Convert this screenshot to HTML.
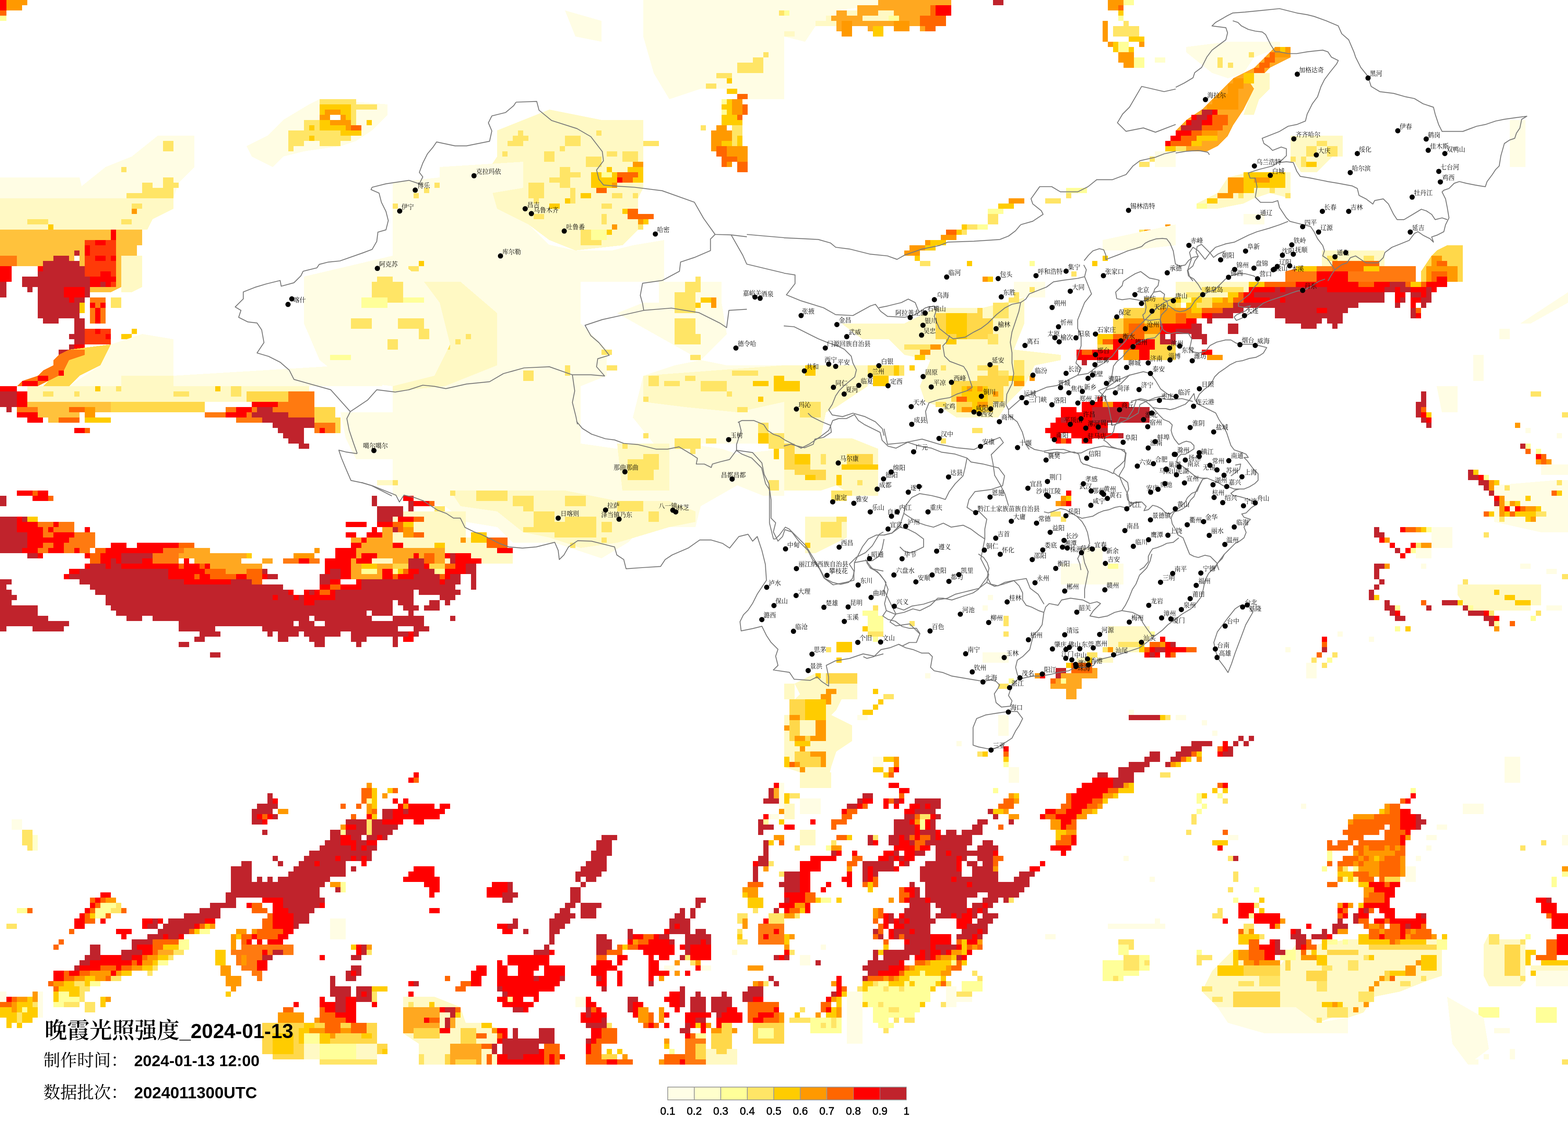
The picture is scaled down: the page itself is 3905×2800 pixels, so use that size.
<!DOCTYPE html>
<html><head><meta charset="utf-8"><title>晚霞光照强度_2024-01-13</title>
<style>
html,body{margin:0;padding:0;background:#fff;}
body{width:3905px;height:2800px;overflow:hidden;position:relative;}
svg{position:absolute;left:0;top:0;}
.c1{fill:#fffee6}
.c2{fill:#ffffcc}
.c3{fill:#ffff99}
.c4{fill:#ffe566}
.c5{fill:#ffcc00}
.c6{fill:#ff9900}
.c7{fill:#ff6600}
.c8{fill:#ff0000}
.c9{fill:#c0232c}
.cw{fill:#ffffff}
.ca{fill:#fffde4}
.cb{fill:#fff9c4}
.cc{fill:#ffd84a}
.cd{fill:#ffa820}
.ce{fill:#ff7a10}
.cf{fill:#ff3a08}
.cg{fill:#ffc23c}
.bd{fill:none;stroke:#7a7a7a;stroke-width:2.2;stroke-linejoin:round}
.ct text{font-family:"Liberation Serif","Noto Serif CJK SC",serif;font-size:15.5px;fill:#000}
.ttl{position:absolute;left:0;top:0;font-family:"Liberation Sans",sans-serif;color:#000;white-space:nowrap}
.cjk{font-family:"Noto Serif CJK SC","Liberation Serif",serif}
.lg text{font-family:"Liberation Sans","DejaVu Sans",sans-serif;font-size:27px;fill:#000;stroke:#000;stroke-width:0.6px}
</style></head><body>
<svg width="3905" height="2800" viewBox="0 0 3905 2800" xmlns="http://www.w3.org/2000/svg" shape-rendering="crispEdges">
<g id="heat">
<path class="c6" d="M16 0L68 0L68 13L16 13Z"/>
<path class="c6" d="M16 13L55 13L55 26L16 26Z"/>
<path class="c8" d="M0 0L16 0L16 39L0 39Z"/>
<path class="c7" d="M0 26L16 26L16 39L0 39Z"/>
<path class="c3" d="M0 39L16 39L16 52L0 52Z"/>
<path class="c4" d="M0 52L0 52L0 65L0 65Z"/>
<path class="ca" d="M614 364L666 338L705 299L770 260L796 247L965 260L965 286L926 325L887 351L848 364L757 377L705 390L679 416L627 390Z"/>
<path class="c4" d="M718 325L757 325L757 299L796 299L796 247L887 247L887 260L939 260L939 273L887 273L887 325L900 325L900 338L874 338L874 351L848 351L848 364L796 364L796 351L757 351L757 364L731 364L731 377L718 377Z"/>
<path class="c5" d="M796 260L874 260L874 325L796 325Z"/>
<path class="c5" d="M848 325L900 325L900 338L848 338Z"/>
<path class="c6" d="M809 273L848 273L848 286L861 286L861 299L874 299L874 312L822 312L822 299L796 299L796 286L809 286Z"/>
<path class="cw" d="M822 286L848 286L848 299L822 299Z"/>
<path class="c6" d="M861 312L874 312L874 325L861 325Z"/>
<path class="c7" d="M874 312L900 312L900 325L874 325Z"/>
<path class="c5" d="M770 312L783 312L783 325L770 325Z"/>
<path class="c5" d="M770 338L783 338L783 351L770 351Z"/>
<path class="c5" d="M913 299L926 299L926 312L913 312Z"/>
<path class="ca" d="M198 468L263 416L328 390L393 338L432 338L484 338L484 416L445 455L432 494L211 494Z"/>
<path class="ca" d="M0 442L198 442L211 494L0 494Z"/>
<path class="c4" d="M367 494L380 494L380 468L406 468L406 442L432 442L432 455L445 455L445 468L432 468L432 494Z"/>
<path class="c4" d="M406 351L432 351L432 377L406 377Z"/>
<path class="c4" d="M302 416L315 416L315 429L302 429Z"/>
<path class="c4" d="M354 455L380 455L380 494L354 494Z"/>
<path class="c4" d="M315 481L354 481L354 494L315 494Z"/>
<path class="cb" d="M0 494L432 494L432 520L380 546L367 572L0 572Z"/>
<path class="c4" d="M328 507L354 507L354 520L328 520Z"/>
<path class="c6" d="M328 520L341 520L341 533L328 533Z"/>
<path class="c4" d="M68 546L120 546L120 559L68 559Z"/>
<path class="c5" d="M120 559L133 559L133 572L120 572Z"/>
<path class="c4" d="M302 546L328 546L328 559L302 559Z"/>
<path class="cg" d="M0 572L354 572L354 611L341 611L341 637L302 637L302 715L276 728L224 728L224 689L211 689L211 663L198 663L198 624L185 624L185 650L172 650L172 637L133 637L133 650L107 650L107 676L94 676L94 689L55 689L55 663L42 663L42 650L0 650Z"/>
<path class="cb" d="M302 637L354 637L354 715L328 728L302 728L302 715Z"/>
<path class="cw" d="M55 663L94 663L94 689L55 689Z"/>
<path class="cw" d="M0 728L55 728L55 806L0 806Z"/>
<path class="cf" d="M211 598L289 598L289 715L211 715Z"/>
<path class="c8" d="M276 572L289 572L289 598L276 598Z"/>
<path class="c8" d="M237 598L263 598L263 611L237 611Z"/>
<path class="c8" d="M211 611L224 611L224 637L211 637Z"/>
<path class="c8" d="M276 637L289 637L289 650L276 650Z"/>
<path class="c8" d="M237 637L263 637L263 650L237 650Z"/>
<path class="c8" d="M250 676L276 676L276 689L250 689Z"/>
<path class="c8" d="M224 689L289 689L289 702L224 702Z"/>
<path class="c8" d="M224 702L250 702L250 715L224 715Z"/>
<path class="c8" d="M263 702L276 702L276 715L263 715Z"/>
<path class="ce" d="M0 637L42 637L42 663L0 663Z"/>
<path class="c8" d="M0 663L29 663L29 702L0 702Z"/>
<path class="c9" d="M185 624L198 624L198 637L185 637Z"/>
<path class="c9" d="M133 637L172 637L172 650L133 650Z"/>
<path class="c9" d="M107 650L198 650L198 663L107 663Z"/>
<path class="c9" d="M107 663L211 663L211 676L107 676Z"/>
<path class="c9" d="M94 676L211 676L211 689L94 689Z"/>
<path class="c9" d="M55 689L224 689L224 715L55 715Z"/>
<path class="c9" d="M68 715L81 715L81 728L68 728Z"/>
<path class="c9" d="M94 715L159 715L159 741L94 741Z"/>
<path class="c9" d="M211 715L224 715L224 741L211 741Z"/>
<path class="c9" d="M94 741L211 741L211 754L94 754Z"/>
<path class="c9" d="M94 754L198 754L198 793L94 793Z"/>
<path class="c9" d="M107 793L146 793L146 806L107 806Z"/>
<path class="c9" d="M185 793L211 793L211 832L185 832Z"/>
<path class="c9" d="M172 832L211 832L211 845L172 845Z"/>
<path class="c9" d="M185 845L211 845L211 858L185 858Z"/>
<path class="c9" d="M172 858L185 858L185 871L172 871Z"/>
<path class="c9" d="M146 871L172 871L172 884L146 884Z"/>
<path class="c9" d="M0 702L16 702L16 741L0 741Z"/>
<path class="c9" d="M250 702L263 702L263 715L250 715Z"/>
<path class="c8" d="M159 715L211 715L211 741L159 741Z"/>
<path class="c8" d="M172 741L185 741L185 754L172 754Z"/>
<path class="c8" d="M185 858L211 858L211 871L185 871Z"/>
<path class="c8" d="M94 663L107 663L107 676L94 676Z"/>
<path class="ce" d="M224 741L263 741L263 806L224 806Z"/>
<path class="c8" d="M224 754L237 754L237 767L224 767Z"/>
<path class="c8" d="M237 767L250 767L250 806L237 806Z"/>
<path class="c8" d="M250 754L263 754L263 767L250 767Z"/>
<path class="c5" d="M198 754L211 754L211 780L198 780Z"/>
<path class="c4" d="M276 741L302 741L302 767L276 767Z"/>
<path class="cf" d="M211 819L276 819L276 858L211 858Z"/>
<path class="c8" d="M237 819L250 819L250 832L237 832Z"/>
<path class="c8" d="M263 832L276 832L276 845L263 845Z"/>
<path class="c5" d="M302 832L328 832L328 845L302 845Z"/>
<path class="c5" d="M328 819L341 819L341 832L328 832Z"/>
<path class="cc" d="M172 871L276 858L276 884L250 910L198 936L172 962L107 962L146 923L146 884L172 884Z"/>
<path class="ce" d="M172 871L211 871L211 884L172 897L159 923L146 923L146 936L120 949L94 962L42 962L55 949L94 936L107 923L133 910L133 897L146 884Z"/>
<path class="c8" d="M146 923L159 923L159 936L146 936Z"/>
<path class="c8" d="M94 936L120 936L120 949L94 949Z"/>
<path class="c8" d="M55 949L94 949L94 962L55 962Z"/>
<path class="ca" d="M276 858L354 832L432 845L432 962L172 962L250 910Z"/>
<path class="ca" d="M432 936L861 910L952 949L952 962L432 962Z"/>
<path class="cb" d="M302 936L432 936L432 962L302 962Z"/>
<path class="c9" d="M0 975L42 975L42 1014L0 1014Z"/>
<path class="c9" d="M16 1014L29 1014L29 1027L16 1027Z"/>
<path class="c8" d="M0 962L42 962L42 975L0 975Z"/>
<path class="c8" d="M42 975L68 975L68 1014L42 1014Z"/>
<path class="ce" d="M42 1014L94 1014L94 1027L42 1027Z"/>
<path class="c8" d="M42 1027L120 1027L120 1040L42 1040Z"/>
<path class="c8" d="M68 1040L107 1040L107 1053L68 1053Z"/>
<path class="cg" d="M68 1001L276 1001L510 1001L510 1027L198 1027L198 1053L120 1053L120 1040L94 1040L94 1014L68 1014Z"/>
<path class="cb" d="M68 962L770 962L770 1001L68 1001Z"/>
<path class="c4" d="M107 975L133 975L133 988L107 988Z"/>
<path class="c4" d="M185 975L198 975L198 988L185 988Z"/>
<path class="c5" d="M237 962L250 962L250 975L237 975Z"/>
<path class="c4" d="M289 962L302 962L302 975L289 975Z"/>
<path class="c4" d="M432 975L471 975L471 988L432 988Z"/>
<path class="c5" d="M536 962L549 962L549 975L536 975Z"/>
<path class="c4" d="M575 962L601 962L601 988L575 988Z"/>
<path class="cc" d="M614 975L640 975L640 1001L614 1001Z"/>
<path class="c7" d="M146 1040L198 1040L198 1053L146 1053Z"/>
<path class="c5" d="M211 1040L276 1040L276 1053L211 1053Z"/>
<path class="c7" d="M172 1014L211 1014L211 1027L172 1027Z"/>
<path class="c6" d="M211 1014L237 1014L237 1040L211 1040Z"/>
<path class="c8" d="M185 1066L211 1066L211 1079L185 1079Z"/>
<path class="c7" d="M211 1066L224 1066L224 1079L211 1079Z"/>
<path class="cc" d="M276 1001L510 1001L510 1027L276 1027Z"/>
<path class="ce" d="M510 1027L562 1027L562 1014L627 1014L627 1001L718 1001L718 975L783 975L783 1014L835 1014L835 1079L783 1079L783 1053L588 1053L588 1040L510 1040Z"/>
<path class="cc" d="M718 975L640 975L640 1001L718 1001Z"/>
<path class="cc" d="M783 1014L835 1014L835 1040L848 1040L848 1079L835 1079L835 1053L783 1053Z"/>
<path class="c8" d="M562 1027L614 1027L614 1040L562 1040Z"/>
<path class="c8" d="M588 1014L627 1014L627 1027L588 1027Z"/>
<path class="c8" d="M627 1001L692 1001L692 1014L627 1014Z"/>
<path class="c8" d="M640 1027L666 1027L666 1040L640 1040Z"/>
<path class="c8" d="M796 1066L809 1066L809 1079L796 1079Z"/>
<path class="c9" d="M640 1014L679 1014L679 1027L718 1027L718 1040L783 1040L783 1066L757 1066L757 1105L770 1105L770 1118L744 1118L744 1105L718 1105L718 1092L705 1092L705 1079L692 1079L692 1066L679 1066L679 1053L653 1053L653 1040L627 1040L627 1027L640 1027Z"/>
<path class="c8" d="M42 1222L81 1222L81 1235L42 1235Z"/>
<path class="c7" d="M81 1222L94 1222L94 1235L81 1235Z"/>
<path class="c8" d="M94 1222L120 1222L120 1248L94 1248Z"/>
<path class="c8" d="M81 1235L94 1235L94 1248L81 1248Z"/>
<path class="c7" d="M120 1235L133 1235L133 1248L120 1248Z"/>
<path class="c9" d="M0 1209L0 1209L0 1287L0 1287Z"/>
<path class="c9" d="M0 1235L16 1235L16 1261L0 1261Z"/>
<path class="c9" d="M0 1287L68 1287L68 1378L0 1378Z"/>
<path class="ce" d="M29 1287L94 1287L94 1300L185 1300L185 1326L237 1326L237 1365L224 1365L224 1378L68 1378L68 1287Z"/>
<path class="c5" d="M68 1287L94 1287L94 1300L68 1300Z"/>
<path class="c8" d="M42 1287L55 1287L55 1300L42 1300Z"/>
<path class="c8" d="M42 1300L94 1300L94 1313L42 1313Z"/>
<path class="c8" d="M42 1313L107 1313L107 1326L42 1326Z"/>
<path class="c8" d="M68 1326L107 1326L107 1365L68 1365Z"/>
<path class="c8" d="M133 1300L146 1300L146 1313L133 1313Z"/>
<path class="c8" d="M120 1313L133 1313L133 1326L120 1326Z"/>
<path class="c8" d="M133 1326L185 1326L185 1339L133 1339Z"/>
<path class="c8" d="M107 1339L172 1339L172 1352L107 1352Z"/>
<path class="c8" d="M133 1352L159 1352L159 1378L133 1378Z"/>
<path class="c8" d="M55 1365L94 1365L94 1378L55 1378Z"/>
<path class="c8" d="M120 1365L146 1365L146 1378L120 1378Z"/>
<path class="c8" d="M185 1365L198 1365L198 1378L185 1378Z"/>
<path class="c8" d="M211 1313L224 1313L224 1326L211 1326Z"/>
<path class="c9" d="M68 1378L94 1378L94 1391L68 1391Z"/>
<path class="c8" d="M94 1378L107 1378L107 1391L94 1391Z"/>
<path class="c8" d="M276 1352L315 1352L315 1365L276 1365Z"/>
<path class="c8" d="M341 1352L445 1352L445 1365L341 1365Z"/>
<path class="c7" d="M445 1352L484 1352L484 1365L445 1365Z"/>
<path class="c7" d="M237 1365L263 1365L263 1378L237 1378Z"/>
<path class="c8" d="M263 1365L406 1365L406 1378L263 1378Z"/>
<path class="ce" d="M406 1365L458 1365L458 1378L406 1378Z"/>
<path class="cd" d="M458 1365L523 1365L523 1378L458 1378Z"/>
<path class="c8" d="M211 1378L224 1378L224 1391L211 1391Z"/>
<path class="c7" d="M224 1378L250 1378L250 1391L224 1391Z"/>
<path class="c8" d="M250 1378L302 1378L302 1391L250 1391Z"/>
<path class="c9" d="M302 1378L380 1378L380 1391L302 1391Z"/>
<path class="ce" d="M380 1378L445 1378L445 1391L380 1391Z"/>
<path class="cd" d="M445 1378L614 1378L614 1391L445 1391Z"/>
<path class="c5" d="M614 1378L627 1378L627 1391L614 1391Z"/>
<path class="c7" d="M224 1391L250 1391L250 1404L224 1404Z"/>
<path class="c8" d="M250 1391L276 1391L276 1404L250 1404Z"/>
<path class="c9" d="M276 1391L289 1391L289 1404L276 1404Z"/>
<path class="c8" d="M289 1391L302 1391L302 1404L289 1404Z"/>
<path class="c9" d="M302 1391L354 1391L354 1404L302 1404Z"/>
<path class="c8" d="M354 1391L380 1391L380 1404L354 1404Z"/>
<path class="ce" d="M380 1391L445 1391L445 1404L380 1404Z"/>
<path class="c8" d="M458 1391L471 1391L471 1404L458 1404Z"/>
<path class="cd" d="M484 1391L601 1391L601 1404L484 1404Z"/>
<path class="cd" d="M653 1391L679 1391L679 1404L653 1404Z"/>
<path class="ce" d="M705 1391L796 1391L796 1404L705 1404Z"/>
<path class="c8" d="M744 1391L770 1391L770 1404L744 1404Z"/>
<path class="c6" d="M731 1378L783 1378L783 1391L731 1391Z"/>
<path class="c6" d="M783 1365L796 1365L796 1378L783 1378Z"/>
<path class="c8" d="M211 1404L224 1404L224 1417L211 1417Z"/>
<path class="c9" d="M224 1404L263 1404L263 1417L224 1417Z"/>
<path class="c8" d="M263 1404L276 1404L276 1417L263 1417Z"/>
<path class="c9" d="M276 1404L302 1404L302 1417L276 1417Z"/>
<path class="c8" d="M302 1404L445 1404L445 1417L302 1417Z"/>
<path class="c7" d="M445 1404L458 1404L458 1417L445 1417Z"/>
<path class="c8" d="M458 1404L497 1404L497 1417L458 1417Z"/>
<path class="c7" d="M497 1404L510 1404L510 1417L497 1417Z"/>
<path class="c8" d="M510 1404L523 1404L523 1417L510 1417Z"/>
<path class="cd" d="M523 1404L653 1404L653 1417L523 1417Z"/>
<path class="c8" d="M172 1417L198 1417L198 1430L172 1430Z"/>
<path class="c9" d="M198 1417L419 1417L419 1430L198 1430Z"/>
<path class="c8" d="M419 1417L510 1417L510 1430L419 1430Z"/>
<path class="c7" d="M510 1417L562 1417L562 1430L510 1430Z"/>
<path class="cd" d="M562 1417L614 1417L614 1430L562 1430Z"/>
<path class="c7" d="M614 1417L653 1417L653 1430L614 1430Z"/>
<path class="c9" d="M653 1417L666 1417L666 1430L653 1430Z"/>
<path class="c8" d="M159 1430L172 1430L172 1443L159 1443Z"/>
<path class="c9" d="M172 1430L419 1430L419 1443L172 1443Z"/>
<path class="c8" d="M419 1430L484 1430L484 1443L419 1443Z"/>
<path class="c7" d="M484 1430L497 1430L497 1443L484 1443Z"/>
<path class="c8" d="M497 1430L523 1430L523 1443L497 1443Z"/>
<path class="c7" d="M523 1430L588 1430L588 1443L523 1443Z"/>
<path class="c8" d="M588 1430L614 1430L614 1443L588 1443Z"/>
<path class="c7" d="M614 1430L653 1430L653 1443L614 1443Z"/>
<path class="c8" d="M653 1430L666 1430L666 1443L653 1443Z"/>
<path class="c9" d="M666 1430L692 1430L692 1443L666 1443Z"/>
<path class="c9" d="M198 1443L458 1443L458 1456L198 1456Z"/>
<path class="c8" d="M458 1443L575 1443L575 1456L458 1456Z"/>
<path class="c9" d="M575 1443L627 1443L627 1456L575 1456Z"/>
<path class="c7" d="M627 1443L653 1443L653 1456L627 1456Z"/>
<path class="c9" d="M224 1456L705 1456L705 1469L224 1469Z"/>
<path class="c9" d="M237 1469L718 1469L718 1482L237 1482Z"/>
<path class="c8" d="M718 1469L731 1469L731 1482L718 1482Z"/>
<path class="c8" d="M757 1469L770 1469L770 1482L757 1482Z"/>
<path class="c9" d="M770 1469L783 1469L783 1482L770 1482Z"/>
<path class="c8" d="M783 1469L796 1469L796 1482L783 1482Z"/>
<path class="c7" d="M796 1469L822 1469L822 1482L796 1482Z"/>
<path class="c8" d="M822 1469L835 1469L835 1482L822 1482Z"/>
<path class="c9" d="M835 1469L978 1469L978 1482L835 1482Z"/>
<path class="c9" d="M263 1482L679 1482L679 1495L263 1495Z"/>
<path class="c8" d="M679 1482L692 1482L692 1495L679 1495Z"/>
<path class="c9" d="M692 1482L731 1482L731 1495L692 1495Z"/>
<path class="c8" d="M731 1482L744 1482L744 1495L731 1495Z"/>
<path class="c9" d="M744 1482L757 1482L757 1495L744 1495Z"/>
<path class="c8" d="M757 1482L835 1482L835 1495L757 1495Z"/>
<path class="c9" d="M835 1482L978 1482L978 1495L835 1495Z"/>
<path class="c9" d="M263 1495L757 1495L757 1508L263 1508Z"/>
<path class="c8" d="M757 1495L783 1495L783 1508L757 1508Z"/>
<path class="c9" d="M783 1495L978 1495L978 1508L783 1508Z"/>
<path class="c9" d="M276 1508L978 1508L978 1521L276 1521Z"/>
<path class="c9" d="M289 1521L913 1521L913 1534L289 1534Z"/>
<path class="c9" d="M926 1521L978 1521L978 1534L926 1534Z"/>
<path class="c9" d="M315 1534L354 1534L354 1547L315 1547Z"/>
<path class="c9" d="M380 1534L770 1534L770 1547L380 1547Z"/>
<path class="c9" d="M783 1534L926 1534L926 1547L783 1547Z"/>
<path class="c9" d="M445 1547L731 1547L731 1560L445 1560Z"/>
<path class="c9" d="M744 1547L783 1547L783 1560L744 1560Z"/>
<path class="c9" d="M809 1547L978 1547L978 1560L809 1560Z"/>
<path class="c9" d="M445 1560L536 1560L536 1573L445 1573Z"/>
<path class="c9" d="M653 1560L978 1560L978 1573L653 1573Z"/>
<path class="c9" d="M497 1573L549 1573L549 1586L497 1586Z"/>
<path class="c9" d="M666 1573L679 1573L679 1586L666 1586Z"/>
<path class="c9" d="M692 1573L744 1573L744 1586L692 1586Z"/>
<path class="c9" d="M757 1573L848 1573L848 1586L757 1586Z"/>
<path class="c9" d="M874 1573L978 1573L978 1586L874 1586Z"/>
<path class="c9" d="M484 1586L510 1586L510 1599L484 1599Z"/>
<path class="c9" d="M692 1586L718 1586L718 1599L692 1599Z"/>
<path class="c9" d="M770 1586L809 1586L809 1599L770 1599Z"/>
<path class="c9" d="M874 1586L913 1586L913 1599L874 1599Z"/>
<path class="c9" d="M445 1599L471 1599L471 1612L445 1612Z"/>
<path class="c9" d="M783 1599L809 1599L809 1612L783 1612Z"/>
<path class="c9" d="M887 1599L900 1599L900 1612L887 1612Z"/>
<path class="c9" d="M523 1625L549 1625L549 1638L523 1638Z"/>
<path class="c9" d="M926 1235L939 1235L939 1261L926 1261Z"/>
<path class="c9" d="M939 1261L978 1261L978 1300L939 1300Z"/>
<path class="c8" d="M861 1300L913 1300L913 1313L861 1313Z"/>
<path class="c8" d="M939 1300L978 1300L978 1313L939 1313Z"/>
<path class="c8" d="M926 1313L939 1313L939 1326L926 1326Z"/>
<path class="c8" d="M861 1326L887 1326L887 1339L861 1339Z"/>
<path class="c8" d="M913 1326L952 1326L952 1339L913 1339Z"/>
<path class="cd" d="M952 1313L978 1313L978 1339L952 1339Z"/>
<path class="cd" d="M874 1339L978 1339L978 1443L861 1443L861 1417L874 1417Z"/>
<path class="c8" d="M835 1365L874 1365L874 1352L900 1352L900 1339L913 1339L913 1352L900 1352L900 1365L887 1365L887 1391L874 1391L874 1443L848 1443L848 1456L822 1456L822 1469L796 1469L796 1430L809 1430L809 1391L835 1391Z"/>
<path class="c9" d="M822 1417L848 1417L848 1443L822 1443Z"/>
<path class="c9" d="M796 1430L822 1430L822 1456L796 1456Z"/>
<path class="c8" d="M887 1391L926 1391L926 1404L887 1404Z"/>
<path class="c8" d="M900 1378L939 1378L939 1391L900 1391Z"/>
<path class="c8" d="M952 1417L978 1417L978 1443L952 1443Z"/>
<path class="c8" d="M887 1443L900 1443L900 1456L887 1456Z"/>
<path class="c9" d="M900 1443L978 1443L978 1469L900 1469Z"/>
<path class="c8" d="M848 1456L900 1456L900 1469L848 1469Z"/>
<path class="c7" d="M822 1456L848 1456L848 1469L822 1469Z"/>
<path class="c3" d="M900 1417L939 1417L939 1430L900 1430Z"/>
<path class="c5" d="M900 1404L939 1404L939 1417L900 1417Z"/>
<path class="cb" d="M926 1391L978 1391L978 1404L926 1404Z"/>
<path class="c9" d="M0 1443L29 1443L29 1456L0 1456Z"/>
<path class="c9" d="M0 1456L16 1456L16 1469L0 1469Z"/>
<path class="c9" d="M0 1469L29 1469L29 1482L0 1482Z"/>
<path class="c9" d="M0 1482L42 1482L42 1495L0 1495Z"/>
<path class="c9" d="M0 1495L29 1495L29 1508L0 1508Z"/>
<path class="c9" d="M0 1508L94 1508L94 1534L0 1534Z"/>
<path class="c9" d="M0 1534L120 1534L120 1547L0 1547Z"/>
<path class="c9" d="M0 1547L172 1547L172 1560L0 1560Z"/>
<path class="c9" d="M0 1560L16 1560L16 1573L0 1573Z"/>
<path class="c9" d="M81 1560L159 1560L159 1573L81 1573Z"/>
<path class="ca" d="M848 1027L978 1027L978 1144L887 1144L861 1092Z"/>
<path class="cb" d="M939 1196L978 1196L978 1209L939 1209Z"/>
<path class="c4" d="M55 2067L81 2067L81 2106L55 2106Z"/>
<path class="c4" d="M68 2106L81 2106L81 2119L68 2119Z"/>
<path class="c2" d="M81 2080L94 2080L94 2119L81 2119Z"/>
<path class="c1" d="M29 2041L55 2041L55 2067L29 2067Z"/>
<path class="c4" d="M16 2301L42 2301L42 2314L16 2314Z"/>
<path class="c3" d="M42 2262L68 2262L68 2275L42 2275Z"/>
<path class="c7" d="M68 2262L81 2262L81 2275L68 2275Z"/>
<path class="c8" d="M250 2223L276 2223L276 2236L250 2236Z"/>
<path class="c7" d="M224 2236L237 2236L237 2249L224 2249Z"/>
<path class="c8" d="M237 2236L250 2236L250 2249L237 2249Z"/>
<path class="c7" d="M250 2236L263 2236L263 2249L250 2249Z"/>
<path class="c6" d="M263 2236L289 2236L289 2249L263 2249Z"/>
<path class="c8" d="M224 2249L237 2249L237 2262L224 2262Z"/>
<path class="c7" d="M237 2249L250 2249L250 2262L237 2262Z"/>
<path class="c3" d="M250 2249L289 2249L289 2262L250 2262Z"/>
<path class="c4" d="M289 2249L302 2249L302 2262L289 2262Z"/>
<path class="c8" d="M211 2262L224 2262L224 2275L211 2275Z"/>
<path class="c7" d="M224 2262L237 2262L237 2275L224 2275Z"/>
<path class="c3" d="M237 2262L276 2262L276 2275L237 2275Z"/>
<path class="c4" d="M276 2262L302 2262L302 2275L276 2275Z"/>
<path class="c7" d="M302 2262L315 2262L315 2275L302 2275Z"/>
<path class="c8" d="M198 2275L211 2275L211 2288L198 2288Z"/>
<path class="c7" d="M211 2275L224 2275L224 2301L211 2301Z"/>
<path class="c5" d="M224 2275L237 2275L237 2288L224 2288Z"/>
<path class="c3" d="M237 2275L263 2275L263 2288L237 2288Z"/>
<path class="c7" d="M263 2275L276 2275L276 2288L263 2288Z"/>
<path class="c8" d="M185 2288L211 2288L211 2314L185 2314Z"/>
<path class="c7" d="M224 2288L237 2288L237 2301L224 2301Z"/>
<path class="c8" d="M250 2288L263 2288L263 2301L250 2301Z"/>
<path class="c7" d="M172 2314L185 2314L185 2327L172 2327Z"/>
<path class="c8" d="M289 2314L328 2314L328 2327L289 2327Z"/>
<path class="c8" d="M302 2327L315 2327L315 2340L302 2340Z"/>
<path class="c8" d="M354 2288L380 2288L380 2301L354 2301Z"/>
<path class="c9" d="M380 2288L393 2288L393 2301L380 2301Z"/>
<path class="c8" d="M393 2288L406 2288L406 2301L393 2301Z"/>
<path class="c8" d="M354 2301L367 2301L367 2314L354 2314Z"/>
<path class="c9" d="M367 2301L393 2301L393 2314L367 2314Z"/>
<path class="c7" d="M146 2340L159 2340L159 2353L146 2353Z"/>
<path class="c7" d="M133 2353L146 2353L146 2366L133 2366Z"/>
<path class="c9" d="M224 2353L250 2353L250 2366L224 2366Z"/>
<path class="c9" d="M315 2366L328 2366L328 2340L367 2340L367 2327L393 2327L393 2314L406 2314L406 2301L419 2301L419 2288L458 2288L458 2275L497 2275L497 2262L523 2262L523 2249L562 2249L562 2223L575 2223L575 2158L601 2158L601 2145L627 2145L627 2197L640 2197L640 2184L653 2184L653 2197L666 2197L666 2184L679 2184L679 2197L692 2197L692 2184L718 2184L718 2171L731 2171L731 2158L744 2158L744 2145L757 2145L757 2132L770 2132L770 2119L796 2119L796 2106L809 2106L809 2093L822 2093L822 2067L848 2067L848 2054L861 2054L861 2041L952 2041L952 2015L978 2015L978 2080L965 2080L965 2093L939 2093L939 2119L926 2119L926 2145L861 2145L861 2184L822 2184L822 2197L809 2197L809 2210L796 2210L796 2236L809 2236L809 2262L783 2262L783 2275L770 2275L770 2301L744 2301L744 2314L731 2314L731 2275L705 2275L705 2236L588 2236L588 2262L549 2262L549 2288L536 2288L536 2301L484 2301L484 2314L471 2314L471 2327L458 2327L458 2340L406 2340L406 2353L380 2353L380 2366Z"/>
<path class="c8" d="M614 2249L627 2249L627 2262L614 2262Z"/>
<path class="c7" d="M627 2249L653 2249L653 2262L627 2262Z"/>
<path class="c7" d="M627 2262L666 2262L666 2275L627 2275Z"/>
<path class="c8" d="M653 2236L705 2236L705 2262L718 2262L718 2301L731 2301L731 2327L718 2327L718 2340L705 2340L705 2353L666 2353L666 2340L692 2340L692 2314L679 2314L679 2249L653 2249Z"/>
<path class="c7" d="M666 2275L679 2275L679 2314L705 2314L705 2327L692 2327L692 2340L640 2340L640 2314L653 2314L653 2288L666 2288Z"/>
<path class="c6" d="M588 2314L614 2314L614 2327L588 2327Z"/>
<path class="c6" d="M575 2327L588 2327L588 2366L575 2366Z"/>
<path class="c5" d="M588 2327L601 2327L601 2340L588 2340Z"/>
<path class="c7" d="M601 2327L627 2327L627 2366L601 2366Z"/>
<path class="c8" d="M614 2340L627 2340L627 2353L614 2353Z"/>
<path class="c8" d="M627 2327L640 2327L640 2340L627 2340Z"/>
<path class="c6" d="M627 2314L640 2314L640 2327L627 2327Z"/>
<path class="c8" d="M640 2340L653 2340L653 2366L640 2366Z"/>
<path class="c7" d="M653 2353L666 2353L666 2366L653 2366Z"/>
<path class="c9" d="M679 2353L705 2353L705 2366L679 2366Z"/>
<path class="c8" d="M510 2288L536 2288L536 2301L510 2301Z"/>
<path class="c8" d="M484 2301L497 2301L497 2314L484 2314Z"/>
<path class="c7" d="M497 2301L510 2301L510 2314L497 2314Z"/>
<path class="c5" d="M510 2301L523 2301L523 2314L510 2314Z"/>
<path class="c6" d="M523 2301L536 2301L536 2314L523 2314Z"/>
<path class="c7" d="M471 2314L484 2314L484 2327L471 2327Z"/>
<path class="c5" d="M484 2314L497 2314L497 2327L484 2327Z"/>
<path class="c3" d="M497 2314L523 2314L523 2327L497 2327Z"/>
<path class="c8" d="M406 2327L419 2327L419 2340L406 2340Z"/>
<path class="c8" d="M445 2327L458 2327L458 2340L445 2340Z"/>
<path class="c7" d="M380 2340L445 2340L445 2366L380 2366Z"/>
<path class="c5" d="M406 2353L445 2353L445 2366L406 2366Z"/>
<path class="c3" d="M445 2340L471 2340L471 2366L445 2366Z"/>
<path class="c8" d="M341 2353L380 2353L380 2366L341 2366Z"/>
<path class="c8" d="M861 2054L887 2054L887 2067L861 2067Z"/>
<path class="c8" d="M848 2080L874 2080L874 2106L848 2106Z"/>
<path class="c8" d="M874 2093L887 2093L887 2119L874 2119Z"/>
<path class="c8" d="M900 2106L913 2106L913 2119L900 2119Z"/>
<path class="c8" d="M913 2093L939 2093L939 2106L913 2106Z"/>
<path class="c8" d="M939 2080L952 2080L952 2093L939 2093Z"/>
<path class="c8" d="M952 2041L978 2041L978 2054L952 2054Z"/>
<path class="c8" d="M835 2132L848 2132L848 2145L835 2145Z"/>
<path class="c8" d="M874 2132L887 2132L887 2145L874 2145Z"/>
<path class="c8" d="M900 2132L913 2132L913 2158L900 2158Z"/>
<path class="c8" d="M783 2145L796 2145L796 2158L783 2158Z"/>
<path class="c8" d="M796 2249L809 2249L809 2262L796 2262Z"/>
<path class="cw" d="M900 2080L913 2080L913 2093L900 2093Z"/>
<path class="c9" d="M666 1976L679 1976L679 2002L666 2002Z"/>
<path class="c8" d="M679 1989L692 1989L692 2002L679 2002Z"/>
<path class="c9" d="M640 2002L692 2002L692 2015L640 2015Z"/>
<path class="c9" d="M627 2015L679 2015L679 2028L627 2028Z"/>
<path class="c9" d="M627 2028L640 2028L640 2054L627 2054Z"/>
<path class="c9" d="M640 2041L653 2041L653 2054L640 2054Z"/>
<path class="c8" d="M640 2028L653 2028L653 2041L640 2041Z"/>
<path class="c7" d="M653 2028L666 2028L666 2041L653 2041Z"/>
<path class="c8" d="M666 2028L679 2028L679 2041L666 2041Z"/>
<path class="c9" d="M679 2028L692 2028L692 2041L679 2041Z"/>
<path class="c8" d="M653 2041L666 2041L666 2054L653 2054Z"/>
<path class="c6" d="M692 2015L718 2015L718 2028L692 2028Z"/>
<path class="c9" d="M653 2067L666 2067L666 2080L653 2080Z"/>
<path class="c9" d="M679 2132L692 2132L692 2145L679 2145Z"/>
<path class="c9" d="M692 2145L705 2145L705 2158L692 2158Z"/>
<path class="c9" d="M874 2158L887 2158L887 2171L874 2171Z"/>
<path class="c9" d="M835 2210L848 2210L848 2223L835 2223Z"/>
<path class="c6" d="M822 2197L848 2197L848 2210L822 2210Z"/>
<path class="c3" d="M848 2197L861 2197L861 2223L848 2223Z"/>
<path class="c7" d="M900 1963L926 1963L926 2002L900 2002Z"/>
<path class="c6" d="M913 1950L926 1950L926 1963L913 1963Z"/>
<path class="c5" d="M926 1963L939 1963L939 2028L926 2028Z"/>
<path class="c3" d="M913 1989L926 1989L926 2002L913 2002Z"/>
<path class="c6" d="M913 2002L926 2002L926 2028L913 2028Z"/>
<path class="c7" d="M926 2015L939 2015L939 2028L926 2028Z"/>
<path class="c8" d="M913 2028L926 2028L926 2041L913 2041Z"/>
<path class="c5" d="M926 2028L939 2028L939 2041L926 2041Z"/>
<path class="c4" d="M913 2041L926 2041L926 2080L913 2080Z"/>
<path class="c7" d="M848 2002L861 2002L861 2015L848 2015Z"/>
<path class="c7" d="M887 2002L900 2002L900 2015L887 2015Z"/>
<path class="c7" d="M874 2028L887 2028L887 2041L874 2041Z"/>
<path class="c6" d="M848 2054L861 2054L861 2067L848 2067Z"/>
<path class="c3" d="M848 2067L861 2067L861 2080L848 2080Z"/>
<path class="c6" d="M952 1976L965 1976L965 1989L952 1989Z"/>
<path class="c5" d="M965 1963L978 1963L978 1976L965 1976Z"/>
<path class="ca" d="M822 2288L861 2288L861 2340L822 2340Z"/>
<path class="c4" d="M874 2353L887 2353L887 2366L874 2366Z"/>
<path class="c8" d="M887 2353L913 2353L913 2366L887 2366Z"/>
<path class="c6" d="M913 2353L926 2353L926 2366L913 2366Z"/>
<path class="c8" d="M718 2275L731 2275L731 2301L718 2301Z"/>
<path class="c8" d="M133 2418L159 2418L159 2444L133 2444Z"/>
<path class="c7" d="M159 2418L172 2418L172 2431L159 2431Z"/>
<path class="c8" d="M172 2418L198 2418L198 2431L172 2431Z"/>
<path class="c7" d="M198 2418L224 2418L224 2431L198 2431Z"/>
<path class="c6" d="M224 2418L276 2418L276 2431L224 2431Z"/>
<path class="c8" d="M276 2418L289 2418L289 2431L276 2431Z"/>
<path class="c6" d="M289 2418L302 2418L302 2431L289 2431Z"/>
<path class="c5" d="M302 2418L328 2418L328 2431L302 2431Z"/>
<path class="c7" d="M159 2431L185 2431L185 2444L159 2444Z"/>
<path class="c6" d="M185 2431L211 2431L211 2444L185 2444Z"/>
<path class="c5" d="M211 2431L237 2431L237 2444L211 2444Z"/>
<path class="c6" d="M237 2431L263 2431L263 2444L237 2444Z"/>
<path class="c7" d="M263 2431L276 2431L276 2444L263 2444Z"/>
<path class="c4" d="M276 2431L302 2431L302 2444L276 2444Z"/>
<path class="c7" d="M120 2444L133 2444L133 2457L120 2457Z"/>
<path class="c6" d="M133 2444L159 2444L159 2457L133 2457Z"/>
<path class="c5" d="M159 2444L185 2444L185 2457L159 2457Z"/>
<path class="c4" d="M185 2444L211 2444L211 2457L185 2457Z"/>
<path class="c5" d="M211 2444L224 2444L224 2457L211 2457Z"/>
<path class="c3" d="M224 2444L250 2444L250 2457L224 2457Z"/>
<path class="c7" d="M133 2457L146 2457L146 2470L133 2470Z"/>
<path class="c5" d="M146 2457L198 2457L198 2470L146 2470Z"/>
<path class="c4" d="M198 2457L224 2457L224 2470L198 2470Z"/>
<path class="c5" d="M133 2470L146 2470L146 2496L133 2496Z"/>
<path class="c3" d="M146 2470L172 2470L172 2483L146 2483Z"/>
<path class="c5" d="M172 2470L198 2470L198 2483L172 2483Z"/>
<path class="c4" d="M198 2470L211 2470L211 2483L198 2483Z"/>
<path class="c3" d="M146 2483L198 2483L198 2496L146 2496Z"/>
<path class="c4" d="M198 2483L211 2483L211 2496L198 2496Z"/>
<path class="c5" d="M250 2483L263 2483L263 2496L250 2496Z"/>
<path class="c6" d="M263 2483L276 2483L276 2496L263 2496Z"/>
<path class="c3" d="M133 2496L159 2496L159 2509L133 2509Z"/>
<path class="c4" d="M159 2496L198 2496L198 2509L159 2509Z"/>
<path class="c4" d="M211 2496L237 2496L237 2522L211 2522Z"/>
<path class="c5" d="M250 2496L263 2496L263 2509L250 2509Z"/>
<path class="c9" d="M224 2366L250 2366L250 2379L224 2379Z"/>
<path class="c9" d="M302 2366L354 2366L354 2379L302 2379Z"/>
<path class="c8" d="M354 2366L380 2366L380 2379L354 2379Z"/>
<path class="c7" d="M380 2366L393 2366L393 2379L380 2379Z"/>
<path class="cd" d="M393 2366L432 2366L432 2379L393 2379Z"/>
<path class="c4" d="M432 2366L458 2366L458 2379L432 2379Z"/>
<path class="c9" d="M211 2379L250 2379L250 2392L211 2392Z"/>
<path class="c8" d="M250 2379L302 2379L302 2392L250 2392Z"/>
<path class="c9" d="M302 2379L328 2379L328 2392L302 2392Z"/>
<path class="c8" d="M328 2379L354 2379L354 2392L328 2392Z"/>
<path class="c7" d="M354 2379L367 2379L367 2392L354 2392Z"/>
<path class="c6" d="M367 2379L393 2379L393 2392L367 2392Z"/>
<path class="c5" d="M393 2379L419 2379L419 2392L393 2392Z"/>
<path class="c4" d="M419 2379L432 2379L432 2392L419 2392Z"/>
<path class="c9" d="M198 2392L224 2392L224 2405L198 2405Z"/>
<path class="c8" d="M224 2392L328 2392L328 2405L224 2405Z"/>
<path class="c7" d="M328 2392L341 2392L341 2405L328 2405Z"/>
<path class="c8" d="M341 2392L354 2392L354 2405L341 2405Z"/>
<path class="c6" d="M354 2392L380 2392L380 2405L354 2405Z"/>
<path class="c5" d="M380 2392L393 2392L393 2405L380 2405Z"/>
<path class="c3" d="M393 2392L419 2392L419 2405L393 2405Z"/>
<path class="c9" d="M185 2405L198 2405L198 2418L185 2418Z"/>
<path class="c8" d="M198 2405L250 2405L250 2418L198 2418Z"/>
<path class="c7" d="M250 2405L289 2405L289 2418L250 2418Z"/>
<path class="c8" d="M289 2405L302 2405L302 2418L289 2418Z"/>
<path class="c7" d="M302 2405L328 2405L328 2418L302 2418Z"/>
<path class="c6" d="M328 2405L354 2405L354 2418L328 2418Z"/>
<path class="c5" d="M354 2405L380 2405L380 2418L354 2418Z"/>
<path class="c4" d="M380 2405L393 2405L393 2418L380 2418Z"/>
<path class="c4" d="M367 2418L380 2418L380 2431L367 2431Z"/>
<path class="c8" d="M16 2483L29 2483L29 2496L16 2496Z"/>
<path class="c7" d="M29 2483L42 2483L42 2496L29 2496Z"/>
<path class="c6" d="M42 2483L68 2483L68 2496L42 2496Z"/>
<path class="c5" d="M68 2483L81 2483L81 2496L68 2496Z"/>
<path class="c6" d="M81 2470L94 2470L94 2496L81 2496Z"/>
<path class="c7" d="M0 2496L29 2496L29 2509L0 2509Z"/>
<path class="c6" d="M29 2496L42 2496L42 2509L29 2509Z"/>
<path class="c5" d="M42 2496L81 2496L81 2509L42 2509Z"/>
<path class="c4" d="M81 2496L94 2496L94 2509L81 2509Z"/>
<path class="c5" d="M0 2509L29 2509L29 2522L0 2522Z"/>
<path class="c6" d="M29 2509L42 2509L42 2522L29 2522Z"/>
<path class="c5" d="M42 2509L55 2509L55 2522L42 2522Z"/>
<path class="c3" d="M55 2509L68 2509L68 2522L55 2522Z"/>
<path class="c5" d="M68 2509L94 2509L94 2522L68 2522Z"/>
<path class="c5" d="M0 2522L42 2522L42 2535L0 2535Z"/>
<path class="c4" d="M42 2522L55 2522L55 2535L42 2535Z"/>
<path class="c5" d="M55 2522L94 2522L94 2535L55 2535Z"/>
<path class="c5" d="M16 2535L42 2535L42 2548L16 2548Z"/>
<path class="c4" d="M42 2535L55 2535L55 2548L42 2548Z"/>
<path class="c5" d="M55 2535L81 2535L81 2548L55 2548Z"/>
<path class="c5" d="M16 2548L29 2548L29 2561L16 2561Z"/>
<path class="c5" d="M42 2548L55 2548L55 2561L42 2561Z"/>
<path class="ca" d="M0 2470L16 2470L16 2496L0 2496Z"/>
<path class="ca" d="M94 2470L107 2470L107 2535L94 2535Z"/>
<path class="ce" d="M575 2366L601 2366L601 2353L731 2353L731 2379L679 2379L679 2392L666 2392L666 2418L653 2418L653 2444L640 2444L640 2431L627 2431L627 2418L601 2418L601 2405L588 2405L588 2379L575 2379Z"/>
<path class="c8" d="M614 2366L627 2366L627 2366L614 2366Z"/>
<path class="c8" d="M640 2366L653 2366L653 2366L640 2366Z"/>
<path class="c9" d="M679 2366L705 2366L705 2379L679 2379Z"/>
<path class="c8" d="M666 2366L679 2366L679 2366L666 2366Z"/>
<path class="c8" d="M653 2366L666 2366L666 2379L653 2379Z"/>
<path class="c9" d="M653 2379L679 2379L679 2392L653 2392Z"/>
<path class="c8" d="M640 2392L666 2392L666 2418L640 2418Z"/>
<path class="c6" d="M601 2379L614 2379L614 2405L601 2405Z"/>
<path class="c5" d="M536 2366L562 2366L562 2405L536 2405Z"/>
<path class="c6" d="M549 2405L575 2405L575 2431L549 2431Z"/>
<path class="c6" d="M562 2431L601 2431L601 2457L562 2457Z"/>
<path class="c6" d="M575 2457L588 2457L588 2470L575 2470Z"/>
<path class="c5" d="M562 2470L575 2470L575 2483L562 2483Z"/>
<path class="c5" d="M874 2353L887 2353L887 2366L874 2366Z"/>
<path class="c8" d="M887 2353L900 2353L900 2379L887 2379Z"/>
<path class="c9" d="M900 2353L913 2353L913 2379L900 2379Z"/>
<path class="c6" d="M913 2353L926 2353L926 2366L913 2366Z"/>
<path class="c4" d="M913 2366L926 2366L926 2379L913 2379Z"/>
<path class="c9" d="M874 2379L900 2379L900 2392L874 2392Z"/>
<path class="c8" d="M796 2379L809 2379L809 2392L796 2392Z"/>
<path class="c9" d="M874 2405L900 2405L900 2418L874 2418Z"/>
<path class="c9" d="M861 2418L900 2418L900 2431L861 2431Z"/>
<path class="c8" d="M874 2418L887 2418L887 2431L874 2431Z"/>
<path class="c9" d="M861 2431L887 2431L887 2444L861 2444Z"/>
<path class="c9" d="M822 2431L835 2431L835 2457L822 2457Z"/>
<path class="c9" d="M822 2457L874 2457L874 2483L822 2483Z"/>
<path class="c9" d="M835 2483L861 2483L861 2522L835 2522Z"/>
<path class="c8" d="M796 2483L809 2483L809 2509L796 2509Z"/>
<path class="c8" d="M809 2496L835 2496L835 2522L809 2522Z"/>
<path class="c8" d="M861 2483L887 2483L887 2548L861 2548Z"/>
<path class="c9" d="M887 2457L926 2457L926 2496L887 2496Z"/>
<path class="c8" d="M900 2470L913 2470L913 2483L900 2483Z"/>
<path class="c5" d="M926 2457L965 2457L965 2470L926 2470Z"/>
<path class="c4" d="M926 2470L939 2470L939 2496L926 2496Z"/>
<path class="c8" d="M926 2496L939 2496L939 2509L926 2509Z"/>
<path class="c8" d="M731 2496L744 2496L744 2509L731 2509Z"/>
<path class="c8" d="M835 2522L861 2522L861 2535L835 2535Z"/>
<path class="c7" d="M705 2509L731 2509L731 2522L705 2522Z"/>
<path class="c6" d="M692 2522L757 2522L757 2548L692 2548Z"/>
<path class="c7" d="M796 2509L809 2509L809 2522L796 2522Z"/>
<path class="c7" d="M796 2522L835 2522L835 2548L796 2548Z"/>
<path class="c6" d="M783 2535L796 2535L796 2548L783 2548Z"/>
<path class="c7" d="M835 2535L861 2535L861 2548L835 2548Z"/>
<path class="cc" d="M653 2548L939 2548L939 2600L965 2600L965 2626L939 2626L939 2652L796 2652L796 2639L679 2639L679 2626L653 2626Z"/>
<path class="c5" d="M757 2548L783 2548L783 2561L757 2561Z"/>
<path class="c6" d="M770 2561L809 2561L809 2574L770 2574Z"/>
<path class="c7" d="M809 2548L848 2548L848 2574L809 2574Z"/>
<path class="c7" d="M874 2548L913 2548L913 2574L874 2574Z"/>
<path class="c6" d="M848 2561L874 2561L874 2574L848 2574Z"/>
<path class="c6" d="M809 2574L835 2574L835 2587L809 2587Z"/>
<path class="c5" d="M679 2574L731 2574L731 2626L679 2626Z"/>
<path class="c5" d="M744 2561L770 2561L770 2600L744 2600Z"/>
<path class="c5" d="M796 2574L822 2574L822 2600L796 2600Z"/>
<path class="c5" d="M900 2574L926 2574L926 2587L900 2587Z"/>
<path class="c3" d="M757 2574L796 2574L796 2600L757 2600Z"/>
<path class="c3" d="M796 2600L887 2600L887 2639L796 2639Z"/>
<path class="cb" d="M757 2600L796 2600L796 2639L757 2639Z"/>
<path class="cb" d="M887 2600L939 2600L939 2639L887 2639Z"/>
<path class="c4" d="M796 2639L939 2639L939 2652L796 2652Z"/>
<path class="c5" d="M952 2613L965 2613L965 2626L952 2626Z"/>
<path class="ca" d="M1602 0L1953 0L1953 247L1862 247L1823 221L1745 221L1667 247L1628 182L1602 91Z"/>
<path class="ca" d="M1407 26L1498 52L1498 104L1433 91Z"/>
<path class="c4" d="M1836 156L1901 156L1901 182L1836 182Z"/>
<path class="c4" d="M1875 143L1901 143L1901 156L1875 156Z"/>
<path class="c4" d="M1901 130L1914 130L1914 143L1901 143Z"/>
<path class="c4" d="M1784 182L1823 182L1823 195L1784 195Z"/>
<path class="c4" d="M1758 208L1784 208L1784 221L1758 221Z"/>
<path class="c5" d="M1810 195L1823 195L1823 208L1810 208Z"/>
<path class="c4" d="M1940 26L1953 26L1953 39L1940 39Z"/>
<path class="cb" d="M1238 325L1368 273L1498 299L1602 299L1602 390L1602 468L1589 494L1589 572L1550 611L1433 624L1368 598L1316 559L1277 546L1238 520L1212 429L1238 390Z"/>
<path class="ca" d="M978 455L1212 429L1238 520L1316 559L1368 611L1407 624L1524 624L1576 611L1654 598L1654 702L978 702Z"/>
<path class="c4" d="M1316 455L1355 455L1355 494L1316 494Z"/>
<path class="c4" d="M1329 494L1342 494L1342 507L1329 507Z"/>
<path class="c4" d="M1368 442L1420 442L1420 455L1368 455Z"/>
<path class="c4" d="M1394 416L1420 416L1420 468L1394 468Z"/>
<path class="c4" d="M1420 429L1446 429L1446 442L1420 442Z"/>
<path class="c4" d="M1407 338L1446 338L1446 364L1407 364Z"/>
<path class="c4" d="M1264 351L1303 351L1303 364L1264 364Z"/>
<path class="c4" d="M1277 338L1316 338L1316 351L1277 351Z"/>
<path class="c4" d="M1290 325L1303 325L1303 338L1290 338Z"/>
<path class="c4" d="M1251 377L1264 377L1264 390L1251 390Z"/>
<path class="c4" d="M1355 377L1381 377L1381 403L1355 403Z"/>
<path class="c4" d="M1394 364L1407 364L1407 377L1394 377Z"/>
<path class="c4" d="M1459 390L1498 390L1498 416L1459 416Z"/>
<path class="c4" d="M1511 377L1537 377L1537 390L1511 390Z"/>
<path class="c4" d="M1550 377L1589 377L1589 403L1550 403Z"/>
<path class="c4" d="M1602 351L1641 351L1641 364L1602 364Z"/>
<path class="c4" d="M1485 325L1498 325L1498 338L1485 338Z"/>
<path class="c5" d="M1446 481L1472 481L1472 494L1446 494Z"/>
<path class="c5" d="M1407 494L1420 494L1420 507L1407 507Z"/>
<path class="c4" d="M1420 468L1433 468L1433 507L1420 507Z"/>
<path class="c4" d="M1498 507L1524 507L1524 520L1498 520Z"/>
<path class="c4" d="M1498 533L1511 533L1511 559L1498 559Z"/>
<path class="c4" d="M1446 572L1498 572L1498 611L1446 611Z"/>
<path class="c3" d="M1472 572L1511 572L1511 598L1472 598Z"/>
<path class="c5" d="M1511 572L1524 572L1524 585L1511 585Z"/>
<path class="c4" d="M1524 481L1550 481L1550 494L1524 494Z"/>
<path class="c4" d="M1576 481L1589 481L1589 494L1576 494Z"/>
<path class="c5" d="M1368 507L1394 507L1394 520L1368 520Z"/>
<path class="c4" d="M1329 533L1355 533L1355 546L1329 546Z"/>
<path class="c4" d="M1082 455L1095 455L1095 468L1082 468Z"/>
<path class="c4" d="M1056 468L1069 468L1069 481L1056 481Z"/>
<path class="c4" d="M1030 481L1043 481L1043 494L1030 494Z"/>
<path class="c4" d="M1017 663L1043 663L1043 676L1017 676Z"/>
<path class="c5" d="M1043 650L1056 650L1056 663L1043 663Z"/>
<path class="c4" d="M991 676L1004 676L1004 689L991 689Z"/>
<path class="c4" d="M1017 689L1030 689L1030 702L1017 702Z"/>
<path class="c4" d="M1732 689L1745 689L1745 702L1732 702Z"/>
<path class="c4" d="M978 507L991 507L991 520L978 520Z"/>
<path class="ca" d="M1316 598L1433 624L1407 663L1329 676Z"/>
<path class="c5" d="M1472 429L1537 429L1537 468L1472 468Z"/>
<path class="c6" d="M1576 403L1602 403L1602 429L1576 429Z"/>
<path class="c5" d="M1563 416L1602 416L1602 455L1563 455Z"/>
<path class="c7" d="M1537 429L1576 429L1576 455L1537 455Z"/>
<path class="c7" d="M1576 429L1589 429L1589 442L1576 442Z"/>
<path class="c8" d="M1537 442L1550 442L1550 455L1537 455Z"/>
<path class="c7" d="M1485 468L1511 468L1511 481L1485 481Z"/>
<path class="c6" d="M1524 455L1537 455L1537 468L1524 468Z"/>
<path class="c5" d="M1511 416L1524 416L1524 429L1511 429Z"/>
<path class="c3" d="M1498 429L1524 429L1524 442L1498 442Z"/>
<path class="c5" d="M1550 520L1563 520L1563 533L1550 533Z"/>
<path class="c7" d="M1563 520L1589 520L1589 546L1563 546Z"/>
<path class="c7" d="M1589 533L1628 533L1628 546L1589 546Z"/>
<path class="c6" d="M1589 546L1602 546L1602 559L1589 559Z"/>
<path class="c5" d="M1602 546L1615 546L1615 559L1602 559Z"/>
<path class="c4" d="M1589 559L1602 559L1602 572L1589 572Z"/>
<path class="c6" d="M1524 559L1537 559L1537 572L1524 572Z"/>
<path class="c5" d="M1810 221L1836 221L1836 234L1810 234Z"/>
<path class="c7" d="M1836 234L1862 234L1862 247L1836 247Z"/>
<path class="c5" d="M1797 247L1849 247L1849 312L1797 312Z"/>
<path class="c6" d="M1823 247L1849 247L1849 286L1823 286Z"/>
<path class="c7" d="M1849 260L1862 260L1862 286L1849 286Z"/>
<path class="c7" d="M1836 286L1849 286L1849 299L1836 299Z"/>
<path class="c3" d="M1797 247L1810 247L1810 260L1797 260Z"/>
<path class="c3" d="M1797 273L1810 273L1810 286L1797 286Z"/>
<path class="c4" d="M1823 312L1849 312L1849 364L1823 364Z"/>
<path class="c6" d="M1771 325L1823 325L1823 377L1771 377Z"/>
<path class="c5" d="M1797 351L1823 351L1823 364L1797 364Z"/>
<path class="c5" d="M1836 338L1849 338L1849 364L1836 364Z"/>
<path class="c6" d="M1784 312L1810 312L1810 325L1784 325Z"/>
<path class="c7" d="M1784 364L1810 364L1810 390L1784 390Z"/>
<path class="c6" d="M1810 364L1862 364L1862 390L1810 390Z"/>
<path class="c7" d="M1797 390L1836 390L1836 403L1797 403Z"/>
<path class="c6" d="M1836 390L1862 390L1862 403L1836 403Z"/>
<path class="c7" d="M1797 403L1810 403L1810 416L1797 416Z"/>
<path class="c6" d="M1810 403L1823 403L1823 416L1810 416Z"/>
<path class="c7" d="M1836 403L1862 403L1862 429L1836 429Z"/>
<path class="c4" d="M1745 312L1758 312L1758 325L1745 325Z"/>
<path class="ca" d="M978 702L1446 702L1446 806L1511 871L1511 936L1446 962L1446 1105L1537 1118L1628 1118L1667 1105L1706 1105L1797 1118L1836 1131L1953 1118L1953 1235L1901 1235L1836 1209L1745 1261L1732 1313L1602 1313L1563 1352L1498 1391L1381 1352L1277 1352L1238 1313L1160 1300L1108 1261L978 1235Z"/>
<path class="ca" d="M1537 780L1602 754L1797 754L1810 832L1745 897L1680 910L1602 936L1576 1040L1628 1105L1953 1105L1953 910L1810 910L1745 897Z"/>
<path class="ca" d="M1641 702L1797 702L1797 767L1641 767Z"/>
<path class="cb" d="M978 702L1147 702L1238 780L1238 910L1108 962L978 975Z"/>
<path class="cb" d="M1602 936L1953 910L1953 1001L1836 1027L1706 1014L1602 1001Z"/>
<path class="cb" d="M1537 1105L1667 1105L1667 1222L1550 1222Z"/>
<path class="cb" d="M1121 1222L1407 1222L1537 1248L1667 1248L1732 1274L1732 1300L1667 1313L1537 1352L1446 1365L1368 1339L1303 1326L1238 1274L1147 1261Z"/>
<path class="c4" d="M1017 780L1069 780L1069 819L1017 819Z"/>
<path class="c4" d="M978 715L1004 715L1004 741L978 741Z"/>
<path class="c4" d="M991 819L1004 819L1004 832L991 832Z"/>
<path class="c4" d="M1160 832L1173 832L1173 845L1160 845Z"/>
<path class="c4" d="M1134 845L1147 845L1147 858L1134 858Z"/>
<path class="c4" d="M1108 858L1121 858L1121 871L1108 871Z"/>
<path class="c4" d="M978 780L991 780L991 793L978 793Z"/>
<path class="c4" d="M1303 923L1329 923L1329 949L1303 949Z"/>
<path class="c4" d="M1407 910L1420 910L1420 936L1407 936Z"/>
<path class="c4" d="M1511 910L1537 910L1537 923L1511 923Z"/>
<path class="c4" d="M1498 871L1524 871L1524 884L1498 884Z"/>
<path class="c4" d="M1680 793L1732 793L1732 858L1680 858Z"/>
<path class="c4" d="M1706 832L1745 832L1745 858L1706 858Z"/>
<path class="c4" d="M1680 728L1732 728L1732 780L1680 780Z"/>
<path class="c4" d="M1706 702L1745 702L1745 728L1706 728Z"/>
<path class="c5" d="M1745 741L1771 741L1771 754L1745 754Z"/>
<path class="c6" d="M1771 741L1784 741L1784 767L1771 767Z"/>
<path class="c5" d="M1732 754L1745 754L1745 767L1732 767Z"/>
<path class="c4" d="M1719 884L1745 884L1745 897L1719 897Z"/>
<path class="c4" d="M1615 936L1641 936L1641 962L1615 962Z"/>
<path class="c4" d="M1654 949L1693 949L1693 962L1654 962Z"/>
<path class="c4" d="M1706 936L1732 936L1732 949L1706 949Z"/>
<path class="c4" d="M1745 949L1810 949L1810 975L1745 975Z"/>
<path class="c5" d="M1875 949L1914 949L1914 962L1875 962Z"/>
<path class="c5" d="M1927 936L1953 936L1953 975L1927 975Z"/>
<path class="c4" d="M1823 923L1888 923L1888 936L1823 936Z"/>
<path class="c4" d="M1836 1014L1862 1014L1862 1027L1836 1027Z"/>
<path class="c5" d="M1888 988L1901 988L1901 1001L1888 1001Z"/>
<path class="c4" d="M1810 975L1823 975L1823 988L1810 988Z"/>
<path class="c4" d="M1602 988L1615 988L1615 1001L1602 1001Z"/>
<path class="c4" d="M1888 1053L1914 1053L1914 1079L1888 1079Z"/>
<path class="c5" d="M1888 1079L1914 1079L1914 1105L1888 1105Z"/>
<path class="c4" d="M1914 1079L1953 1079L1953 1118L1914 1118Z"/>
<path class="c5" d="M1927 1118L1940 1118L1940 1144L1927 1144Z"/>
<path class="c4" d="M1914 1196L1940 1196L1940 1222L1914 1222Z"/>
<path class="c4" d="M1680 1092L1745 1092L1745 1118L1680 1118Z"/>
<path class="c4" d="M1719 1118L1732 1118L1732 1131L1719 1131Z"/>
<path class="c4" d="M1758 1092L1784 1092L1784 1105L1758 1105Z"/>
<path class="c4" d="M1602 1079L1615 1079L1615 1092L1602 1092Z"/>
<path class="c4" d="M1563 1144L1628 1144L1628 1196L1563 1196Z"/>
<path class="c4" d="M1602 1131L1641 1131L1641 1170L1602 1170Z"/>
<path class="c4" d="M1550 1105L1563 1105L1563 1118L1550 1118Z"/>
<path class="c4" d="M1186 1222L1264 1222L1264 1248L1186 1248Z"/>
<path class="c4" d="M1277 1235L1329 1235L1329 1261L1277 1261Z"/>
<path class="c4" d="M1303 1261L1329 1261L1329 1274L1303 1274Z"/>
<path class="c4" d="M1329 1274L1381 1274L1381 1326L1329 1326Z"/>
<path class="c4" d="M1381 1300L1407 1300L1407 1339L1381 1339Z"/>
<path class="c4" d="M1407 1235L1459 1235L1459 1261L1407 1261Z"/>
<path class="c4" d="M1407 1287L1485 1287L1485 1339L1407 1339Z"/>
<path class="c4" d="M1498 1300L1524 1300L1524 1326L1498 1326Z"/>
<path class="c4" d="M1537 1248L1602 1248L1602 1274L1537 1274Z"/>
<path class="c4" d="M1615 1274L1641 1274L1641 1300L1615 1300Z"/>
<path class="c4" d="M1303 1313L1329 1313L1329 1326L1303 1326Z"/>
<path class="c4" d="M1498 1339L1511 1339L1511 1352L1498 1352Z"/>
<path class="c4" d="M1420 1352L1433 1352L1433 1365L1420 1365Z"/>
<path class="c4" d="M978 1196L991 1196L991 1209L978 1209Z"/>
<path class="c4" d="M1121 1222L1134 1222L1134 1235L1121 1235Z"/>
<path class="cb" d="M978 1274L1160 1274L1160 1339L1212 1339L1212 1365L1277 1365L1277 1404L978 1404Z"/>
<path class="c8" d="M1004 1235L1030 1235L1030 1248L1004 1248Z"/>
<path class="c9" d="M1017 1248L1030 1248L1030 1274L1017 1274Z"/>
<path class="c8" d="M1030 1248L1069 1248L1069 1261L1030 1261Z"/>
<path class="c7" d="M1069 1248L1082 1248L1082 1261L1069 1261Z"/>
<path class="c4" d="M1082 1261L1108 1261L1108 1274L1082 1274Z"/>
<path class="c9" d="M978 1261L1004 1261L1004 1287L978 1287Z"/>
<path class="c8" d="M991 1287L1030 1287L1030 1300L991 1300Z"/>
<path class="c7" d="M1030 1287L1056 1287L1056 1300L1030 1300Z"/>
<path class="c7" d="M978 1300L1004 1300L1004 1313L978 1313Z"/>
<path class="c9" d="M978 1313L991 1313L991 1326L978 1326Z"/>
<path class="c7" d="M991 1313L1004 1313L1004 1326L991 1326Z"/>
<path class="c6" d="M1004 1313L1030 1313L1030 1326L1004 1326Z"/>
<path class="c7" d="M1030 1326L1056 1326L1056 1339L1030 1339Z"/>
<path class="c6" d="M1004 1326L1030 1326L1030 1339L1004 1339Z"/>
<path class="c5" d="M1004 1300L1030 1300L1030 1313L1004 1313Z"/>
<path class="c8" d="M978 1352L1004 1352L1004 1365L978 1365Z"/>
<path class="cd" d="M978 1365L1108 1365L1108 1404L978 1404Z"/>
<path class="c8" d="M1030 1378L1043 1378L1043 1404L1030 1404Z"/>
<path class="c9" d="M1017 1391L1056 1391L1056 1404L1017 1404Z"/>
<path class="c7" d="M1056 1378L1082 1378L1082 1404L1056 1404Z"/>
<path class="c8" d="M1108 1378L1134 1378L1134 1391L1108 1391Z"/>
<path class="c9" d="M1121 1378L1134 1378L1134 1404L1121 1404Z"/>
<path class="c8" d="M1134 1378L1173 1378L1173 1404L1134 1404Z"/>
<path class="c8" d="M1173 1391L1199 1391L1199 1404L1173 1404Z"/>
<path class="c5" d="M1082 1352L1108 1352L1108 1365L1082 1365Z"/>
<path class="c7" d="M1212 1339L1264 1339L1264 1365L1212 1365Z"/>
<path class="c8" d="M1238 1365L1277 1365L1277 1378L1238 1378Z"/>
<path class="c5" d="M1173 1326L1212 1326L1212 1352L1173 1352Z"/>
<path class="c6" d="M1147 1339L1160 1339L1160 1352L1147 1352Z"/>
<path class="c4" d="M1082 1261L1108 1261L1108 1274L1082 1274Z"/>
<path class="cc" d="M978 1404L1017 1404L1017 1417L978 1417Z"/>
<path class="c9" d="M1017 1404L1056 1404L1056 1417L1017 1417Z"/>
<path class="cc" d="M1069 1404L1108 1404L1108 1417L1069 1417Z"/>
<path class="c7" d="M1108 1404L1134 1404L1134 1417L1108 1417Z"/>
<path class="c8" d="M1134 1404L1160 1404L1160 1417L1134 1417Z"/>
<path class="c9" d="M1160 1404L1186 1404L1186 1417L1160 1417Z"/>
<path class="c8" d="M1186 1404L1199 1404L1199 1404L1186 1404Z"/>
<path class="c8" d="M1056 1404L1069 1404L1069 1417L1056 1417Z"/>
<path class="c3" d="M978 1417L991 1417L991 1430L978 1430Z"/>
<path class="c5" d="M991 1417L1004 1417L1004 1430L991 1430Z"/>
<path class="c7" d="M1004 1417L1017 1417L1017 1430L1004 1430Z"/>
<path class="c8" d="M1017 1417L1043 1417L1043 1430L1017 1430Z"/>
<path class="c9" d="M1043 1417L1082 1417L1082 1430L1043 1430Z"/>
<path class="c3" d="M1082 1417L1108 1417L1108 1430L1082 1430Z"/>
<path class="c8" d="M1108 1417L1160 1417L1160 1430L1108 1430Z"/>
<path class="c9" d="M1160 1417L1186 1417L1186 1430L1160 1430Z"/>
<path class="c7" d="M978 1430L991 1430L991 1443L978 1443Z"/>
<path class="c8" d="M991 1430L1030 1430L1030 1443L991 1443Z"/>
<path class="c9" d="M1030 1430L1095 1430L1095 1443L1030 1443Z"/>
<path class="c7" d="M1095 1430L1108 1430L1108 1443L1095 1443Z"/>
<path class="c8" d="M1108 1430L1121 1430L1121 1443L1108 1443Z"/>
<path class="c9" d="M1121 1430L1147 1430L1147 1443L1121 1443Z"/>
<path class="c9" d="M1173 1430L1186 1430L1186 1469L1173 1469Z"/>
<path class="c9" d="M978 1443L1095 1443L1095 1456L978 1456Z"/>
<path class="c8" d="M1095 1443L1108 1443L1108 1456L1095 1456Z"/>
<path class="c9" d="M1108 1443L1147 1443L1147 1456L1108 1456Z"/>
<path class="c9" d="M978 1456L1134 1456L1134 1469L978 1469Z"/>
<path class="c9" d="M978 1469L1030 1469L1030 1482L978 1482Z"/>
<path class="c9" d="M1043 1469L1147 1469L1147 1482L1043 1482Z"/>
<path class="c9" d="M978 1482L1030 1482L1030 1495L978 1495Z"/>
<path class="c9" d="M1095 1482L1134 1482L1134 1495L1095 1495Z"/>
<path class="c9" d="M991 1495L1030 1495L1030 1508L991 1508Z"/>
<path class="c9" d="M1069 1495L1095 1495L1095 1508L1069 1508Z"/>
<path class="c9" d="M1108 1495L1121 1495L1121 1508L1108 1508Z"/>
<path class="c9" d="M1004 1508L1043 1508L1043 1521L1004 1521Z"/>
<path class="c9" d="M1056 1508L1095 1508L1095 1521L1056 1521Z"/>
<path class="c9" d="M1017 1521L1030 1521L1030 1534L1017 1534Z"/>
<path class="c9" d="M978 1534L1056 1534L1056 1560L978 1560Z"/>
<path class="c9" d="M1121 1534L1134 1534L1134 1547L1121 1547Z"/>
<path class="c9" d="M978 1560L991 1560L991 1573L978 1573Z"/>
<path class="c9" d="M1030 1560L1069 1560L1069 1573L1030 1573Z"/>
<path class="c9" d="M978 1573L1017 1573L1017 1586L978 1586Z"/>
<path class="c8" d="M1017 1573L1030 1573L1030 1586L1017 1586Z"/>
<path class="c9" d="M1030 1573L1043 1573L1043 1586L1030 1586Z"/>
<path class="c9" d="M978 1586L991 1586L991 1612L978 1612Z"/>
<path class="c8" d="M1004 1586L1030 1586L1030 1599L1004 1599Z"/>
<path class="c8" d="M1030 1924L1043 1924L1043 1937L1030 1937Z"/>
<path class="c8" d="M1017 1937L1030 1937L1030 1950L1017 1950Z"/>
<path class="c7" d="M1030 1937L1043 1937L1043 1950L1030 1950Z"/>
<path class="c7" d="M978 1963L991 1963L991 1976L978 1976Z"/>
<path class="c8" d="M978 1989L991 1989L991 2002L978 2002Z"/>
<path class="c8" d="M1004 1989L1017 1989L1017 2002L1004 2002Z"/>
<path class="c8" d="M991 2002L1004 2002L1004 2015L991 2015Z"/>
<path class="c6" d="M1004 2002L1017 2002L1017 2015L1004 2015Z"/>
<path class="c8" d="M1017 2002L1082 2002L1082 2015L1017 2015Z"/>
<path class="c8" d="M1095 2002L1121 2002L1121 2015L1095 2015Z"/>
<path class="c8" d="M978 2015L1004 2015L1004 2028L978 2028Z"/>
<path class="c9" d="M1004 2015L1017 2015L1017 2028L1004 2028Z"/>
<path class="c8" d="M1017 2015L1108 2015L1108 2028L1017 2028Z"/>
<path class="c8" d="M978 2028L1095 2028L1095 2041L978 2041Z"/>
<path class="c8" d="M978 2041L1004 2041L1004 2054L978 2054Z"/>
<path class="c8" d="M1030 2041L1056 2041L1056 2054L1030 2054Z"/>
<path class="c9" d="M978 2054L991 2054L991 2067L978 2067Z"/>
<path class="c9" d="M1498 2080L1537 2080L1537 2093L1498 2093Z"/>
<path class="c9" d="M1485 2093L1524 2093L1524 2106L1485 2106Z"/>
<path class="c8" d="M1927 1950L1940 1950L1940 1963L1927 1963Z"/>
<path class="c9" d="M1914 1963L1927 1963L1927 1989L1914 1989Z"/>
<path class="cd" d="M1927 1963L1940 1963L1940 1989L1927 1989Z"/>
<path class="c9" d="M1901 1989L1940 1989L1940 2002L1901 2002Z"/>
<path class="ca" d="M1940 1950L1953 1950L1953 2015L1940 2015Z"/>
<path class="c6" d="M1940 2015L1953 2015L1953 2028L1940 2028Z"/>
<path class="c8" d="M1901 2028L1914 2028L1914 2041L1901 2041Z"/>
<path class="ca" d="M1914 2028L1940 2028L1940 2041L1914 2041Z"/>
<path class="c9" d="M1888 2041L1901 2041L1901 2080L1888 2080Z"/>
<path class="c3" d="M1901 2041L1914 2041L1914 2054L1901 2054Z"/>
<path class="c9" d="M1901 2054L1927 2054L1927 2067L1901 2067Z"/>
<path class="c5" d="M1940 2041L1953 2041L1953 2054L1940 2054Z"/>
<path class="c6" d="M1927 2080L1953 2080L1953 2093L1927 2093Z"/>
<path class="c9" d="M1901 2093L1914 2093L1914 2106L1901 2106Z"/>
<path class="c5" d="M1914 2093L1927 2093L1927 2106L1914 2106Z"/>
<path class="c7" d="M1940 2093L1953 2093L1953 2106L1940 2106Z"/>
<path class="c8" d="M1030 2158L1082 2158L1082 2171L1030 2171Z"/>
<path class="c8" d="M1017 2171L1082 2171L1082 2184L1017 2184Z"/>
<path class="c8" d="M1004 2184L1095 2184L1095 2197L1004 2197Z"/>
<path class="c8" d="M1056 2197L1095 2197L1095 2210L1056 2210Z"/>
<path class="c8" d="M1069 2210L1095 2210L1095 2223L1069 2223Z"/>
<path class="c8" d="M1069 2223L1082 2223L1082 2236L1069 2236Z"/>
<path class="c8" d="M1069 2262L1095 2262L1095 2275L1069 2275Z"/>
<path class="c8" d="M1225 2197L1264 2197L1264 2210L1225 2210Z"/>
<path class="c9" d="M1264 2197L1277 2197L1277 2223L1264 2223Z"/>
<path class="c8" d="M1212 2210L1264 2210L1264 2236L1212 2236Z"/>
<path class="c9" d="M1251 2223L1290 2223L1290 2236L1251 2236Z"/>
<path class="c9" d="M1251 2236L1277 2236L1277 2249L1251 2249Z"/>
<path class="c9" d="M1277 2288L1290 2288L1290 2314L1277 2314Z"/>
<path class="c8" d="M1238 2301L1264 2301L1264 2314L1238 2314Z"/>
<path class="c9" d="M1264 2301L1277 2301L1277 2314L1264 2314Z"/>
<path class="c8" d="M1251 2314L1277 2314L1277 2327L1251 2327Z"/>
<path class="c9" d="M1303 2314L1316 2314L1316 2327L1303 2327Z"/>
<path class="c9" d="M1485 2106L1524 2106L1524 2119L1485 2119Z"/>
<path class="c9" d="M1472 2119L1524 2119L1524 2132L1472 2132Z"/>
<path class="c9" d="M1472 2132L1511 2132L1511 2145L1472 2145Z"/>
<path class="c9" d="M1459 2145L1511 2145L1511 2158L1459 2158Z"/>
<path class="c9" d="M1446 2158L1511 2158L1511 2171L1446 2171Z"/>
<path class="c9" d="M1433 2171L1498 2171L1498 2184L1433 2184Z"/>
<path class="c9" d="M1433 2184L1446 2184L1446 2197L1433 2197Z"/>
<path class="c9" d="M1459 2184L1485 2184L1485 2197L1459 2197Z"/>
<path class="c9" d="M1446 2197L1459 2197L1459 2210L1446 2210Z"/>
<path class="c9" d="M1420 2210L1446 2210L1446 2249L1420 2249Z"/>
<path class="c9" d="M1407 2249L1433 2249L1433 2262L1407 2262Z"/>
<path class="c9" d="M1446 2249L1498 2249L1498 2262L1446 2262Z"/>
<path class="c9" d="M1394 2262L1420 2262L1420 2275L1394 2275Z"/>
<path class="c9" d="M1446 2262L1485 2262L1485 2275L1446 2275Z"/>
<path class="c9" d="M1381 2275L1433 2275L1433 2288L1381 2288Z"/>
<path class="c9" d="M1446 2275L1485 2275L1485 2288L1446 2288Z"/>
<path class="c9" d="M1368 2288L1420 2288L1420 2301L1368 2301Z"/>
<path class="c9" d="M1368 2301L1407 2301L1407 2314L1368 2314Z"/>
<path class="c9" d="M1368 2314L1394 2314L1394 2327L1368 2327Z"/>
<path class="c9" d="M1368 2327L1381 2327L1381 2353L1368 2353Z"/>
<path class="c9" d="M1355 2353L1368 2353L1368 2366L1355 2366Z"/>
<path class="c9" d="M1329 2366L1368 2366L1368 2379L1329 2379Z"/>
<path class="c8" d="M1368 2366L1381 2366L1381 2379L1368 2379Z"/>
<path class="c8" d="M1264 2379L1368 2379L1368 2392L1264 2392Z"/>
<path class="c8" d="M1238 2392L1251 2392L1251 2405L1238 2405Z"/>
<path class="c8" d="M1264 2392L1368 2392L1368 2405L1264 2405Z"/>
<path class="c8" d="M1238 2405L1264 2405L1264 2418L1238 2418Z"/>
<path class="c8" d="M1290 2405L1342 2405L1342 2418L1290 2418Z"/>
<path class="c8" d="M1355 2405L1407 2405L1407 2418L1355 2418Z"/>
<path class="c8" d="M1238 2418L1264 2418L1264 2431L1238 2431Z"/>
<path class="c8" d="M1290 2418L1329 2418L1329 2431L1290 2431Z"/>
<path class="c8" d="M1355 2418L1407 2418L1407 2431L1355 2431Z"/>
<path class="c8" d="M1238 2431L1394 2431L1394 2444L1238 2444Z"/>
<path class="c8" d="M1238 2444L1394 2444L1394 2457L1238 2457Z"/>
<path class="c8" d="M1251 2457L1381 2457L1381 2470L1251 2470Z"/>
<path class="c8" d="M1264 2470L1342 2470L1342 2483L1264 2483Z"/>
<path class="c8" d="M1238 2483L1264 2483L1264 2496L1238 2496Z"/>
<path class="c8" d="M1277 2483L1303 2483L1303 2496L1277 2496Z"/>
<path class="c8" d="M1329 2483L1342 2483L1342 2496L1329 2496Z"/>
<path class="c8" d="M1251 2496L1329 2496L1329 2509L1251 2509Z"/>
<path class="c8" d="M1303 2509L1316 2509L1316 2522L1303 2522Z"/>
<path class="c9" d="M1329 2431L1342 2431L1342 2444L1329 2444Z"/>
<path class="c9" d="M1394 2431L1407 2431L1407 2444L1394 2444Z"/>
<path class="c9" d="M1238 2457L1251 2457L1251 2470L1238 2470Z"/>
<path class="c9" d="M1251 2470L1264 2470L1264 2483L1251 2483Z"/>
<path class="c3" d="M1264 2483L1277 2483L1277 2496L1264 2496Z"/>
<path class="c9" d="M1277 2509L1303 2509L1303 2522L1277 2522Z"/>
<path class="c8" d="M1186 2405L1212 2405L1212 2418L1186 2418Z"/>
<path class="c8" d="M1173 2418L1212 2418L1212 2431L1173 2431Z"/>
<path class="c8" d="M1173 2431L1199 2431L1199 2457L1173 2457Z"/>
<path class="c7" d="M1147 2444L1173 2444L1173 2457L1147 2457Z"/>
<path class="c7" d="M1134 2457L1160 2457L1160 2470L1134 2470Z"/>
<path class="c7" d="M1108 2431L1121 2431L1121 2444L1108 2444Z"/>
<path class="c8" d="M1017 2444L1030 2444L1030 2457L1017 2457Z"/>
<path class="c9" d="M1030 2444L1043 2444L1043 2457L1030 2457Z"/>
<path class="c8" d="M1017 2470L1030 2470L1030 2483L1017 2483Z"/>
<path class="cb" d="M1004 2483L1082 2483L1147 2509L1160 2548L1199 2548L1238 2561L1238 2652L1043 2652L1043 2600L1004 2574Z"/>
<path class="cd" d="M1004 2509L1095 2509L1095 2574L1004 2574Z"/>
<path class="c4" d="M1017 2496L1030 2496L1030 2509L1017 2509Z"/>
<path class="c5" d="M1069 2496L1082 2496L1082 2509L1069 2509Z"/>
<path class="cc" d="M1030 2561L1095 2561L1095 2587L1030 2587Z"/>
<path class="cd" d="M1134 2509L1147 2509L1147 2535L1134 2535Z"/>
<path class="c5" d="M1134 2522L1147 2522L1147 2535L1134 2535Z"/>
<path class="c8" d="M1095 2509L1108 2509L1108 2522L1095 2522Z"/>
<path class="c9" d="M1108 2509L1134 2509L1134 2522L1108 2522Z"/>
<path class="c7" d="M1134 2509L1147 2509L1147 2522L1134 2522Z"/>
<path class="c9" d="M1121 2522L1134 2522L1134 2535L1121 2535Z"/>
<path class="c8" d="M1056 2535L1069 2535L1069 2548L1056 2548Z"/>
<path class="c7" d="M1069 2535L1095 2535L1095 2548L1069 2548Z"/>
<path class="c9" d="M1108 2535L1121 2535L1121 2561L1108 2561Z"/>
<path class="cd" d="M1121 2535L1134 2535L1134 2561L1121 2561Z"/>
<path class="c8" d="M1095 2561L1121 2561L1121 2574L1095 2574Z"/>
<path class="cc" d="M1147 2561L1186 2561L1186 2600L1147 2600Z"/>
<path class="c7" d="M1186 2574L1212 2574L1212 2587L1186 2587Z"/>
<path class="c5" d="M1199 2548L1225 2548L1225 2561L1199 2561Z"/>
<path class="cd" d="M1121 2600L1199 2600L1199 2652L1121 2652Z"/>
<path class="cc" d="M1108 2626L1121 2626L1121 2652L1108 2652Z"/>
<path class="cc" d="M1134 2639L1186 2639L1186 2652L1134 2652Z"/>
<path class="c7" d="M1199 2600L1225 2600L1225 2613L1199 2613Z"/>
<path class="c7" d="M1212 2626L1225 2626L1225 2652L1212 2652Z"/>
<path class="c4" d="M1043 2626L1056 2626L1056 2652L1043 2652Z"/>
<path class="c9" d="M1277 2561L1290 2561L1290 2587L1277 2587Z"/>
<path class="c9" d="M1342 2561L1381 2561L1381 2587L1342 2587Z"/>
<path class="c9" d="M1251 2587L1381 2587L1381 2600L1251 2600Z"/>
<path class="c9" d="M1225 2600L1238 2600L1238 2626L1225 2626Z"/>
<path class="c9" d="M1251 2600L1342 2600L1342 2626L1251 2626Z"/>
<path class="c9" d="M1264 2626L1303 2626L1303 2639L1264 2639Z"/>
<path class="c8" d="M1238 2561L1264 2561L1264 2587L1238 2587Z"/>
<path class="c8" d="M1238 2587L1251 2587L1251 2600L1238 2600Z"/>
<path class="c8" d="M1342 2613L1355 2613L1355 2626L1342 2626Z"/>
<path class="c8" d="M1238 2626L1264 2626L1264 2652L1238 2652Z"/>
<path class="c8" d="M1303 2626L1355 2626L1355 2652L1303 2652Z"/>
<path class="c8" d="M1368 2626L1381 2626L1381 2652L1368 2652Z"/>
<path class="c8" d="M1264 2639L1303 2639L1303 2652L1264 2652Z"/>
<path class="c8" d="M1394 2626L1407 2626L1407 2639L1394 2639Z"/>
<path class="c7" d="M1355 2600L1394 2600L1394 2626L1355 2626Z"/>
<path class="c7" d="M1355 2626L1368 2626L1368 2652L1355 2652Z"/>
<path class="c7" d="M1381 2626L1394 2626L1394 2652L1381 2652Z"/>
<path class="c6" d="M1225 2561L1238 2561L1238 2574L1225 2574Z"/>
<path class="c7" d="M1238 2574L1251 2574L1251 2587L1238 2587Z"/>
<path class="c9" d="M1485 2327L1511 2327L1511 2340L1485 2340Z"/>
<path class="c9" d="M1485 2340L1524 2340L1524 2379L1485 2379Z"/>
<path class="c7" d="M1511 2366L1550 2366L1550 2379L1511 2379Z"/>
<path class="c7" d="M1537 2353L1550 2353L1550 2366L1537 2366Z"/>
<path class="c5" d="M1550 2353L1563 2353L1563 2366L1550 2366Z"/>
<path class="c7" d="M1563 2353L1589 2353L1589 2366L1563 2366Z"/>
<path class="c9" d="M1563 2314L1576 2314L1576 2340L1563 2340Z"/>
<path class="c8" d="M1576 2327L1602 2327L1602 2340L1576 2340Z"/>
<path class="c7" d="M1602 2327L1628 2327L1628 2340L1602 2340Z"/>
<path class="c8" d="M1628 2327L1641 2327L1641 2340L1628 2340Z"/>
<path class="c9" d="M1641 2327L1667 2327L1667 2340L1641 2340Z"/>
<path class="c8" d="M1654 2314L1667 2314L1667 2327L1654 2327Z"/>
<path class="c9" d="M1667 2288L1719 2288L1719 2327L1667 2327Z"/>
<path class="c8" d="M1680 2301L1693 2301L1693 2314L1680 2314Z"/>
<path class="c9" d="M1693 2262L1706 2262L1706 2288L1693 2288Z"/>
<path class="c9" d="M1719 2262L1732 2262L1732 2288L1719 2288Z"/>
<path class="c9" d="M1732 2236L1758 2236L1758 2249L1732 2249Z"/>
<path class="c9" d="M1732 2249L1745 2249L1745 2262L1732 2262Z"/>
<path class="c9" d="M1680 2275L1693 2275L1693 2288L1680 2288Z"/>
<path class="c8" d="M1563 2340L1576 2340L1576 2353L1563 2353Z"/>
<path class="c6" d="M1576 2340L1589 2340L1589 2353L1576 2353Z"/>
<path class="c7" d="M1589 2340L1615 2340L1615 2353L1589 2353Z"/>
<path class="c8" d="M1615 2340L1667 2340L1667 2353L1615 2353Z"/>
<path class="c9" d="M1667 2340L1680 2340L1680 2353L1667 2353Z"/>
<path class="c8" d="M1589 2353L1680 2353L1680 2366L1589 2366Z"/>
<path class="c8" d="M1602 2366L1680 2366L1680 2379L1602 2379Z"/>
<path class="c8" d="M1537 2379L1563 2379L1563 2392L1537 2392Z"/>
<path class="c8" d="M1615 2379L1628 2379L1628 2392L1615 2392Z"/>
<path class="c8" d="M1641 2379L1667 2379L1667 2392L1641 2392Z"/>
<path class="c8" d="M1485 2392L1524 2392L1524 2405L1485 2405Z"/>
<path class="c8" d="M1537 2392L1550 2392L1550 2405L1537 2405Z"/>
<path class="c8" d="M1615 2392L1641 2392L1641 2405L1615 2405Z"/>
<path class="c8" d="M1472 2405L1537 2405L1537 2418L1472 2418Z"/>
<path class="c8" d="M1615 2405L1641 2405L1641 2418L1615 2418Z"/>
<path class="c8" d="M1472 2418L1511 2418L1511 2431L1472 2431Z"/>
<path class="c8" d="M1537 2418L1550 2418L1550 2431L1537 2431Z"/>
<path class="c8" d="M1615 2418L1667 2418L1667 2431L1615 2431Z"/>
<path class="c8" d="M1498 2431L1511 2431L1511 2444L1498 2444Z"/>
<path class="c8" d="M1537 2431L1550 2431L1550 2444L1537 2444Z"/>
<path class="c8" d="M1615 2431L1628 2431L1628 2444L1615 2444Z"/>
<path class="c8" d="M1485 2444L1511 2444L1511 2457L1485 2457Z"/>
<path class="c8" d="M1537 2444L1550 2444L1550 2457L1537 2457Z"/>
<path class="c7" d="M1485 2379L1511 2379L1511 2392L1485 2392Z"/>
<path class="c9" d="M1485 2431L1498 2431L1498 2444L1485 2444Z"/>
<path class="c6" d="M1641 2431L1654 2431L1654 2444L1641 2444Z"/>
<path class="c9" d="M1615 2444L1628 2444L1628 2457L1615 2457Z"/>
<path class="c9" d="M1498 2457L1511 2457L1511 2470L1498 2470Z"/>
<path class="c9" d="M1732 2314L1758 2314L1758 2327L1732 2327Z"/>
<path class="c9" d="M1706 2327L1771 2327L1771 2340L1706 2340Z"/>
<path class="c9" d="M1706 2340L1745 2340L1745 2353L1706 2353Z"/>
<path class="c8" d="M1745 2340L1758 2340L1758 2353L1745 2353Z"/>
<path class="c9" d="M1758 2340L1771 2340L1771 2353L1758 2353Z"/>
<path class="c8" d="M1693 2353L1706 2353L1706 2366L1693 2366Z"/>
<path class="c9" d="M1706 2353L1719 2353L1719 2379L1706 2379Z"/>
<path class="c8" d="M1719 2353L1771 2353L1771 2392L1719 2392Z"/>
<path class="c9" d="M1693 2379L1706 2379L1706 2392L1693 2392Z"/>
<path class="c4" d="M1706 2379L1719 2379L1719 2392L1706 2392Z"/>
<path class="c6" d="M1732 2392L1745 2392L1745 2405L1732 2405Z"/>
<path class="c4" d="M1719 2392L1732 2392L1732 2405L1719 2405Z"/>
<path class="c8" d="M1732 2405L1745 2405L1745 2418L1732 2418Z"/>
<path class="c6" d="M1680 2392L1693 2392L1693 2405L1680 2405Z"/>
<path class="c6" d="M1680 2418L1693 2418L1693 2431L1680 2431Z"/>
<path class="c8" d="M1706 2418L1719 2418L1719 2431L1706 2431Z"/>
<path class="ca" d="M1654 2405L1680 2405L1680 2418L1654 2418Z"/>
<path class="ca" d="M1745 2405L1771 2405L1771 2418L1745 2418Z"/>
<path class="c6" d="M1641 2431L1654 2431L1654 2444L1641 2444Z"/>
<path class="c8" d="M1459 2483L1472 2483L1472 2496L1459 2496Z"/>
<path class="c8" d="M1459 2496L1485 2496L1485 2509L1459 2509Z"/>
<path class="c9" d="M1459 2509L1472 2509L1472 2535L1459 2535Z"/>
<path class="c7" d="M1472 2509L1485 2509L1485 2522L1472 2522Z"/>
<path class="c8" d="M1485 2509L1498 2509L1498 2522L1485 2522Z"/>
<path class="c8" d="M1446 2522L1511 2522L1511 2548L1446 2548Z"/>
<path class="c9" d="M1459 2522L1472 2522L1472 2535L1459 2535Z"/>
<path class="c9" d="M1498 2535L1511 2535L1511 2548L1498 2548Z"/>
<path class="c9" d="M1459 2548L1511 2548L1511 2561L1459 2561Z"/>
<path class="c4" d="M1511 2548L1524 2548L1524 2561L1511 2561Z"/>
<path class="c8" d="M1472 2561L1498 2561L1498 2587L1472 2587Z"/>
<path class="c7" d="M1498 2561L1537 2561L1537 2587L1498 2587Z"/>
<path class="c9" d="M1459 2587L1472 2587L1472 2600L1459 2600Z"/>
<path class="c8" d="M1472 2587L1485 2587L1485 2600L1472 2600Z"/>
<path class="c7" d="M1485 2587L1537 2587L1537 2600L1485 2600Z"/>
<path class="c8" d="M1459 2600L1472 2600L1472 2626L1459 2626Z"/>
<path class="c7" d="M1472 2600L1498 2600L1498 2639L1472 2639Z"/>
<path class="c5" d="M1511 2613L1524 2613L1524 2626L1511 2626Z"/>
<path class="c5" d="M1537 2613L1550 2613L1550 2626L1537 2626Z"/>
<path class="c7" d="M1459 2626L1472 2626L1472 2652L1459 2652Z"/>
<path class="cc" d="M1498 2626L1537 2626L1537 2639L1498 2639Z"/>
<path class="c7" d="M1472 2639L1576 2639L1576 2652L1472 2652Z"/>
<path class="c8" d="M1511 2639L1537 2639L1537 2652L1511 2652Z"/>
<path class="c6" d="M1550 2626L1563 2626L1563 2639L1550 2639Z"/>
<path class="ca" d="M1433 2483L1459 2483L1459 2509L1433 2509Z"/>
<path class="c9" d="M1563 2483L1589 2483L1589 2496L1563 2496Z"/>
<path class="c9" d="M1563 2496L1576 2496L1576 2522L1563 2522Z"/>
<path class="c8" d="M1576 2496L1602 2496L1602 2522L1576 2522Z"/>
<path class="c8" d="M1576 2522L1589 2522L1589 2535L1576 2535Z"/>
<path class="c6" d="M1589 2509L1615 2509L1615 2548L1589 2548Z"/>
<path class="c7" d="M1615 2522L1628 2522L1628 2548L1615 2548Z"/>
<path class="c8" d="M1615 2548L1628 2548L1628 2561L1615 2561Z"/>
<path class="c7" d="M1602 2548L1615 2548L1615 2561L1602 2561Z"/>
<path class="c7" d="M1628 2548L1641 2548L1641 2561L1628 2561Z"/>
<path class="c6" d="M1641 2509L1654 2509L1654 2548L1641 2548Z"/>
<path class="c8" d="M1654 2522L1667 2522L1667 2535L1654 2535Z"/>
<path class="c8" d="M1654 2548L1667 2548L1667 2561L1654 2561Z"/>
<path class="c9" d="M1693 2457L1706 2457L1706 2509L1693 2509Z"/>
<path class="c8" d="M1667 2470L1693 2470L1693 2509L1667 2509Z"/>
<path class="c8" d="M1654 2483L1667 2483L1667 2496L1654 2496Z"/>
<path class="c8" d="M1680 2509L1693 2509L1693 2522L1680 2522Z"/>
<path class="c9" d="M1732 2470L1745 2470L1745 2483L1732 2483Z"/>
<path class="c9" d="M1719 2483L1758 2483L1758 2522L1719 2522Z"/>
<path class="c8" d="M1706 2522L1771 2522L1771 2535L1706 2535Z"/>
<path class="c9" d="M1732 2535L1758 2535L1758 2548L1732 2548Z"/>
<path class="c8" d="M1706 2535L1732 2535L1732 2561L1706 2561Z"/>
<path class="c9" d="M1706 2548L1719 2548L1719 2574L1706 2574Z"/>
<path class="c8" d="M1745 2548L1758 2548L1758 2574L1745 2574Z"/>
<path class="c5" d="M1732 2548L1745 2548L1745 2561L1732 2561Z"/>
<path class="c6" d="M1758 2548L1771 2548L1771 2561L1758 2561Z"/>
<path class="c9" d="M1693 2561L1706 2561L1706 2574L1693 2574Z"/>
<path class="c8" d="M1706 2574L1719 2574L1719 2587L1706 2587Z"/>
<path class="c3" d="M1732 2574L1758 2574L1758 2587L1732 2587Z"/>
<path class="c7" d="M1719 2574L1732 2574L1732 2587L1719 2587Z"/>
<path class="c9" d="M1797 2470L1810 2470L1810 2483L1797 2483Z"/>
<path class="c9" d="M1771 2483L1823 2483L1823 2522L1771 2522Z"/>
<path class="c8" d="M1810 2509L1836 2509L1836 2522L1810 2522Z"/>
<path class="c8" d="M1784 2522L1849 2522L1849 2548L1784 2548Z"/>
<path class="c9" d="M1784 2522L1797 2522L1797 2535L1784 2535Z"/>
<path class="c8" d="M1784 2548L1823 2548L1823 2561L1784 2561Z"/>
<path class="cc" d="M1797 2548L1823 2548L1823 2574L1797 2574Z"/>
<path class="c6" d="M1823 2561L1836 2561L1836 2574L1823 2574Z"/>
<path class="c6" d="M1771 2561L1797 2561L1797 2587L1771 2587Z"/>
<path class="c6" d="M1654 2587L1667 2587L1667 2600L1654 2600Z"/>
<path class="c5" d="M1654 2600L1667 2600L1667 2613L1654 2613Z"/>
<path class="c3" d="M1667 2613L1680 2613L1680 2626L1667 2626Z"/>
<path class="c7" d="M1654 2626L1706 2626L1706 2652L1654 2652Z"/>
<path class="c8" d="M1693 2639L1706 2639L1706 2652L1693 2652Z"/>
<path class="c8" d="M1706 2613L1719 2613L1719 2626L1706 2626Z"/>
<path class="ce" d="M1706 2587L1758 2587L1758 2652L1706 2652Z"/>
<path class="cc" d="M1732 2600L1758 2600L1758 2639L1732 2639Z"/>
<path class="cc" d="M1771 2574L1823 2574L1823 2613L1771 2613Z"/>
<path class="cb" d="M1758 2613L1836 2613L1836 2652L1758 2652Z"/>
<path class="cc" d="M1784 2613L1810 2613L1810 2626L1784 2626Z"/>
<path class="c6" d="M1641 2639L1654 2639L1654 2652L1641 2652Z"/>
<path class="c9" d="M1901 2106L1914 2106L1914 2158L1901 2158Z"/>
<path class="c9" d="M1888 2132L1901 2132L1901 2158L1888 2158Z"/>
<path class="c8" d="M1875 2145L1888 2145L1888 2158L1875 2158Z"/>
<path class="c9" d="M1875 2158L1888 2158L1888 2197L1875 2197Z"/>
<path class="c6" d="M1901 2158L1914 2158L1914 2171L1901 2171Z"/>
<path class="c4" d="M1914 2145L1927 2145L1927 2158L1914 2158Z"/>
<path class="c4" d="M1914 2106L1927 2106L1927 2106L1914 2106Z"/>
<path class="c7" d="M1862 2197L1901 2197L1901 2210L1862 2210Z"/>
<path class="c6" d="M1849 2210L1888 2210L1888 2223L1849 2223Z"/>
<path class="c5" d="M1849 2223L1862 2223L1862 2236L1849 2236Z"/>
<path class="c6" d="M1862 2223L1888 2223L1888 2236L1862 2236Z"/>
<path class="c5" d="M1862 2236L1901 2236L1901 2262L1862 2262Z"/>
<path class="c4" d="M1875 2262L1888 2262L1888 2275L1875 2275Z"/>
<path class="c4" d="M1836 2275L1862 2275L1862 2288L1836 2288Z"/>
<path class="c9" d="M1940 2197L1953 2197L1953 2210L1940 2210Z"/>
<path class="c8" d="M1940 2249L1953 2249L1953 2262L1940 2262Z"/>
<path class="c9" d="M1927 2262L1940 2262L1940 2275L1927 2275Z"/>
<path class="c8" d="M1901 2288L1927 2288L1927 2301L1901 2301Z"/>
<path class="ce" d="M1888 2301L1953 2301L1953 2353L1888 2353Z"/>
<path class="c8" d="M1927 2314L1940 2314L1940 2327L1927 2327Z"/>
<path class="c8" d="M1901 2327L1914 2327L1914 2340L1901 2340Z"/>
<path class="c9" d="M1927 2379L1940 2379L1940 2392L1927 2392Z"/>
<path class="c8" d="M1940 2379L1953 2379L1953 2392L1940 2392Z"/>
<path class="c4" d="M1940 2171L1953 2171L1953 2184L1940 2184Z"/>
<path class="c4" d="M1914 2275L1953 2275L1953 2301L1914 2301Z"/>
<path class="c6" d="M1862 2405L1901 2405L1901 2418L1862 2418Z"/>
<path class="c9" d="M1914 2431L1927 2431L1927 2444L1914 2444Z"/>
<path class="c9" d="M1927 2444L1940 2444L1940 2457L1927 2457Z"/>
<path class="c6" d="M1875 2444L1888 2444L1888 2457L1875 2457Z"/>
<path class="c7" d="M1888 2444L1901 2444L1901 2457L1888 2457Z"/>
<path class="c4" d="M1901 2444L1914 2444L1914 2457L1901 2457Z"/>
<path class="c9" d="M1862 2457L1901 2457L1901 2496L1862 2496Z"/>
<path class="c9" d="M1849 2470L1862 2470L1862 2496L1849 2496Z"/>
<path class="c8" d="M1875 2483L1901 2483L1901 2496L1875 2496Z"/>
<path class="c8" d="M1862 2496L1875 2496L1875 2509L1862 2509Z"/>
<path class="c7" d="M1862 2496L1940 2496L1940 2548L1862 2548Z"/>
<path class="c8" d="M1888 2522L1927 2522L1927 2535L1888 2535Z"/>
<path class="c8" d="M1927 2509L1940 2509L1940 2522L1927 2522Z"/>
<path class="c8" d="M1875 2535L1901 2535L1901 2548L1875 2548Z"/>
<path class="cc" d="M1875 2548L1953 2548L1953 2600L1875 2600Z"/>
<path class="c3" d="M1888 2561L1927 2561L1927 2587L1888 2587Z"/>
<path class="c6" d="M1940 2522L1953 2522L1953 2548L1940 2548Z"/>
<path class="c4" d="M1836 2275L1849 2275L1849 2301L1836 2301Z"/>
<path class="c6" d="M1849 2288L1862 2288L1862 2314L1849 2314Z"/>
<path class="c4" d="M1836 2314L1849 2314L1849 2327L1836 2327Z"/>
<path class="c5" d="M1836 2327L1849 2327L1849 2340L1836 2340Z"/>
<path class="c4" d="M1836 2340L1862 2340L1862 2353L1836 2353Z"/>
<path class="ca" d="M1823 2366L1836 2366L1836 2379L1823 2379Z"/>
<path class="ca" d="M1953 0L2187 0L2187 13L2083 26L2083 52L2031 65L2005 104L1953 91Z"/>
<path class="c3" d="M1953 26L1966 26L1966 39L1953 39Z"/>
<path class="cb" d="M2031 52L2083 52L2083 65L2031 65Z"/>
<path class="cb" d="M1953 78L1979 78L1979 91L1953 91Z"/>
<path class="cb" d="M2057 39L2083 39L2083 52L2057 52Z"/>
<path class="cd" d="M2083 26L2135 26L2135 13L2187 13L2187 0L2369 0L2369 26L2356 26L2356 52L2343 52L2343 65L2330 65L2330 78L2291 78L2291 65L2265 65L2265 78L2226 78L2226 65L2200 65L2200 91L2174 91L2174 78L2161 78L2161 65L2122 65L2122 91L2096 91L2096 78L2083 78L2083 52L2070 52L2070 39L2083 39Z"/>
<path class="cb" d="M2187 26L2226 26L2226 52L2187 52Z"/>
<path class="cb" d="M2148 39L2187 39L2187 52L2148 52Z"/>
<path class="cb" d="M2109 26L2135 26L2135 39L2109 39Z"/>
<path class="c3" d="M2213 39L2239 39L2239 52L2213 52Z"/>
<path class="c8" d="M2330 13L2369 13L2369 39L2330 39Z"/>
<path class="c7" d="M2291 39L2356 39L2356 65L2291 65Z"/>
<path class="c7" d="M2304 65L2330 65L2330 78L2304 78Z"/>
<path class="c6" d="M2096 52L2122 52L2122 91L2096 91Z"/>
<path class="c6" d="M2226 52L2265 52L2265 78L2226 78Z"/>
<path class="c7" d="M2317 13L2330 13L2330 39L2317 39Z"/>
<path class="c5" d="M2174 65L2200 65L2200 91L2174 91Z"/>
<path class="c9" d="M2473 0L2499 0L2499 13L2473 13Z"/>
<path class="c6" d="M2759 0L2798 0L2798 26L2759 26Z"/>
<path class="c7" d="M2785 13L2798 13L2798 26L2785 26Z"/>
<path class="c5" d="M2785 26L2798 26L2798 39L2785 39Z"/>
<path class="c3" d="M2785 39L2798 39L2798 52L2785 52Z"/>
<path class="c4" d="M2798 52L2811 52L2811 65L2798 65Z"/>
<path class="c3" d="M2798 0L2824 0L2824 13L2798 13Z"/>
<path class="c6" d="M2746 52L2759 52L2759 104L2746 104Z"/>
<path class="c4" d="M2772 65L2837 65L2837 91L2772 91Z"/>
<path class="c5" d="M2811 91L2850 91L2850 104L2811 104Z"/>
<path class="c6" d="M2837 104L2850 104L2850 117L2837 117Z"/>
<path class="c6" d="M2759 104L2772 104L2772 117L2759 117Z"/>
<path class="c5" d="M2772 104L2785 104L2785 130L2772 130Z"/>
<path class="c3" d="M2785 104L2811 104L2811 130L2785 130Z"/>
<path class="c5" d="M2811 117L2824 117L2824 130L2811 130Z"/>
<path class="c6" d="M2785 130L2824 130L2824 156L2785 156Z"/>
<path class="c6" d="M2798 156L2824 156L2824 169L2798 169Z"/>
<path class="c3" d="M2824 143L2850 143L2850 169L2824 169Z"/>
<path class="c2" d="M2876 143L2902 143L2902 156L2876 156Z"/>
<path class="c8" d="M2915 338L2928 338L2928 351L2915 351Z"/>
<path class="c8" d="M2902 351L2915 351L2915 364L2902 364Z"/>
<path class="c7" d="M2915 351L2928 351L2928 364L2915 364Z"/>
<path class="c5" d="M2902 364L2928 364L2928 377L2902 377Z"/>
<path class="c4" d="M2902 377L2928 377L2928 390L2902 390Z"/>
<path class="c6" d="M2512 494L2551 494L2551 507L2512 507Z"/>
<path class="c5" d="M2486 507L2525 507L2525 520L2486 520Z"/>
<path class="c3" d="M2460 520L2499 520L2499 533L2460 533Z"/>
<path class="c4" d="M2460 533L2486 533L2486 559L2460 559Z"/>
<path class="c5" d="M2395 559L2408 559L2408 572L2395 572Z"/>
<path class="c4" d="M2408 559L2434 559L2434 572L2408 572Z"/>
<path class="c3" d="M2434 559L2460 559L2460 572L2434 572Z"/>
<path class="c7" d="M2356 572L2382 572L2382 585L2356 585Z"/>
<path class="c5" d="M2382 572L2395 572L2395 585L2382 585Z"/>
<path class="c4" d="M2395 572L2408 572L2408 585L2395 585Z"/>
<path class="c6" d="M2343 585L2382 585L2382 598L2343 598Z"/>
<path class="c6" d="M2304 598L2317 598L2317 611L2304 611Z"/>
<path class="c5" d="M2317 598L2356 598L2356 611L2317 611Z"/>
<path class="c6" d="M2265 611L2304 611L2304 624L2265 624Z"/>
<path class="c5" d="M2304 611L2330 611L2330 624L2304 624Z"/>
<path class="c6" d="M2252 624L2291 624L2291 637L2252 637Z"/>
<path class="c5" d="M2278 637L2291 637L2291 650L2278 650Z"/>
<path class="c4" d="M2291 650L2317 650L2317 663L2291 663Z"/>
<path class="c5" d="M2408 650L2421 650L2421 663L2408 663Z"/>
<path class="c6" d="M2447 689L2460 689L2460 702L2447 702Z"/>
<path class="c5" d="M2460 689L2473 689L2473 702L2460 702Z"/>
<path class="c4" d="M2603 494L2642 494L2642 507L2603 507Z"/>
<path class="c4" d="M2655 481L2668 481L2668 494L2655 494Z"/>
<path class="c3" d="M2655 468L2707 468L2707 481L2655 481Z"/>
<path class="c4" d="M2837 403L2863 403L2863 416L2837 416Z"/>
<path class="c4" d="M2863 390L2876 390L2876 403L2863 403Z"/>
<path class="ca" d="M2876 377L2928 377L2928 416L2876 416Z"/>
<path class="c6" d="M2850 572L2863 572L2863 598L2850 598Z"/>
<path class="c7" d="M2863 572L2876 572L2876 585L2863 585Z"/>
<path class="c5" d="M2876 572L2889 572L2889 585L2876 585Z"/>
<path class="c4" d="M2863 585L2876 585L2876 598L2863 598Z"/>
<path class="c6" d="M2902 559L2915 559L2915 572L2902 572Z"/>
<path class="c4" d="M2837 572L2850 572L2850 585L2837 585Z"/>
<path class="c5" d="M2720 650L2733 650L2733 663L2720 663Z"/>
<path class="c5" d="M2746 637L2759 637L2759 650L2746 650Z"/>
<path class="c4" d="M2798 611L2811 611L2811 624L2798 624Z"/>
<path class="c4" d="M2668 676L2681 676L2681 689L2668 689Z"/>
<path class="c3" d="M2564 650L2577 650L2577 663L2564 663Z"/>
<path class="ca" d="M2746 598L2928 559L2928 611L2811 624L2746 624Z"/>
<path class="cb" d="M2096 806L2252 806L2330 767L2447 767L2551 741L2551 806L2525 871L2642 884L2642 897L2577 910L2551 962L2512 1001L2486 1040L2382 1040L2343 1014L2304 1001L2291 962L2317 897L2252 884L2213 845L2148 845Z"/>
<path class="ca" d="M2525 702L2603 702L2603 741L2525 741Z"/>
<path class="c4" d="M2564 715L2577 715L2577 728L2564 728Z"/>
<path class="c4" d="M2525 728L2538 728L2538 741L2525 741Z"/>
<path class="c4" d="M2447 702L2473 702L2473 702L2447 702Z"/>
<path class="cc" d="M2330 780L2434 780L2434 767L2447 767L2447 793L2473 793L2473 832L2460 832L2460 845L2330 845Z"/>
<path class="c5" d="M2356 780L2408 780L2408 832L2356 832Z"/>
<path class="c5" d="M2382 832L2408 832L2408 845L2382 845Z"/>
<path class="c4" d="M2473 754L2512 754L2512 793L2473 793Z"/>
<path class="c4" d="M2512 741L2538 741L2538 754L2512 754Z"/>
<path class="c6" d="M2317 858L2343 858L2343 871L2317 871Z"/>
<path class="c6" d="M2291 871L2317 871L2317 884L2291 884Z"/>
<path class="c5" d="M2278 884L2304 884L2304 897L2278 897Z"/>
<path class="c4" d="M2252 858L2317 858L2317 871L2252 871Z"/>
<path class="c5" d="M2356 845L2382 845L2382 858L2356 858Z"/>
<path class="c4" d="M2460 832L2486 832L2486 858L2460 858Z"/>
<path class="cc" d="M2369 949L2434 949L2434 936L2460 936L2460 910L2486 910L2486 936L2512 936L2512 962L2499 962L2499 1001L2473 1001L2473 1027L2382 1027L2382 1001L2369 1001Z"/>
<path class="c5" d="M2395 962L2460 962L2460 1001L2395 1001Z"/>
<path class="c5" d="M2421 1001L2447 1001L2447 1027L2421 1027Z"/>
<path class="c7" d="M2382 988L2408 988L2408 1001L2382 1001Z"/>
<path class="c6" d="M2395 1014L2421 1014L2421 1027L2395 1027Z"/>
<path class="c6" d="M2434 1001L2460 1001L2460 1014L2434 1014Z"/>
<path class="c6" d="M2434 962L2447 962L2447 975L2434 975Z"/>
<path class="c6" d="M2408 962L2421 962L2421 975L2408 975Z"/>
<path class="c6" d="M2473 975L2486 975L2486 988L2473 988Z"/>
<path class="c6" d="M2525 949L2551 949L2551 962L2525 962Z"/>
<path class="c6" d="M2564 936L2577 936L2577 949L2564 949Z"/>
<path class="c5" d="M2512 936L2551 936L2551 949L2512 949Z"/>
<path class="c4" d="M2525 897L2551 897L2551 936L2525 936Z"/>
<path class="c4" d="M2434 910L2460 910L2460 923L2434 923Z"/>
<path class="c4" d="M2486 923L2512 923L2512 936L2486 936Z"/>
<path class="c4" d="M2161 910L2252 910L2252 936L2161 936Z"/>
<path class="c5" d="M2174 936L2213 936L2213 962L2174 962Z"/>
<path class="c5" d="M2226 910L2239 910L2239 936L2226 936Z"/>
<path class="c4" d="M2343 910L2356 910L2356 923L2343 923Z"/>
<path class="c5" d="M2265 910L2278 910L2278 923L2265 923Z"/>
<path class="c4" d="M2330 1001L2356 1001L2356 1014L2330 1014Z"/>
<path class="c4" d="M2421 1066L2447 1066L2447 1079L2421 1079Z"/>
<path class="c4" d="M2343 1092L2356 1092L2356 1105L2343 1105Z"/>
<path class="cb" d="M1953 910L2083 910L2161 910L2161 962L2122 988L2083 1014L2057 1027L2044 1092L1992 1105L1953 1105Z"/>
<path class="c5" d="M1953 949L1992 949L1992 975L1953 975Z"/>
<path class="c5" d="M2005 910L2031 910L2031 936L2005 936Z"/>
<path class="c4" d="M1992 1001L2044 1001L2044 1040L1992 1040Z"/>
<path class="cb" d="M1953 1105L2044 1092L2122 1092L2187 1118L2187 1235L2122 1235L2083 1209L2044 1222L1953 1222Z"/>
<path class="cc" d="M1953 1105L1979 1105L1979 1131L2018 1131L2018 1170L2057 1170L2057 1196L2018 1196L2018 1183L1979 1183L1979 1170L1953 1170Z"/>
<path class="c5" d="M1979 1131L2018 1131L2018 1157L1979 1157Z"/>
<path class="c5" d="M2096 1157L2187 1157L2187 1170L2096 1170Z"/>
<path class="cc" d="M2109 1131L2174 1131L2174 1157L2109 1157Z"/>
<path class="c5" d="M2083 1183L2096 1183L2096 1209L2083 1209Z"/>
<path class="c5" d="M2005 1183L2031 1183L2031 1196L2005 1196Z"/>
<path class="c4" d="M2044 1131L2057 1131L2057 1157L2044 1157Z"/>
<path class="c4" d="M2135 1196L2148 1196L2148 1209L2135 1209Z"/>
<path class="c4" d="M2070 1222L2109 1222L2109 1248L2070 1248Z"/>
<path class="c4" d="M2109 1222L2122 1222L2122 1235L2109 1235Z"/>
<path class="cb" d="M2005 1287L2109 1287L2109 1339L2031 1378L2005 1378Z"/>
<path class="c4" d="M2044 1300L2096 1300L2096 1339L2044 1339Z"/>
<path class="c4" d="M2083 1287L2109 1287L2109 1300L2083 1300Z"/>
<path class="c5" d="M2005 1352L2018 1352L2018 1365L2005 1365Z"/>
<path class="c4" d="M2616 1274L2642 1274L2642 1287L2616 1287Z"/>
<path class="c4" d="M2642 1287L2655 1287L2655 1300L2642 1300Z"/>
<path class="ca" d="M2694 1365L2746 1365L2746 1404L2694 1404Z"/>
<path class="c8" d="M2655 1222L2668 1222L2668 1235L2655 1235Z"/>
<path class="c6" d="M2642 1235L2655 1235L2655 1248L2642 1248Z"/>
<path class="c5" d="M2655 1235L2668 1235L2668 1248L2655 1248Z"/>
<path class="c7" d="M2642 1248L2655 1248L2655 1261L2642 1261Z"/>
<path class="c6" d="M2629 1248L2642 1248L2642 1261L2629 1261Z"/>
<path class="c8" d="M2655 1248L2668 1248L2668 1261L2655 1261Z"/>
<path class="c8" d="M2733 988L2746 988L2746 1001L2733 1001Z"/>
<path class="c8" d="M2694 1001L2746 1001L2746 1014L2694 1014Z"/>
<path class="c8" d="M2772 1001L2811 1001L2811 1014L2772 1014Z"/>
<path class="c8" d="M2642 1014L2681 1014L2681 1027L2642 1027Z"/>
<path class="c8" d="M2694 1014L2863 1014L2863 1027L2694 1027Z"/>
<path class="c8" d="M2642 1027L2863 1027L2863 1040L2642 1040Z"/>
<path class="c8" d="M2629 1040L2863 1040L2863 1053L2629 1053Z"/>
<path class="c8" d="M2616 1053L2759 1053L2759 1066L2616 1066Z"/>
<path class="c8" d="M2603 1066L2759 1066L2759 1079L2603 1079Z"/>
<path class="c8" d="M2616 1079L2642 1079L2642 1092L2616 1092Z"/>
<path class="c8" d="M2668 1079L2798 1079L2798 1092L2668 1092Z"/>
<path class="c8" d="M2629 1092L2642 1092L2642 1105L2629 1105Z"/>
<path class="c8" d="M2655 1092L2668 1092L2668 1105L2655 1105Z"/>
<path class="c8" d="M2694 1092L2720 1092L2720 1105L2694 1105Z"/>
<path class="c6" d="M2746 1001L2772 1001L2772 1014L2746 1014Z"/>
<path class="c9" d="M2720 1014L2863 1014L2863 1053L2720 1053Z"/>
<path class="c9" d="M2642 1040L2655 1040L2655 1053L2642 1053Z"/>
<path class="c9" d="M2733 1066L2759 1066L2759 1079L2733 1079Z"/>
<path class="c9" d="M2785 1079L2798 1079L2798 1092L2785 1092Z"/>
<path class="c7" d="M2642 1092L2655 1092L2655 1105L2642 1105Z"/>
<path class="cc" d="M2733 832L2772 832L2772 793L2798 793L2798 767L2850 767L2850 741L2928 741L2928 897L2798 897L2798 871L2733 871Z"/>
<path class="c6" d="M2889 767L2928 767L2928 806L2889 806Z"/>
<path class="c6" d="M2798 793L2850 793L2850 832L2798 832Z"/>
<path class="c7" d="M2772 832L2811 832L2811 871L2772 871Z"/>
<path class="c8" d="M2772 845L2876 845L2876 871L2772 871Z"/>
<path class="c7" d="M2811 806L2850 806L2850 845L2811 845Z"/>
<path class="c8" d="M2889 806L2928 806L2928 858L2889 858Z"/>
<path class="c9" d="M2889 832L2928 832L2928 858L2889 858Z"/>
<path class="cw" d="M2902 832L2915 832L2915 845L2902 845Z"/>
<path class="c5" d="M2733 832L2772 832L2772 858L2733 858Z"/>
<path class="c7" d="M2746 845L2772 845L2772 858L2746 858Z"/>
<path class="c6" d="M2798 871L2850 871L2850 897L2798 897Z"/>
<path class="c8" d="M2837 871L2863 871L2863 897L2837 897Z"/>
<path class="c6" d="M2850 806L2889 806L2889 832L2850 832Z"/>
<path class="c8" d="M2681 871L2785 871L2785 897L2681 897Z"/>
<path class="c7" d="M2694 871L2720 871L2720 884L2694 884Z"/>
<path class="c9" d="M2694 897L2707 897L2707 910L2694 910Z"/>
<path class="c4" d="M2902 741L2928 741L2928 754L2902 754Z"/>
<path class="cb" d="M2759 1560L2863 1560L2863 1599L2837 1599L2837 1625L2759 1625Z"/>
<path class="c4" d="M2785 1599L2824 1599L2824 1612L2785 1612Z"/>
<path class="c5" d="M2837 1599L2850 1599L2850 1612L2837 1612Z"/>
<path class="c4" d="M2824 1599L2837 1599L2837 1612L2824 1612Z"/>
<path class="c7" d="M2863 1599L2889 1599L2889 1612L2863 1612Z"/>
<path class="c8" d="M2889 1586L2902 1586L2902 1599L2889 1599Z"/>
<path class="c8" d="M2902 1599L2915 1599L2915 1612L2902 1612Z"/>
<path class="c9" d="M2915 1599L2928 1599L2928 1612L2915 1612Z"/>
<path class="c6" d="M2889 1599L2902 1599L2902 1612L2889 1612Z"/>
<path class="c5" d="M2837 1612L2850 1612L2850 1625L2837 1625Z"/>
<path class="c7" d="M2850 1612L2863 1612L2863 1625L2850 1625Z"/>
<path class="c8" d="M2863 1612L2876 1612L2876 1625L2863 1625Z"/>
<path class="c9" d="M2876 1612L2902 1612L2902 1625L2876 1625Z"/>
<path class="c8" d="M2902 1612L2928 1612L2928 1638L2902 1638Z"/>
<path class="c8" d="M2850 1625L2889 1625L2889 1638L2850 1638Z"/>
<path class="c9" d="M2863 1625L2876 1625L2876 1638L2863 1638Z"/>
<path class="c7" d="M2915 1625L2928 1625L2928 1638L2915 1638Z"/>
<path class="c3" d="M2863 1573L2876 1573L2876 1586L2863 1586Z"/>
<path class="c4" d="M2707 1625L2733 1625L2733 1638L2707 1638Z"/>
<path class="c5" d="M2707 1638L2720 1638L2720 1651L2707 1651Z"/>
<path class="c4" d="M2746 1612L2759 1612L2759 1625L2746 1625Z"/>
<path class="c6" d="M2759 1612L2772 1612L2772 1625L2759 1625Z"/>
<path class="cb" d="M2733 1638L2772 1638L2772 1651L2733 1651Z"/>
<path class="cb" d="M2681 1638L2707 1638L2707 1651L2681 1651Z"/>
<path class="cd" d="M2616 1690L2629 1690L2629 1677L2668 1677L2668 1651L2720 1651L2720 1664L2733 1664L2733 1690L2694 1690L2694 1716L2681 1716L2681 1742L2655 1742L2655 1716L2616 1716Z"/>
<path class="c7" d="M2668 1651L2720 1651L2720 1677L2668 1677Z"/>
<path class="c9" d="M2629 1664L2655 1664L2655 1677L2629 1677Z"/>
<path class="c9" d="M2629 1677L2642 1677L2642 1690L2629 1690Z"/>
<path class="c7" d="M2616 1690L2629 1690L2629 1703L2616 1703Z"/>
<path class="c3" d="M2642 1690L2655 1690L2655 1703L2642 1703Z"/>
<path class="c6" d="M2577 1677L2603 1677L2603 1690L2577 1690Z"/>
<path class="c8" d="M2590 1677L2603 1677L2603 1690L2590 1690Z"/>
<path class="c5" d="M2655 1651L2668 1651L2668 1664L2655 1664Z"/>
<path class="c4" d="M2486 1703L2512 1703L2512 1716L2486 1716Z"/>
<path class="c3" d="M2512 1690L2525 1690L2525 1703L2512 1703Z"/>
<path class="cb" d="M1953 1781L1979 1781L1979 1742L1992 1729L1979 1703L2031 1677L2135 1677L2135 1742L2096 1742L2083 1768L2070 1781L2122 1807L2122 1846L2083 1872L2070 1911L2057 1963L2005 1963L1992 1924L1953 1911Z"/>
<path class="cc" d="M1966 1742L2057 1742L2057 1846L1966 1846Z"/>
<path class="cc" d="M2057 1677L2135 1677L2135 1703L2057 1703Z"/>
<path class="cc" d="M1979 1872L2057 1872L2057 1911L1979 1911Z"/>
<path class="cb" d="M1953 1703L1979 1703L1979 1742L1953 1742Z"/>
<path class="c6" d="M2057 1716L2083 1716L2083 1729L2057 1729Z"/>
<path class="c6" d="M2044 1729L2070 1729L2070 1755L2044 1755Z"/>
<path class="c5" d="M2031 1677L2044 1677L2044 1690L2031 1690Z"/>
<path class="c5" d="M2005 1742L2057 1742L2057 1833L2005 1833Z"/>
<path class="c6" d="M1966 1781L1992 1781L1992 1794L1966 1794Z"/>
<path class="c6" d="M1953 1807L1966 1807L1966 1820L1953 1820Z"/>
<path class="c6" d="M1979 1833L2005 1833L2005 1846L1979 1846Z"/>
<path class="c6" d="M2018 1833L2057 1833L2057 1846L2018 1846Z"/>
<path class="c6" d="M2031 1794L2057 1794L2057 1833L2031 1833Z"/>
<path class="cb" d="M1992 1794L2031 1794L2031 1833L1992 1833Z"/>
<path class="c5" d="M1979 1846L2018 1846L2018 1859L1979 1859Z"/>
<path class="c6" d="M1992 1859L2005 1859L2005 1872L1992 1872Z"/>
<path class="c6" d="M2018 1872L2057 1872L2057 1885L2018 1885Z"/>
<path class="c6" d="M2044 1885L2057 1885L2057 1911L2044 1911Z"/>
<path class="c6" d="M1966 1898L1992 1898L1992 1911L1966 1911Z"/>
<path class="c6" d="M1992 1911L2005 1911L2005 1924L1992 1924Z"/>
<path class="c5" d="M1953 1885L1966 1885L1966 1911L1953 1911Z"/>
<path class="c7" d="M1966 1898L1979 1898L1979 1911L1966 1911Z"/>
<path class="cb" d="M1992 1924L2070 1924L2070 1963L1992 1963Z"/>
<path class="c5" d="M2148 1768L2174 1768L2174 1781L2148 1781Z"/>
<path class="c5" d="M2174 1755L2187 1755L2187 1768L2174 1768Z"/>
<path class="c5" d="M2187 1742L2200 1742L2200 1755L2187 1755Z"/>
<path class="c4" d="M2200 1729L2226 1729L2226 1742L2200 1742Z"/>
<path class="c5" d="M2174 1716L2187 1716L2187 1729L2174 1729Z"/>
<path class="ca" d="M2135 1781L2161 1781L2161 1794L2135 1794Z"/>
<path class="c5" d="M2200 1885L2226 1885L2226 1898L2200 1898Z"/>
<path class="c6" d="M2226 1885L2239 1885L2239 1911L2226 1911Z"/>
<path class="c5" d="M2174 1911L2200 1911L2200 1924L2174 1924Z"/>
<path class="c6" d="M2213 1911L2226 1911L2226 1924L2213 1924Z"/>
<path class="c8" d="M2226 1911L2239 1911L2239 1924L2226 1924Z"/>
<path class="c5" d="M2200 1924L2213 1924L2213 1937L2200 1937Z"/>
<path class="c7" d="M2213 1924L2226 1924L2226 1937L2213 1937Z"/>
<path class="ca" d="M2174 1885L2200 1885L2200 1911L2174 1911Z"/>
<path class="c8" d="M2213 1950L2239 1950L2239 1963L2213 1963Z"/>
<path class="c8" d="M2239 1963L2265 1963L2265 1976L2239 1976Z"/>
<path class="c7" d="M2239 1976L2252 1976L2252 1989L2239 1989Z"/>
<path class="c8" d="M2200 1989L2213 1989L2213 2015L2200 2015Z"/>
<path class="c7" d="M2213 1989L2226 1989L2226 2002L2213 2002Z"/>
<path class="c9" d="M2226 1989L2239 1989L2239 2002L2226 2002Z"/>
<path class="c8" d="M2239 1989L2252 1989L2252 2002L2239 2002Z"/>
<path class="c8" d="M2226 2002L2239 2002L2239 2015L2226 2015Z"/>
<path class="c9" d="M2148 1976L2174 1976L2174 1989L2148 1989Z"/>
<path class="c9" d="M2135 1989L2148 1989L2148 2002L2135 2002Z"/>
<path class="c8" d="M2148 1989L2174 1989L2174 2002L2148 2002Z"/>
<path class="c9" d="M2109 2002L2135 2002L2135 2015L2109 2015Z"/>
<path class="c8" d="M2135 2002L2148 2002L2148 2015L2135 2015Z"/>
<path class="c7" d="M2148 2002L2161 2002L2161 2015L2148 2015Z"/>
<path class="c8" d="M2096 2015L2109 2015L2109 2028L2096 2028Z"/>
<path class="c7" d="M2109 2015L2135 2015L2135 2028L2109 2028Z"/>
<path class="c7" d="M2096 2028L2122 2028L2122 2041L2096 2041Z"/>
<path class="c7" d="M2070 2041L2109 2041L2109 2054L2070 2054Z"/>
<path class="c7" d="M2070 2054L2083 2054L2083 2067L2070 2067Z"/>
<path class="c9" d="M2278 1989L2343 1989L2343 2002L2278 2002Z"/>
<path class="c9" d="M2291 2002L2304 2002L2304 2015L2291 2015Z"/>
<path class="c9" d="M2317 2002L2343 2002L2343 2015L2317 2015Z"/>
<path class="c9" d="M2278 2015L2330 2015L2330 2028L2278 2028Z"/>
<path class="c9" d="M2252 2028L2278 2028L2278 2041L2252 2041Z"/>
<path class="c9" d="M2330 2028L2343 2028L2343 2041L2330 2041Z"/>
<path class="c9" d="M2226 2041L2265 2041L2265 2054L2226 2054Z"/>
<path class="c9" d="M2317 2041L2330 2041L2330 2054L2317 2054Z"/>
<path class="c9" d="M2226 2054L2278 2054L2278 2067L2226 2067Z"/>
<path class="c9" d="M2317 2054L2330 2054L2330 2067L2317 2067Z"/>
<path class="c9" d="M2226 2067L2278 2067L2278 2080L2226 2080Z"/>
<path class="c9" d="M2291 2067L2330 2067L2330 2080L2291 2080Z"/>
<path class="c9" d="M2356 2067L2382 2067L2382 2080L2356 2080Z"/>
<path class="c9" d="M2395 2067L2447 2067L2447 2080L2395 2080Z"/>
<path class="c9" d="M2213 2080L2239 2080L2239 2093L2213 2093Z"/>
<path class="c9" d="M2252 2080L2265 2080L2265 2093L2252 2093Z"/>
<path class="c9" d="M2317 2080L2330 2080L2330 2093L2317 2093Z"/>
<path class="c9" d="M2343 2080L2421 2080L2421 2093L2343 2093Z"/>
<path class="c9" d="M2213 2093L2421 2093L2421 2106L2213 2106Z"/>
<path class="c9" d="M2447 2093L2473 2093L2473 2106L2447 2106Z"/>
<path class="c8" d="M2265 2002L2291 2002L2291 2015L2265 2015Z"/>
<path class="c8" d="M2304 2002L2317 2002L2317 2015L2304 2015Z"/>
<path class="c8" d="M2252 2015L2278 2015L2278 2028L2252 2028Z"/>
<path class="c7" d="M2278 2028L2291 2028L2291 2041L2278 2041Z"/>
<path class="c4" d="M2291 2028L2317 2028L2317 2041L2291 2041Z"/>
<path class="c8" d="M2317 2028L2330 2028L2330 2041L2317 2041Z"/>
<path class="c8" d="M2265 2041L2278 2041L2278 2054L2265 2054Z"/>
<path class="c6" d="M2278 2041L2291 2041L2291 2054L2278 2054Z"/>
<path class="c3" d="M2291 2041L2304 2041L2304 2067L2291 2067Z"/>
<path class="c8" d="M2304 2041L2317 2041L2317 2067L2304 2067Z"/>
<path class="c8" d="M2278 2054L2291 2054L2291 2067L2278 2067Z"/>
<path class="c8" d="M2278 2067L2291 2067L2291 2080L2278 2080Z"/>
<path class="c8" d="M2330 2067L2343 2067L2343 2080L2330 2080Z"/>
<path class="c8" d="M2239 2080L2252 2080L2252 2093L2239 2093Z"/>
<path class="c7" d="M2265 2080L2278 2080L2278 2093L2265 2093Z"/>
<path class="c8" d="M2278 2080L2291 2080L2291 2093L2278 2093Z"/>
<path class="c7" d="M2291 2080L2317 2080L2317 2093L2291 2093Z"/>
<path class="c8" d="M2330 2080L2343 2080L2343 2093L2330 2093Z"/>
<path class="c8" d="M2239 2093L2265 2093L2265 2106L2239 2106Z"/>
<path class="c7" d="M2278 2093L2304 2093L2304 2106L2278 2106Z"/>
<path class="c9" d="M2434 2041L2460 2041L2460 2054L2434 2054Z"/>
<path class="c9" d="M2421 2054L2447 2054L2447 2067L2421 2067Z"/>
<path class="c9" d="M2161 2080L2174 2080L2174 2106L2161 2106Z"/>
<path class="c8" d="M2174 2093L2187 2093L2187 2106L2174 2106Z"/>
<path class="c4" d="M2174 2080L2187 2080L2187 2093L2174 2093Z"/>
<path class="c8" d="M1953 2054L1979 2054L1979 2067L1953 2067Z"/>
<path class="c8" d="M2018 2041L2031 2041L2031 2054L2018 2054Z"/>
<path class="c7" d="M2083 2080L2109 2080L2109 2093L2083 2093Z"/>
<path class="c5" d="M2109 2080L2122 2080L2122 2093L2109 2093Z"/>
<path class="c5" d="M1953 1976L1966 1976L1966 2002L1953 2002Z"/>
<path class="c4" d="M1966 1976L1992 1976L1992 1989L1966 1989Z"/>
<path class="cb" d="M1992 2067L2031 2067L2031 2106L1992 2106Z"/>
<path class="cb" d="M1953 2002L1979 2002L1979 2041L1953 2041Z"/>
<path class="ca" d="M1992 1989L2044 1989L2044 2028L1992 2028Z"/>
<path class="c4" d="M2070 2093L2083 2093L2083 2106L2070 2106Z"/>
<path class="c6" d="M2512 1976L2538 1976L2538 2002L2512 2002Z"/>
<path class="c5" d="M2525 1976L2538 1976L2538 1989L2525 1989Z"/>
<path class="c7" d="M2499 1989L2525 1989L2525 2015L2499 2015Z"/>
<path class="c7" d="M2486 2002L2499 2002L2499 2015L2486 2015Z"/>
<path class="c5" d="M2473 2015L2499 2015L2499 2028L2473 2028Z"/>
<path class="c6" d="M2499 2015L2512 2015L2512 2028L2499 2028Z"/>
<path class="c9" d="M2460 2015L2473 2015L2473 2028L2460 2028Z"/>
<path class="c9" d="M2473 2028L2486 2028L2486 2041L2473 2041Z"/>
<path class="c6" d="M2512 2028L2538 2028L2538 2041L2512 2041Z"/>
<path class="c9" d="M2512 2041L2525 2041L2525 2054L2512 2054Z"/>
<path class="c7" d="M2486 2054L2499 2054L2499 2067L2486 2067Z"/>
<path class="c9" d="M2447 2093L2473 2093L2473 2106L2447 2106Z"/>
<path class="c8" d="M2499 1859L2512 1859L2512 1872L2499 1872Z"/>
<path class="c7" d="M2499 1872L2512 1872L2512 1885L2499 1885Z"/>
<path class="c5" d="M2499 1885L2512 1885L2512 1898L2499 1898Z"/>
<path class="c3" d="M2499 1898L2512 1898L2512 1911L2499 1911Z"/>
<path class="c5" d="M2447 1872L2460 1872L2460 1885L2447 1885Z"/>
<path class="c4" d="M2434 1872L2447 1872L2447 1885L2434 1885Z"/>
<path class="ca" d="M2512 1911L2538 1911L2538 1950L2512 1950Z"/>
<path class="c3" d="M2473 1963L2486 1963L2486 1976L2473 1976Z"/>
<path class="c9" d="M2863 1872L2889 1872L2889 1885L2863 1885Z"/>
<path class="c9" d="M2850 1885L2889 1885L2889 1898L2850 1898Z"/>
<path class="c9" d="M2811 1898L2863 1898L2863 1911L2811 1911Z"/>
<path class="c9" d="M2785 1911L2850 1911L2850 1924L2785 1924Z"/>
<path class="c9" d="M2785 1924L2824 1924L2824 1937L2785 1937Z"/>
<path class="c9" d="M2733 1924L2759 1924L2759 1937L2733 1937Z"/>
<path class="c8" d="M2720 1937L2759 1937L2759 1950L2720 1950Z"/>
<path class="c9" d="M2772 1937L2824 1937L2824 1950L2772 1950Z"/>
<path class="c8" d="M2759 1937L2772 1937L2772 1950L2759 1950Z"/>
<path class="c8" d="M2694 1950L2772 1950L2772 1963L2694 1963Z"/>
<path class="c9" d="M2772 1950L2798 1950L2798 1963L2772 1963Z"/>
<path class="c6" d="M2798 1950L2811 1950L2811 1963L2798 1963Z"/>
<path class="c5" d="M2811 1950L2824 1950L2824 1963L2811 1963Z"/>
<path class="c8" d="M2681 1963L2759 1963L2759 1976L2681 1976Z"/>
<path class="c7" d="M2759 1963L2785 1963L2785 1976L2759 1976Z"/>
<path class="c5" d="M2785 1963L2824 1963L2824 1976L2785 1976Z"/>
<path class="c7" d="M2655 1976L2668 1976L2668 1989L2655 1989Z"/>
<path class="c8" d="M2668 1976L2746 1976L2746 1989L2668 1989Z"/>
<path class="c6" d="M2746 1976L2772 1976L2772 1989L2746 1989Z"/>
<path class="c5" d="M2772 1976L2785 1976L2785 1989L2772 1989Z"/>
<path class="c7" d="M2655 1989L2668 1989L2668 2002L2655 2002Z"/>
<path class="c8" d="M2668 1989L2720 1989L2720 2002L2668 2002Z"/>
<path class="c7" d="M2720 1989L2746 1989L2746 2002L2720 2002Z"/>
<path class="c5" d="M2746 1989L2759 1989L2759 2002L2746 2002Z"/>
<path class="c7" d="M2642 2002L2668 2002L2668 2015L2642 2015Z"/>
<path class="c8" d="M2668 2002L2707 2002L2707 2015L2668 2015Z"/>
<path class="c7" d="M2707 2002L2733 2002L2733 2015L2707 2015Z"/>
<path class="c6" d="M2733 2002L2746 2002L2746 2015L2733 2015Z"/>
<path class="c8" d="M2603 2015L2629 2015L2629 2028L2603 2028Z"/>
<path class="c7" d="M2629 2015L2655 2015L2655 2028L2629 2028Z"/>
<path class="c8" d="M2655 2015L2694 2015L2694 2028L2655 2028Z"/>
<path class="c6" d="M2694 2015L2720 2015L2720 2028L2694 2028Z"/>
<path class="c5" d="M2720 2015L2733 2015L2733 2028L2720 2028Z"/>
<path class="c8" d="M2590 2028L2603 2028L2603 2041L2590 2041Z"/>
<path class="c7" d="M2603 2028L2629 2028L2629 2041L2603 2041Z"/>
<path class="c8" d="M2629 2028L2681 2028L2681 2041L2629 2041Z"/>
<path class="c6" d="M2681 2028L2707 2028L2707 2041L2681 2041Z"/>
<path class="c6" d="M2616 2041L2642 2041L2642 2054L2616 2054Z"/>
<path class="c8" d="M2642 2041L2668 2041L2668 2054L2642 2054Z"/>
<path class="c7" d="M2668 2041L2681 2041L2681 2054L2668 2054Z"/>
<path class="c6" d="M2616 2054L2642 2054L2642 2067L2616 2067Z"/>
<path class="c8" d="M2642 2054L2655 2054L2655 2067L2642 2067Z"/>
<path class="c7" d="M2655 2054L2681 2054L2681 2067L2655 2067Z"/>
<path class="c5" d="M2629 2067L2655 2067L2655 2080L2629 2080Z"/>
<path class="c6" d="M2655 2067L2681 2067L2681 2080L2655 2080Z"/>
<path class="c5" d="M2629 2080L2642 2080L2642 2093L2629 2093Z"/>
<path class="c7" d="M2642 2080L2668 2080L2668 2093L2642 2093Z"/>
<path class="c8" d="M2668 2080L2681 2080L2681 2106L2668 2106Z"/>
<path class="c7" d="M2629 2093L2668 2093L2668 2106L2629 2106Z"/>
<path class="c9" d="M2915 1885L2928 1885L2928 1898L2915 1898Z"/>
<path class="c9" d="M2902 1898L2915 1898L2915 1911L2902 1911Z"/>
<path class="c6" d="M2915 1898L2928 1898L2928 1911L2915 1911Z"/>
<path class="c4" d="M2889 1924L2915 1924L2915 1937L2889 1937Z"/>
<path class="c9" d="M2811 1781L2889 1781L2889 1794L2811 1794Z"/>
<path class="c5" d="M2889 1781L2902 1781L2902 1794L2889 1794Z"/>
<path class="c4" d="M2902 1781L2915 1781L2915 1794L2902 1794Z"/>
<path class="ca" d="M2811 1768L2824 1768L2824 1781L2811 1781Z"/>
<path class="c4" d="M2174 1508L2187 1508L2187 1534L2174 1534Z"/>
<path class="c3" d="M2148 1521L2187 1521L2187 1534L2148 1534Z"/>
<path class="c4" d="M2161 1547L2174 1547L2174 1560L2161 1560Z"/>
<path class="c5" d="M2148 1560L2161 1560L2161 1573L2148 1573Z"/>
<path class="c4" d="M2161 1573L2200 1573L2200 1586L2161 1586Z"/>
<path class="c3" d="M2174 1586L2187 1586L2187 1599L2174 1599Z"/>
<path class="c3" d="M2161 1534L2200 1534L2200 1573L2161 1573Z"/>
<path class="c4" d="M2265 1547L2278 1547L2278 1560L2265 1560Z"/>
<path class="c5" d="M2083 1599L2122 1599L2122 1625L2083 1625Z"/>
<path class="c4" d="M2057 1612L2070 1612L2070 1625L2057 1625Z"/>
<path class="c5" d="M2083 1638L2096 1638L2096 1651L2083 1651Z"/>
<path class="c4" d="M2499 1534L2512 1534L2512 1560L2499 1560Z"/>
<path class="c4" d="M2499 1573L2512 1573L2512 1586L2499 1586Z"/>
<path class="c4" d="M2772 1417L2798 1417L2798 1430L2772 1430Z"/>
<path class="ca" d="M2642 1404L2798 1404L2798 1456L2642 1456Z"/>
<path class="c3" d="M2759 1404L2785 1404L2785 1417L2759 1417Z"/>
<path class="ca" d="M2460 1482L2473 1482L2473 1495L2460 1495Z"/>
<path class="ca" d="M2447 1508L2460 1508L2460 1521L2447 1521Z"/>
<path class="ca" d="M2447 1625L2512 1625L2512 1651L2447 1651Z"/>
<path class="ca" d="M2486 1781L2512 1781L2512 1833L2486 1833Z"/>
<path class="c4" d="M2434 1872L2447 1872L2447 1885L2434 1885Z"/>
<path class="ca" d="M2382 1846L2395 1846L2395 1859L2382 1859Z"/>
<path class="ca" d="M2304 1677L2317 1677L2317 1690L2304 1690Z"/>
<path class="c9" d="M1953 2171L1992 2171L1992 2223L1953 2223Z"/>
<path class="c8" d="M1992 2145L2018 2145L2018 2223L1992 2223Z"/>
<path class="c8" d="M2018 2132L2044 2132L2044 2171L2018 2171Z"/>
<path class="c8" d="M2057 2132L2083 2132L2083 2145L2057 2145Z"/>
<path class="c9" d="M2070 2119L2083 2119L2083 2132L2070 2132Z"/>
<path class="c8" d="M2083 2119L2096 2119L2096 2132L2083 2132Z"/>
<path class="c8" d="M2044 2132L2057 2132L2057 2145L2044 2145Z"/>
<path class="c8" d="M1953 2223L2018 2223L2018 2275L1953 2275Z"/>
<path class="c9" d="M1953 2236L1966 2236L1966 2249L1953 2249Z"/>
<path class="c7" d="M2005 2223L2031 2223L2031 2249L2005 2249Z"/>
<path class="c7" d="M1966 2262L1992 2262L1992 2275L1966 2275Z"/>
<path class="c6" d="M1979 2249L2005 2249L2005 2262L1979 2262Z"/>
<path class="c5" d="M1992 2262L2005 2262L2005 2275L1992 2275Z"/>
<path class="c6" d="M1953 2275L1979 2275L1979 2288L1953 2288Z"/>
<path class="c4" d="M1979 2275L1992 2275L1992 2288L1979 2288Z"/>
<path class="c5" d="M2031 2236L2044 2236L2044 2249L2031 2249Z"/>
<path class="c3" d="M2044 2236L2070 2236L2070 2249L2044 2249Z"/>
<path class="c5" d="M2083 2236L2096 2236L2096 2249L2083 2249Z"/>
<path class="c8" d="M2044 2210L2057 2210L2057 2223L2044 2223Z"/>
<path class="c8" d="M2057 2197L2070 2197L2070 2210L2057 2210Z"/>
<path class="c4" d="M1979 2106L1992 2106L1992 2119L1979 2119Z"/>
<path class="c6" d="M2070 2106L2096 2106L2096 2119L2070 2119Z"/>
<path class="c3" d="M2057 2106L2070 2106L2070 2119L2057 2119Z"/>
<path class="c5" d="M1953 2327L1966 2327L1966 2353L1953 2353Z"/>
<path class="c6" d="M1966 2327L1979 2327L1979 2340L1966 2340Z"/>
<path class="c6" d="M1953 2353L1966 2353L1966 2366L1953 2366Z"/>
<path class="c4" d="M1966 2366L1979 2366L1979 2379L1966 2379Z"/>
<path class="c8" d="M1953 2366L1966 2366L1966 2379L1953 2379Z"/>
<path class="c9" d="M1953 2379L1966 2379L1966 2392L1953 2392Z"/>
<path class="c9" d="M2031 2392L2044 2392L2044 2405L2031 2405Z"/>
<path class="ca" d="M1992 2379L2018 2379L2018 2405L1992 2405Z"/>
<path class="ca" d="M2044 2353L2057 2353L2057 2366L2044 2366Z"/>
<path class="c8" d="M2109 2171L2122 2171L2122 2210L2109 2210Z"/>
<path class="c8" d="M2096 2184L2109 2184L2109 2197L2096 2197Z"/>
<path class="c7" d="M2109 2145L2135 2145L2135 2158L2109 2158Z"/>
<path class="c7" d="M2122 2132L2148 2132L2148 2145L2122 2145Z"/>
<path class="c8" d="M2122 2119L2135 2119L2135 2132L2122 2132Z"/>
<path class="c6" d="M2109 2158L2122 2158L2122 2171L2109 2171Z"/>
<path class="c9" d="M2213 2106L2226 2106L2226 2106L2213 2106Z"/>
<path class="c9" d="M2330 2106L2421 2106L2421 2106L2330 2106Z"/>
<path class="c9" d="M2330 2106L2408 2106L2408 2119L2330 2119Z"/>
<path class="c9" d="M2434 2106L2486 2106L2486 2119L2434 2119Z"/>
<path class="c9" d="M2226 2119L2239 2119L2239 2132L2226 2132Z"/>
<path class="c9" d="M2278 2119L2304 2119L2304 2132L2278 2132Z"/>
<path class="c9" d="M2330 2119L2356 2119L2356 2132L2330 2132Z"/>
<path class="c9" d="M2369 2119L2473 2119L2473 2132L2369 2132Z"/>
<path class="c9" d="M2213 2132L2226 2132L2226 2145L2213 2145Z"/>
<path class="c9" d="M2239 2132L2252 2132L2252 2145L2239 2145Z"/>
<path class="c9" d="M2330 2132L2382 2132L2382 2145L2330 2145Z"/>
<path class="c9" d="M2395 2132L2408 2132L2408 2145L2395 2145Z"/>
<path class="c9" d="M2434 2132L2473 2132L2473 2145L2434 2145Z"/>
<path class="c9" d="M2148 2145L2226 2145L2226 2158L2148 2158Z"/>
<path class="c9" d="M2252 2145L2265 2145L2265 2158L2252 2158Z"/>
<path class="c9" d="M2304 2145L2382 2145L2382 2158L2304 2158Z"/>
<path class="c9" d="M2408 2145L2434 2145L2434 2158L2408 2158Z"/>
<path class="c9" d="M2447 2145L2473 2145L2473 2158L2447 2158Z"/>
<path class="c9" d="M2148 2158L2161 2158L2161 2171L2148 2171Z"/>
<path class="c9" d="M2174 2158L2226 2158L2226 2171L2174 2171Z"/>
<path class="c9" d="M2291 2158L2382 2158L2382 2171L2291 2171Z"/>
<path class="c9" d="M2421 2158L2473 2158L2473 2171L2421 2171Z"/>
<path class="c9" d="M2148 2171L2161 2171L2161 2184L2148 2184Z"/>
<path class="c9" d="M2174 2171L2187 2171L2187 2184L2174 2184Z"/>
<path class="c9" d="M2291 2171L2395 2171L2395 2184L2291 2184Z"/>
<path class="c9" d="M2421 2171L2486 2171L2486 2184L2421 2184Z"/>
<path class="c9" d="M2538 2171L2577 2171L2577 2184L2538 2184Z"/>
<path class="c9" d="M2148 2184L2161 2184L2161 2197L2148 2197Z"/>
<path class="c9" d="M2291 2184L2369 2184L2369 2197L2291 2197Z"/>
<path class="c9" d="M2382 2184L2486 2184L2486 2197L2382 2197Z"/>
<path class="c9" d="M2525 2184L2564 2184L2564 2197L2525 2197Z"/>
<path class="c9" d="M2265 2197L2278 2197L2278 2210L2265 2210Z"/>
<path class="c9" d="M2304 2197L2408 2197L2408 2210L2304 2210Z"/>
<path class="c9" d="M2421 2197L2564 2197L2564 2210L2421 2210Z"/>
<path class="c9" d="M2278 2210L2291 2210L2291 2223L2278 2223Z"/>
<path class="c9" d="M2304 2210L2551 2210L2551 2223L2304 2223Z"/>
<path class="c9" d="M2278 2223L2291 2223L2291 2236L2278 2236Z"/>
<path class="c9" d="M2304 2223L2434 2223L2434 2236L2304 2236Z"/>
<path class="c9" d="M2460 2223L2538 2223L2538 2236L2460 2236Z"/>
<path class="c9" d="M2265 2236L2304 2236L2304 2249L2265 2249Z"/>
<path class="c9" d="M2317 2236L2408 2236L2408 2249L2317 2249Z"/>
<path class="c9" d="M2447 2236L2486 2236L2486 2249L2447 2249Z"/>
<path class="c9" d="M2499 2236L2512 2236L2512 2249L2499 2249Z"/>
<path class="c9" d="M2265 2249L2317 2249L2317 2262L2265 2262Z"/>
<path class="c9" d="M2330 2249L2408 2249L2408 2262L2330 2262Z"/>
<path class="c9" d="M2421 2249L2447 2249L2447 2262L2421 2262Z"/>
<path class="c9" d="M2460 2249L2473 2249L2473 2262L2460 2262Z"/>
<path class="c9" d="M2252 2262L2317 2262L2317 2275L2252 2275Z"/>
<path class="c9" d="M2343 2262L2408 2262L2408 2275L2343 2275Z"/>
<path class="c9" d="M2421 2262L2434 2262L2434 2275L2421 2275Z"/>
<path class="c9" d="M2447 2262L2460 2262L2460 2275L2447 2275Z"/>
<path class="c9" d="M2213 2275L2226 2275L2226 2288L2213 2288Z"/>
<path class="c9" d="M2252 2275L2317 2275L2317 2288L2252 2288Z"/>
<path class="c9" d="M2330 2275L2369 2275L2369 2288L2330 2288Z"/>
<path class="c9" d="M2382 2275L2395 2275L2395 2288L2382 2288Z"/>
<path class="c9" d="M2421 2275L2434 2275L2434 2288L2421 2288Z"/>
<path class="c9" d="M2447 2275L2486 2275L2486 2288L2447 2288Z"/>
<path class="c9" d="M2213 2288L2226 2288L2226 2301L2213 2301Z"/>
<path class="c9" d="M2239 2288L2252 2288L2252 2301L2239 2301Z"/>
<path class="c9" d="M2265 2288L2330 2288L2330 2301L2265 2301Z"/>
<path class="c9" d="M2434 2288L2473 2288L2473 2301L2434 2301Z"/>
<path class="c9" d="M2252 2301L2317 2301L2317 2314L2252 2314Z"/>
<path class="c9" d="M2408 2301L2460 2301L2460 2314L2408 2314Z"/>
<path class="c9" d="M2174 2314L2187 2314L2187 2327L2174 2327Z"/>
<path class="c9" d="M2226 2314L2265 2314L2265 2327L2226 2327Z"/>
<path class="c9" d="M2278 2314L2317 2314L2317 2327L2278 2327Z"/>
<path class="c9" d="M2395 2314L2434 2314L2434 2327L2395 2327Z"/>
<path class="c9" d="M2447 2314L2460 2314L2460 2327L2447 2327Z"/>
<path class="c9" d="M2187 2327L2200 2327L2200 2340L2187 2340Z"/>
<path class="c9" d="M2226 2327L2239 2327L2239 2340L2226 2340Z"/>
<path class="c9" d="M2252 2327L2317 2327L2317 2340L2252 2340Z"/>
<path class="c9" d="M2382 2327L2421 2327L2421 2340L2382 2340Z"/>
<path class="c9" d="M2434 2327L2447 2327L2447 2340L2434 2340Z"/>
<path class="c9" d="M2265 2340L2317 2340L2317 2353L2265 2353Z"/>
<path class="c9" d="M2252 2353L2317 2353L2317 2366L2252 2366Z"/>
<path class="c9" d="M2330 2353L2382 2353L2382 2366L2330 2366Z"/>
<path class="c9" d="M2174 2366L2187 2366L2187 2379L2174 2379Z"/>
<path class="c9" d="M2200 2366L2291 2366L2291 2379L2200 2379Z"/>
<path class="c9" d="M2304 2366L2317 2366L2317 2379L2304 2379Z"/>
<path class="c9" d="M2343 2366L2356 2366L2356 2379L2343 2379Z"/>
<path class="c9" d="M2174 2379L2187 2379L2187 2392L2174 2392Z"/>
<path class="c9" d="M2200 2379L2265 2379L2265 2392L2200 2392Z"/>
<path class="c9" d="M2304 2379L2317 2379L2317 2392L2304 2392Z"/>
<path class="c9" d="M2382 2379L2395 2379L2395 2392L2382 2392Z"/>
<path class="c9" d="M2161 2392L2239 2392L2239 2405L2161 2405Z"/>
<path class="c9" d="M2148 2405L2213 2405L2213 2418L2148 2418Z"/>
<path class="c9" d="M2161 2418L2187 2418L2187 2431L2161 2431Z"/>
<path class="c9" d="M2148 2431L2161 2431L2161 2444L2148 2444Z"/>
<path class="c8" d="M2161 2106L2187 2106L2187 2106L2161 2106Z"/>
<path class="c8" d="M2239 2106L2278 2106L2278 2106L2239 2106Z"/>
<path class="c8" d="M2434 2106L2473 2106L2473 2106L2434 2106Z"/>
<path class="c8" d="M2616 2106L2681 2106L2681 2106L2616 2106Z"/>
<path class="c8" d="M2226 2106L2278 2106L2278 2119L2226 2119Z"/>
<path class="c8" d="M2291 2106L2317 2106L2317 2119L2291 2119Z"/>
<path class="c8" d="M2616 2106L2668 2106L2668 2119L2616 2119Z"/>
<path class="c8" d="M2200 2119L2226 2119L2226 2132L2200 2132Z"/>
<path class="c8" d="M2252 2119L2278 2119L2278 2132L2252 2132Z"/>
<path class="c8" d="M2356 2119L2369 2119L2369 2132L2356 2132Z"/>
<path class="c8" d="M2473 2119L2486 2119L2486 2132L2473 2132Z"/>
<path class="c8" d="M2642 2119L2655 2119L2655 2132L2642 2132Z"/>
<path class="c8" d="M2187 2132L2213 2132L2213 2145L2187 2145Z"/>
<path class="c8" d="M2226 2132L2239 2132L2239 2145L2226 2145Z"/>
<path class="c8" d="M2252 2132L2278 2132L2278 2145L2252 2145Z"/>
<path class="c8" d="M2382 2132L2395 2132L2395 2145L2382 2145Z"/>
<path class="c8" d="M2239 2145L2252 2145L2252 2158L2239 2158Z"/>
<path class="c8" d="M2382 2145L2395 2145L2395 2158L2382 2158Z"/>
<path class="c8" d="M2590 2145L2603 2145L2603 2158L2590 2158Z"/>
<path class="c8" d="M2161 2158L2174 2158L2174 2171L2161 2171Z"/>
<path class="c8" d="M2226 2158L2239 2158L2239 2171L2226 2171Z"/>
<path class="c8" d="M2382 2158L2395 2158L2395 2171L2382 2171Z"/>
<path class="c8" d="M2564 2158L2590 2158L2590 2171L2564 2171Z"/>
<path class="c8" d="M2161 2171L2174 2171L2174 2184L2161 2184Z"/>
<path class="c8" d="M2161 2184L2174 2184L2174 2197L2161 2197Z"/>
<path class="c8" d="M2369 2184L2382 2184L2382 2197L2369 2197Z"/>
<path class="c8" d="M2408 2197L2421 2197L2421 2210L2408 2210Z"/>
<path class="c8" d="M2252 2210L2278 2210L2278 2223L2252 2223Z"/>
<path class="c8" d="M2265 2223L2278 2223L2278 2236L2265 2236Z"/>
<path class="c8" d="M2252 2236L2265 2236L2265 2249L2252 2249Z"/>
<path class="c8" d="M2304 2236L2317 2236L2317 2249L2304 2249Z"/>
<path class="c8" d="M2447 2249L2460 2249L2460 2262L2447 2262Z"/>
<path class="c8" d="M2408 2262L2421 2262L2421 2275L2408 2275Z"/>
<path class="c8" d="M2434 2262L2447 2262L2447 2275L2434 2275Z"/>
<path class="c8" d="M2200 2275L2213 2275L2213 2288L2200 2288Z"/>
<path class="c8" d="M2239 2275L2252 2275L2252 2288L2239 2288Z"/>
<path class="c8" d="M2369 2275L2382 2275L2382 2288L2369 2288Z"/>
<path class="c8" d="M2395 2275L2421 2275L2421 2288L2395 2288Z"/>
<path class="c8" d="M2200 2288L2213 2288L2213 2301L2200 2301Z"/>
<path class="c8" d="M2226 2288L2239 2288L2239 2301L2226 2301Z"/>
<path class="c8" d="M2252 2288L2265 2288L2265 2301L2252 2301Z"/>
<path class="c8" d="M2382 2288L2421 2288L2421 2301L2382 2301Z"/>
<path class="c8" d="M2200 2301L2213 2301L2213 2314L2200 2314Z"/>
<path class="c8" d="M2226 2301L2252 2301L2252 2314L2226 2314Z"/>
<path class="c8" d="M2382 2301L2408 2301L2408 2314L2382 2314Z"/>
<path class="c8" d="M2213 2314L2226 2314L2226 2327L2213 2327Z"/>
<path class="c8" d="M2265 2314L2278 2314L2278 2327L2265 2327Z"/>
<path class="c8" d="M2434 2314L2447 2314L2447 2327L2434 2327Z"/>
<path class="c8" d="M2213 2327L2226 2327L2226 2340L2213 2340Z"/>
<path class="c8" d="M2317 2327L2369 2327L2369 2340L2317 2340Z"/>
<path class="c8" d="M2421 2327L2434 2327L2434 2340L2421 2340Z"/>
<path class="c8" d="M2252 2340L2265 2340L2265 2353L2252 2353Z"/>
<path class="c8" d="M2317 2340L2369 2340L2369 2353L2317 2353Z"/>
<path class="c8" d="M2408 2340L2434 2340L2434 2353L2408 2353Z"/>
<path class="c8" d="M2317 2353L2330 2353L2330 2366L2317 2366Z"/>
<path class="c8" d="M2382 2353L2395 2353L2395 2366L2382 2366Z"/>
<path class="c8" d="M2291 2366L2304 2366L2304 2379L2291 2379Z"/>
<path class="c8" d="M2317 2366L2343 2366L2343 2379L2317 2379Z"/>
<path class="c8" d="M2356 2366L2369 2366L2369 2379L2356 2379Z"/>
<path class="c8" d="M2408 2366L2421 2366L2421 2379L2408 2379Z"/>
<path class="c8" d="M2278 2379L2304 2379L2304 2392L2278 2392Z"/>
<path class="c8" d="M2317 2379L2330 2379L2330 2392L2317 2392Z"/>
<path class="c8" d="M2395 2379L2408 2379L2408 2392L2395 2392Z"/>
<path class="c8" d="M2239 2392L2252 2392L2252 2405L2239 2405Z"/>
<path class="c8" d="M2213 2405L2252 2405L2252 2418L2213 2418Z"/>
<path class="c8" d="M2187 2418L2239 2418L2239 2431L2187 2431Z"/>
<path class="c5" d="M2187 2106L2200 2106L2200 2106L2187 2106Z"/>
<path class="c7" d="M2226 2106L2239 2106L2239 2106L2226 2106Z"/>
<path class="c7" d="M2486 2106L2499 2106L2499 2106L2486 2106Z"/>
<path class="c7" d="M2278 2106L2291 2106L2291 2119L2278 2119Z"/>
<path class="c7" d="M2473 2132L2499 2132L2499 2145L2473 2145Z"/>
<path class="c7" d="M2473 2145L2486 2145L2486 2158L2473 2158Z"/>
<path class="c6" d="M2473 2158L2486 2158L2486 2171L2473 2171Z"/>
<path class="c7" d="M2174 2184L2187 2184L2187 2197L2174 2197Z"/>
<path class="c7" d="M2148 2197L2161 2197L2161 2210L2148 2210Z"/>
<path class="c5" d="M2161 2197L2174 2197L2174 2223L2161 2223Z"/>
<path class="c7" d="M2174 2197L2187 2197L2187 2210L2174 2210Z"/>
<path class="c7" d="M2239 2210L2252 2210L2252 2223L2239 2223Z"/>
<path class="c7" d="M2239 2223L2265 2223L2265 2236L2239 2236Z"/>
<path class="c6" d="M2213 2236L2226 2236L2226 2249L2213 2249Z"/>
<path class="c7" d="M2239 2236L2252 2236L2252 2249L2239 2249Z"/>
<path class="c4" d="M2512 2236L2525 2236L2525 2249L2512 2249Z"/>
<path class="c6" d="M2174 2262L2187 2262L2187 2288L2174 2288Z"/>
<path class="c7" d="M2187 2262L2200 2262L2200 2288L2187 2288Z"/>
<path class="c7" d="M2174 2288L2187 2288L2187 2301L2174 2301Z"/>
<path class="c7" d="M2187 2301L2200 2301L2200 2327L2187 2327Z"/>
<path class="c7" d="M2174 2327L2187 2327L2187 2340L2174 2340Z"/>
<path class="c7" d="M2239 2327L2252 2327L2252 2340L2239 2340Z"/>
<path class="c7" d="M2200 2340L2213 2340L2213 2353L2200 2353Z"/>
<path class="c5" d="M2200 2353L2213 2353L2213 2366L2200 2366Z"/>
<path class="c5" d="M2187 2366L2200 2366L2200 2379L2187 2379Z"/>
<path class="c7" d="M2382 2340L2395 2340L2395 2353L2382 2353Z"/>
<path class="c5" d="M2395 2340L2408 2340L2408 2366L2395 2366Z"/>
<path class="c6" d="M2434 2340L2447 2340L2447 2353L2434 2353Z"/>
<path class="c7" d="M2408 2353L2421 2353L2421 2366L2408 2366Z"/>
<path class="c6" d="M2421 2353L2434 2353L2434 2366L2421 2366Z"/>
<path class="c7" d="M2434 2353L2447 2353L2447 2366L2434 2366Z"/>
<path class="c6" d="M2369 2366L2395 2366L2395 2379L2369 2379Z"/>
<path class="c5" d="M2395 2366L2408 2366L2408 2379L2395 2379Z"/>
<path class="c7" d="M2330 2379L2343 2379L2343 2392L2330 2392Z"/>
<path class="c6" d="M2343 2379L2369 2379L2369 2392L2343 2392Z"/>
<path class="c5" d="M2369 2379L2382 2379L2382 2392L2369 2392Z"/>
<path class="c7" d="M2278 2392L2304 2392L2304 2405L2278 2405Z"/>
<path class="c6" d="M2304 2392L2317 2392L2317 2405L2304 2405Z"/>
<path class="c5" d="M2317 2392L2369 2392L2369 2405L2317 2405Z"/>
<path class="c3" d="M2369 2392L2382 2392L2382 2405L2369 2405Z"/>
<path class="c7" d="M2382 2392L2395 2392L2395 2405L2382 2405Z"/>
<path class="c5" d="M2395 2392L2408 2392L2408 2405L2395 2405Z"/>
<path class="c7" d="M2252 2405L2265 2405L2265 2418L2252 2418Z"/>
<path class="c6" d="M2265 2405L2278 2405L2278 2418L2265 2418Z"/>
<path class="c5" d="M2278 2405L2356 2405L2356 2418L2278 2418Z"/>
<path class="c6" d="M2356 2405L2369 2405L2369 2418L2356 2418Z"/>
<path class="c7" d="M2369 2405L2395 2405L2395 2418L2369 2418Z"/>
<path class="c7" d="M2239 2418L2252 2418L2252 2431L2239 2431Z"/>
<path class="c5" d="M2252 2418L2291 2418L2291 2431L2252 2431Z"/>
<path class="c3" d="M2291 2418L2304 2418L2304 2431L2291 2431Z"/>
<path class="c5" d="M2304 2418L2343 2418L2343 2431L2304 2431Z"/>
<path class="c6" d="M2343 2418L2369 2418L2369 2431L2343 2431Z"/>
<path class="c7" d="M2161 2431L2200 2431L2200 2444L2161 2444Z"/>
<path class="c6" d="M2200 2431L2213 2431L2213 2444L2200 2444Z"/>
<path class="c7" d="M2213 2431L2226 2431L2226 2444L2213 2444Z"/>
<path class="c6" d="M2226 2431L2239 2431L2239 2444L2226 2444Z"/>
<path class="c5" d="M2239 2431L2265 2431L2265 2444L2239 2444Z"/>
<path class="c3" d="M2265 2431L2343 2431L2343 2444L2265 2444Z"/>
<path class="c5" d="M2343 2431L2356 2431L2356 2444L2343 2444Z"/>
<path class="c5" d="M2148 2444L2174 2444L2174 2457L2148 2457Z"/>
<path class="c4" d="M2174 2444L2187 2444L2187 2457L2174 2457Z"/>
<path class="c3" d="M2187 2444L2213 2444L2213 2457L2187 2457Z"/>
<path class="c5" d="M2213 2444L2252 2444L2252 2457L2213 2457Z"/>
<path class="c3" d="M2252 2444L2265 2444L2265 2457L2252 2457Z"/>
<path class="c5" d="M2265 2444L2278 2444L2278 2457L2265 2457Z"/>
<path class="c3" d="M2278 2444L2330 2444L2330 2457L2278 2457Z"/>
<path class="c5" d="M2330 2444L2343 2444L2343 2457L2330 2457Z"/>
<path class="c7" d="M2343 2444L2356 2444L2356 2457L2343 2457Z"/>
<path class="c4" d="M2356 2444L2369 2444L2369 2457L2356 2457Z"/>
<path class="c4" d="M2135 2457L2148 2457L2148 2483L2135 2483Z"/>
<path class="c5" d="M2148 2457L2161 2457L2161 2470L2148 2470Z"/>
<path class="c3" d="M2161 2457L2200 2457L2200 2470L2161 2470Z"/>
<path class="c4" d="M2200 2457L2213 2457L2213 2470L2200 2470Z"/>
<path class="c3" d="M2213 2457L2239 2457L2239 2470L2213 2470Z"/>
<path class="c4" d="M2239 2457L2252 2457L2252 2470L2239 2470Z"/>
<path class="c3" d="M2252 2457L2317 2457L2317 2470L2252 2470Z"/>
<path class="c5" d="M2317 2457L2330 2457L2330 2470L2317 2470Z"/>
<path class="c3" d="M2148 2470L2317 2470L2317 2496L2148 2496Z"/>
<path class="c5" d="M2148 2496L2161 2496L2161 2509L2148 2509Z"/>
<path class="c3" d="M2161 2496L2187 2496L2187 2509L2161 2509Z"/>
<path class="c4" d="M2187 2496L2200 2496L2200 2509L2187 2509Z"/>
<path class="c3" d="M2200 2496L2291 2496L2291 2509L2200 2509Z"/>
<path class="c5" d="M2291 2496L2304 2496L2304 2509L2291 2509Z"/>
<path class="c3" d="M2174 2509L2291 2509L2291 2522L2174 2522Z"/>
<path class="c4" d="M2213 2509L2239 2509L2239 2522L2213 2522Z"/>
<path class="c3" d="M2174 2522L2278 2522L2278 2535L2174 2535Z"/>
<path class="c3" d="M2174 2535L2213 2535L2213 2548L2174 2548Z"/>
<path class="c4" d="M2226 2535L2239 2535L2239 2548L2226 2548Z"/>
<path class="c4" d="M2252 2535L2278 2535L2278 2548L2252 2548Z"/>
<path class="c3" d="M2187 2548L2226 2548L2226 2561L2187 2561Z"/>
<path class="c4" d="M2200 2561L2213 2561L2213 2574L2200 2574Z"/>
<path class="ca" d="M2109 2470L2148 2470L2148 2600L2109 2600Z"/>
<path class="c4" d="M2343 2496L2356 2496L2356 2509L2343 2509Z"/>
<path class="ca" d="M2356 2457L2382 2457L2382 2509L2356 2509Z"/>
<path class="c8" d="M2083 2431L2096 2431L2096 2444L2083 2444Z"/>
<path class="c6" d="M2070 2444L2083 2444L2083 2457L2070 2457Z"/>
<path class="c8" d="M2083 2444L2096 2444L2096 2457L2083 2457Z"/>
<path class="c8" d="M2083 2457L2096 2457L2096 2470L2083 2470Z"/>
<path class="c7" d="M2096 2457L2109 2457L2109 2470L2096 2470Z"/>
<path class="c9" d="M2070 2470L2083 2470L2083 2483L2070 2483Z"/>
<path class="c8" d="M2083 2470L2096 2470L2096 2483L2083 2483Z"/>
<path class="c5" d="M2096 2470L2109 2470L2109 2483L2096 2483Z"/>
<path class="c8" d="M2057 2483L2070 2483L2070 2496L2057 2496Z"/>
<path class="c6" d="M2070 2483L2083 2483L2083 2496L2070 2496Z"/>
<path class="c5" d="M2083 2483L2096 2483L2096 2509L2083 2509Z"/>
<path class="c7" d="M2044 2496L2070 2496L2070 2509L2044 2509Z"/>
<path class="c8" d="M2057 2509L2070 2509L2070 2522L2057 2522Z"/>
<path class="c7" d="M2044 2509L2057 2509L2057 2522L2044 2522Z"/>
<path class="c5" d="M2070 2509L2083 2509L2083 2522L2070 2522Z"/>
<path class="c6" d="M2083 2509L2096 2509L2096 2535L2083 2535Z"/>
<path class="c6" d="M2031 2522L2044 2522L2044 2535L2031 2535Z"/>
<path class="c5" d="M2057 2522L2083 2522L2083 2535L2057 2535Z"/>
<path class="c4" d="M1992 2509L2005 2509L2005 2522L1992 2522Z"/>
<path class="c5" d="M1979 2522L1992 2522L1992 2535L1979 2535Z"/>
<path class="c4" d="M1966 2535L2018 2535L2018 2548L1966 2548Z"/>
<path class="c3" d="M2018 2535L2096 2535L2096 2574L2018 2574Z"/>
<path class="c4" d="M2044 2548L2057 2548L2057 2561L2044 2561Z"/>
<path class="c4" d="M2070 2535L2083 2535L2083 2561L2070 2561Z"/>
<path class="c7" d="M1953 2522L1953 2522L1953 2535L1953 2535Z"/>
<path class="c4" d="M2421 2418L2434 2418L2434 2431L2421 2431Z"/>
<path class="c4" d="M2434 2431L2447 2431L2447 2444L2434 2444Z"/>
<path class="c3" d="M2395 2444L2447 2444L2447 2470L2395 2470Z"/>
<path class="c4" d="M2382 2470L2421 2470L2421 2483L2382 2483Z"/>
<path class="ca" d="M2382 2483L2421 2483L2421 2496L2382 2496Z"/>
<path class="c4" d="M2785 2340L2824 2340L2824 2353L2785 2353Z"/>
<path class="c4" d="M2811 2353L2824 2353L2824 2366L2811 2366Z"/>
<path class="c3" d="M2785 2353L2811 2353L2811 2379L2785 2379Z"/>
<path class="c4" d="M2798 2379L2837 2379L2837 2418L2798 2418Z"/>
<path class="c3" d="M2837 2379L2863 2379L2863 2418L2837 2418Z"/>
<path class="c4" d="M2850 2392L2863 2392L2863 2405L2850 2405Z"/>
<path class="c3" d="M2746 2392L2798 2392L2798 2444L2746 2444Z"/>
<path class="c4" d="M2772 2431L2785 2431L2785 2444L2772 2444Z"/>
<path class="c3" d="M2785 2418L2837 2418L2837 2431L2785 2431Z"/>
<path class="ca" d="M2759 2301L2902 2301L2902 2314L2759 2314Z"/>
<path class="ca" d="M2603 2327L2629 2327L2629 2340L2603 2340Z"/>
<path class="ca" d="M2876 2288L2889 2288L2889 2301L2876 2301Z"/>
<path class="ca" d="M2798 2132L2811 2132L2811 2145L2798 2145Z"/>
<path class="ca" d="M2863 2184L2876 2184L2876 2197L2863 2197Z"/>
<path class="ca" d="M2954 117L3058 104L3123 104L3188 104L3188 117L3123 143L3097 182L3058 195L3019 182L2954 130Z"/>
<path class="c4" d="M3032 143L3045 143L3045 169L3032 169Z"/>
<path class="c4" d="M3058 156L3071 156L3071 169L3058 169Z"/>
<path class="c4" d="M3110 130L3123 130L3123 143L3110 143Z"/>
<path class="cd" d="M2928 325L2954 299L2993 273L3019 247L3058 208L3071 195L3097 182L3123 169L3136 156L3149 143L3162 130L3175 117L3214 117L3214 143L3188 156L3162 169L3136 195L3123 221L3110 247L3097 273L3071 312L3058 338L3032 364L3006 377L2967 377L2928 377Z"/>
<path class="cb" d="M3097 182L3162 182L3162 221L3136 247L3123 286L3097 286L3110 247L3123 221Z"/>
<path class="c6" d="M3175 117L3214 117L3214 143L3175 143Z"/>
<path class="c5" d="M3188 117L3201 117L3201 130L3188 130Z"/>
<path class="c7" d="M3162 130L3175 130L3175 156L3162 156Z"/>
<path class="c7" d="M3149 143L3162 143L3162 169L3149 169Z"/>
<path class="c7" d="M3136 156L3149 156L3149 182L3136 182Z"/>
<path class="c7" d="M3123 169L3136 169L3136 182L3123 182Z"/>
<path class="c5" d="M3097 182L3123 182L3123 208L3097 208Z"/>
<path class="c6" d="M3071 195L3097 195L3097 221L3071 221Z"/>
<path class="c6" d="M3058 208L3084 208L3084 234L3058 234Z"/>
<path class="c6" d="M3032 234L3084 234L3084 260L3032 260Z"/>
<path class="c6" d="M3019 247L3084 247L3084 273L3019 273Z"/>
<path class="c6" d="M3006 260L3058 260L3058 273L3006 273Z"/>
<path class="c9" d="M2993 273L3019 273L3019 286L2993 286Z"/>
<path class="c8" d="M3019 273L3032 273L3032 286L3019 286Z"/>
<path class="c8" d="M2967 286L2980 286L2980 299L2967 299Z"/>
<path class="c9" d="M2980 286L3006 286L3006 299L2980 299Z"/>
<path class="c8" d="M3006 286L3019 286L3019 299L3006 299Z"/>
<path class="c8" d="M2954 299L2967 299L2967 312L2954 312Z"/>
<path class="c9" d="M2967 299L2993 299L2993 312L2967 312Z"/>
<path class="c8" d="M2993 299L3019 299L3019 312L2993 312Z"/>
<path class="c7" d="M3019 286L3058 286L3058 312L3019 312Z"/>
<path class="c9" d="M2941 312L2993 312L2993 325L2941 325Z"/>
<path class="c7" d="M2993 312L3045 312L3045 325L2993 325Z"/>
<path class="c8" d="M2928 325L2967 325L2967 338L2928 338Z"/>
<path class="c7" d="M2967 325L2993 325L2993 338L2967 338Z"/>
<path class="c6" d="M2993 325L3032 325L3032 338L2993 338Z"/>
<path class="c8" d="M2928 338L2941 338L2941 351L2928 351Z"/>
<path class="c7" d="M2941 338L2980 338L2980 351L2941 351Z"/>
<path class="c5" d="M2980 338L3032 338L3032 351L2980 351Z"/>
<path class="c7" d="M2928 351L2967 351L2967 364L2928 364Z"/>
<path class="c5" d="M2967 351L2993 351L2993 364L2967 364Z"/>
<path class="c4" d="M2928 364L2954 364L2954 377L2928 377Z"/>
<path class="cb" d="M3214 338L3344 338L3344 390L3318 390L3279 429L3240 429L3214 390Z"/>
<path class="c4" d="M3253 364L3279 364L3279 390L3253 390Z"/>
<path class="c4" d="M3279 351L3305 351L3305 364L3279 364Z"/>
<path class="c4" d="M3305 364L3331 364L3331 390L3305 390Z"/>
<path class="c5" d="M3253 403L3279 403L3279 416L3253 416Z"/>
<path class="c4" d="M3240 390L3253 390L3253 416L3240 416Z"/>
<path class="c4" d="M3214 390L3227 390L3227 403L3214 403Z"/>
<path class="cb" d="M2980 507L3032 481L3058 442L3110 429L3214 429L3214 494L3162 481L3123 494L3097 507L3032 520L2980 520Z"/>
<path class="c6" d="M3058 442L3097 442L3097 481L3058 481Z"/>
<path class="c5" d="M3097 429L3136 429L3136 468L3097 468Z"/>
<path class="c5" d="M3136 429L3201 429L3201 468L3136 468Z"/>
<path class="c6" d="M3123 442L3162 442L3162 455L3123 455Z"/>
<path class="c6" d="M3032 481L3071 481L3071 494L3032 494Z"/>
<path class="c5" d="M3006 494L3032 494L3032 507L3006 507Z"/>
<path class="c3" d="M2980 507L3006 507L3006 520L2980 520Z"/>
<path class="c4" d="M3162 468L3175 468L3175 481L3162 481Z"/>
<path class="c4" d="M3201 481L3214 481L3214 494L3201 494Z"/>
<path class="c4" d="M3084 481L3097 481L3097 494L3084 494Z"/>
<path class="c5" d="M3097 468L3123 468L3123 481L3097 481Z"/>
<path class="ca" d="M3760 299L3799 299L3799 416L3760 416Z"/>
<path class="ca" d="M3097 533L3149 533L3149 559L3097 559Z"/>
<path class="cb" d="M3292 624L3448 624L3448 663L3292 663Z"/>
<path class="c4" d="M3305 637L3331 637L3331 650L3305 650Z"/>
<path class="c4" d="M3396 637L3422 637L3422 650L3396 650Z"/>
<path class="ce" d="M3201 702L3201 676L3253 663L3526 663L3526 702Z"/>
<path class="c8" d="M3279 676L3357 676L3357 702L3279 702Z"/>
<path class="c7" d="M3318 650L3435 650L3435 676L3318 676Z"/>
<path class="c5" d="M3396 663L3435 663L3435 676L3396 676Z"/>
<path class="c5" d="M3227 663L3279 663L3279 676L3227 676Z"/>
<path class="cc" d="M3539 702L3539 676L3565 637L3578 624L3604 611L3643 611L3643 702Z"/>
<path class="c6" d="M3565 637L3591 637L3591 663L3565 663Z"/>
<path class="c7" d="M3578 650L3604 650L3604 663L3578 663Z"/>
<path class="c8" d="M3604 676L3630 676L3630 689L3604 689Z"/>
<path class="c6" d="M3552 663L3630 663L3630 702L3552 702Z"/>
<path class="c7" d="M3565 676L3604 676L3604 702L3565 702Z"/>
<path class="c8" d="M3578 689L3604 689L3604 702L3578 702Z"/>
<path class="cb" d="M2928 702L3110 702L3110 741L2928 741Z"/>
<path class="c5" d="M3110 702L3149 702L3149 715L3110 715Z"/>
<path class="c7" d="M3149 702L3227 702L3227 715L3149 715Z"/>
<path class="c8" d="M3227 702L3383 702L3383 715L3227 715Z"/>
<path class="c7" d="M3383 702L3422 702L3422 715L3383 715Z"/>
<path class="c8" d="M3422 702L3461 702L3461 715L3422 715Z"/>
<path class="c9" d="M3461 702L3500 702L3500 715L3461 715Z"/>
<path class="c7" d="M3500 702L3513 702L3513 715L3500 715Z"/>
<path class="c5" d="M3513 702L3539 702L3539 715L3513 715Z"/>
<path class="c7" d="M3539 702L3552 702L3552 715L3539 715Z"/>
<path class="c8" d="M3552 702L3604 702L3604 715L3552 715Z"/>
<path class="c4" d="M2993 715L3097 715L3097 728L2993 728Z"/>
<path class="c8" d="M3110 715L3175 715L3175 728L3110 728Z"/>
<path class="c9" d="M3175 715L3188 715L3188 728L3175 728Z"/>
<path class="c8" d="M3188 715L3201 715L3201 728L3188 728Z"/>
<path class="c9" d="M3201 715L3305 715L3305 728L3201 728Z"/>
<path class="c8" d="M3305 715L3448 715L3448 728L3305 728Z"/>
<path class="c9" d="M3448 715L3474 715L3474 728L3448 728Z"/>
<path class="c8" d="M3474 715L3487 715L3487 728L3474 728Z"/>
<path class="c9" d="M3487 715L3513 715L3513 728L3487 728Z"/>
<path class="c8" d="M3513 715L3552 715L3552 728L3513 728Z"/>
<path class="c9" d="M3552 715L3565 715L3565 728L3552 728Z"/>
<path class="c8" d="M3565 715L3578 715L3578 728L3565 728Z"/>
<path class="c4" d="M2954 728L2993 728L2993 741L2954 741Z"/>
<path class="c5" d="M3058 728L3084 728L3084 741L3058 741Z"/>
<path class="c7" d="M3084 728L3097 728L3097 741L3084 741Z"/>
<path class="c8" d="M3097 728L3123 728L3123 741L3097 741Z"/>
<path class="c9" d="M3123 728L3448 728L3448 741L3123 741Z"/>
<path class="c8" d="M3474 728L3500 728L3500 741L3474 741Z"/>
<path class="c9" d="M3513 728L3539 728L3539 741L3513 741Z"/>
<path class="c8" d="M3539 728L3552 728L3552 741L3539 741Z"/>
<path class="c9" d="M3552 728L3565 728L3565 741L3552 741Z"/>
<path class="c5" d="M2928 741L2941 741L2941 754L2928 754Z"/>
<path class="c3" d="M2941 741L2967 741L2967 754L2941 754Z"/>
<path class="c5" d="M2967 741L2993 741L2993 754L2967 754Z"/>
<path class="c4" d="M2993 741L3019 741L3019 754L2993 754Z"/>
<path class="c5" d="M3019 741L3045 741L3045 754L3019 754Z"/>
<path class="c6" d="M3045 741L3058 741L3058 754L3045 754Z"/>
<path class="c5" d="M3058 741L3071 741L3071 754L3058 754Z"/>
<path class="c7" d="M3071 741L3097 741L3097 754L3071 754Z"/>
<path class="c8" d="M3097 741L3162 741L3162 754L3097 754Z"/>
<path class="c9" d="M3162 741L3188 741L3188 754L3162 754Z"/>
<path class="c8" d="M3188 741L3201 741L3201 754L3188 754Z"/>
<path class="c9" d="M3201 741L3448 741L3448 754L3201 754Z"/>
<path class="c8" d="M3474 741L3487 741L3487 754L3474 754Z"/>
<path class="c9" d="M3487 741L3500 741L3500 754L3487 754Z"/>
<path class="c8" d="M3513 741L3539 741L3539 754L3513 754Z"/>
<path class="c9" d="M3539 741L3565 741L3565 754L3539 754Z"/>
<path class="c4" d="M2928 754L2941 754L2941 767L2928 767Z"/>
<path class="c5" d="M2954 754L2980 754L2980 767L2954 767Z"/>
<path class="c4" d="M2980 754L3019 754L3019 767L2980 767Z"/>
<path class="c6" d="M3019 754L3071 754L3071 767L3019 767Z"/>
<path class="c9" d="M3071 754L3383 754L3383 767L3071 767Z"/>
<path class="c9" d="M3474 754L3487 754L3487 767L3474 767Z"/>
<path class="c8" d="M3513 754L3526 754L3526 767L3513 767Z"/>
<path class="c9" d="M3539 754L3552 754L3552 767L3539 767Z"/>
<path class="c6" d="M2928 767L2967 767L2967 780L2928 780Z"/>
<path class="c5" d="M2967 767L2993 767L2993 780L2967 780Z"/>
<path class="c7" d="M2993 767L3045 767L3045 780L2993 780Z"/>
<path class="c9" d="M3045 767L3097 767L3097 780L3045 780Z"/>
<path class="c9" d="M3175 767L3279 767L3279 780L3175 780Z"/>
<path class="c8" d="M3279 767L3305 767L3305 780L3279 780Z"/>
<path class="c9" d="M3305 767L3357 767L3357 780L3305 780Z"/>
<path class="c9" d="M3513 767L3526 767L3526 780L3513 780Z"/>
<path class="c7" d="M3526 767L3539 767L3539 780L3526 780Z"/>
<path class="c7" d="M2928 780L2954 780L2954 793L2928 793Z"/>
<path class="c6" d="M2954 780L2993 780L2993 793L2954 793Z"/>
<path class="c8" d="M2993 780L3019 780L3019 793L2993 793Z"/>
<path class="c9" d="M3019 780L3071 780L3071 793L3019 793Z"/>
<path class="c9" d="M3175 780L3344 780L3344 793L3175 793Z"/>
<path class="c9" d="M3513 780L3526 780L3526 793L3513 793Z"/>
<path class="c8" d="M3526 780L3539 780L3539 793L3526 793Z"/>
<path class="c7" d="M2928 793L2954 793L2954 806L2928 806Z"/>
<path class="c8" d="M2954 793L2980 793L2980 806L2954 806Z"/>
<path class="c9" d="M3006 793L3019 793L3019 806L3006 806Z"/>
<path class="c9" d="M3201 793L3292 793L3292 806L3201 806Z"/>
<path class="c9" d="M3305 793L3344 793L3344 806L3305 806Z"/>
<path class="c8" d="M2928 806L2967 806L2967 819L2928 819Z"/>
<path class="c9" d="M2967 806L2993 806L2993 819L2967 819Z"/>
<path class="c9" d="M3058 806L3084 806L3084 832L3058 832Z"/>
<path class="c9" d="M3240 806L3279 806L3279 819L3240 819Z"/>
<path class="c9" d="M3318 806L3331 806L3331 819L3318 819Z"/>
<path class="c9" d="M2928 819L2993 819L2993 832L2928 832Z"/>
<path class="c9" d="M2967 832L3006 832L3006 845L2967 845Z"/>
<path class="c9" d="M2993 845L3006 845L3006 858L2993 858Z"/>
<path class="c8" d="M2993 871L3019 871L3019 884L2993 884Z"/>
<path class="c6" d="M3006 884L3045 884L3045 897L3006 897Z"/>
<path class="c9" d="M3539 975L3552 975L3552 1001L3539 1001Z"/>
<path class="c9" d="M3526 1001L3552 1001L3552 1014L3526 1014Z"/>
<path class="c9" d="M3526 1014L3539 1014L3539 1040L3526 1040Z"/>
<path class="c7" d="M3539 1014L3552 1014L3552 1027L3539 1027Z"/>
<path class="c8" d="M3539 1027L3552 1027L3552 1040L3539 1040Z"/>
<path class="c5" d="M3552 1027L3565 1027L3565 1040L3552 1040Z"/>
<path class="c9" d="M3539 1040L3552 1040L3552 1053L3539 1053Z"/>
<path class="c8" d="M3552 1040L3565 1040L3565 1053L3552 1053Z"/>
<path class="c9" d="M3552 1053L3565 1053L3565 1066L3552 1066Z"/>
<path class="ca" d="M3669 884L3695 884L3695 949L3669 949Z"/>
<path class="ca" d="M3578 962L3630 962L3630 1027L3591 1027Z"/>
<path class="ca" d="M3734 819L3760 819L3760 845L3734 845Z"/>
<path class="ca" d="M3786 806L3905 728L3905 754L3812 806Z"/>
<path class="c4" d="M3812 975L3838 975L3838 988L3812 988Z"/>
<path class="c4" d="M3890 1027L3905 1027L3905 1040L3890 1040Z"/>
<path class="c6" d="M3773 1053L3786 1053L3786 1066L3773 1066Z"/>
<path class="ca" d="M3799 1066L3812 1066L3812 1079L3799 1079Z"/>
<path class="ca" d="M3877 1079L3890 1079L3890 1092L3877 1092Z"/>
<path class="c9" d="M3786 1105L3799 1105L3799 1118L3786 1118Z"/>
<path class="c3" d="M3799 1105L3812 1105L3812 1118L3799 1118Z"/>
<path class="c7" d="M3799 1118L3812 1118L3812 1131L3799 1131Z"/>
<path class="c8" d="M3825 1131L3838 1131L3838 1144L3825 1144Z"/>
<path class="c7" d="M3838 1131L3851 1131L3851 1157L3838 1157Z"/>
<path class="c6" d="M3825 1144L3838 1144L3838 1157L3825 1157Z"/>
<path class="c6" d="M3851 1144L3864 1144L3864 1157L3851 1157Z"/>
<path class="c4" d="M3851 1157L3890 1157L3890 1170L3851 1170Z"/>
<path class="ca" d="M3838 1157L3905 1157L3905 1183L3838 1183Z"/>
<path class="c3" d="M3825 1118L3838 1118L3838 1131L3825 1131Z"/>
<path class="ca" d="M3721 1209L3877 1196L3905 1196L3905 1326L3838 1326L3721 1300Z"/>
<path class="c9" d="M3656 1170L3682 1170L3682 1196L3656 1196Z"/>
<path class="c5" d="M3669 1170L3682 1170L3682 1183L3669 1183Z"/>
<path class="c8" d="M3682 1183L3695 1183L3695 1196L3682 1196Z"/>
<path class="c3" d="M3695 1183L3708 1183L3708 1196L3695 1196Z"/>
<path class="c9" d="M3682 1196L3708 1196L3708 1209L3682 1209Z"/>
<path class="c6" d="M3708 1196L3721 1196L3721 1222L3708 1222Z"/>
<path class="c5" d="M3721 1196L3734 1196L3734 1209L3721 1209Z"/>
<path class="c9" d="M3695 1209L3708 1209L3708 1222L3695 1222Z"/>
<path class="c9" d="M3708 1222L3721 1222L3721 1235L3708 1235Z"/>
<path class="c8" d="M3721 1235L3734 1235L3734 1248L3721 1248Z"/>
<path class="c6" d="M3734 1235L3747 1235L3747 1248L3734 1248Z"/>
<path class="c9" d="M3721 1248L3734 1248L3734 1261L3721 1261Z"/>
<path class="c6" d="M3734 1248L3747 1248L3747 1274L3734 1274Z"/>
<path class="c8" d="M3747 1248L3760 1248L3760 1274L3747 1274Z"/>
<path class="c6" d="M3760 1248L3773 1248L3773 1261L3760 1261Z"/>
<path class="c5" d="M3773 1248L3786 1248L3786 1261L3773 1261Z"/>
<path class="c8" d="M3773 1261L3786 1261L3786 1274L3773 1274Z"/>
<path class="c7" d="M3786 1261L3799 1261L3799 1274L3786 1274Z"/>
<path class="c6" d="M3799 1261L3825 1261L3825 1274L3799 1274Z"/>
<path class="c5" d="M3825 1261L3838 1261L3838 1274L3825 1274Z"/>
<path class="c7" d="M3695 1274L3708 1274L3708 1287L3695 1287Z"/>
<path class="c5" d="M3708 1274L3721 1274L3721 1287L3708 1287Z"/>
<path class="c6" d="M3734 1274L3747 1274L3747 1287L3734 1287Z"/>
<path class="c5" d="M3747 1274L3760 1274L3760 1287L3747 1287Z"/>
<path class="c7" d="M3760 1274L3773 1274L3773 1287L3760 1287Z"/>
<path class="c5" d="M3773 1274L3825 1274L3825 1287L3773 1287Z"/>
<path class="c4" d="M3825 1274L3851 1274L3851 1287L3825 1287Z"/>
<path class="c5" d="M3799 1287L3812 1287L3812 1300L3799 1300Z"/>
<path class="c6" d="M3812 1287L3825 1287L3825 1300L3812 1300Z"/>
<path class="c4" d="M3734 1287L3747 1287L3747 1300L3734 1300Z"/>
<path class="c3" d="M3747 1261L3760 1261L3760 1248L3747 1248Z"/>
<path class="c5" d="M3799 1235L3812 1235L3812 1248L3799 1248Z"/>
<path class="c7" d="M3864 1222L3877 1222L3877 1235L3864 1235Z"/>
<path class="c5" d="M3877 1222L3890 1222L3890 1235L3877 1235Z"/>
<path class="c4" d="M3877 1196L3890 1196L3890 1209L3877 1209Z"/>
<path class="c4" d="M3747 1209L3760 1209L3760 1222L3747 1222Z"/>
<path class="c4" d="M3695 1326L3708 1326L3708 1339L3695 1339Z"/>
<path class="c9" d="M3422 1313L3435 1313L3435 1339L3422 1339Z"/>
<path class="c9" d="M3435 1326L3448 1326L3448 1339L3435 1339Z"/>
<path class="c8" d="M3435 1339L3448 1339L3448 1352L3435 1352Z"/>
<path class="c6" d="M3448 1339L3461 1339L3461 1352L3448 1352Z"/>
<path class="c8" d="M3461 1352L3474 1352L3474 1365L3461 1365Z"/>
<path class="c9" d="M3474 1365L3487 1365L3487 1378L3474 1378Z"/>
<path class="c8" d="M3487 1378L3500 1378L3500 1391L3487 1391Z"/>
<path class="c8" d="M3500 1365L3513 1365L3513 1378L3500 1378Z"/>
<path class="c8" d="M3513 1352L3526 1352L3526 1365L3513 1365Z"/>
<path class="c4" d="M3526 1352L3539 1352L3539 1365L3526 1365Z"/>
<path class="c6" d="M3539 1352L3565 1352L3565 1365L3539 1365Z"/>
<path class="c3" d="M3565 1352L3578 1352L3578 1365L3565 1365Z"/>
<path class="c3" d="M3513 1365L3526 1365L3526 1378L3513 1378Z"/>
<path class="c8" d="M3487 1313L3500 1313L3500 1326L3487 1326Z"/>
<path class="c7" d="M3500 1313L3526 1313L3526 1326L3500 1326Z"/>
<path class="c6" d="M3526 1313L3539 1313L3539 1326L3526 1326Z"/>
<path class="c5" d="M3539 1313L3552 1313L3552 1326L3539 1326Z"/>
<path class="c3" d="M3552 1313L3565 1313L3565 1326L3552 1326Z"/>
<path class="ca" d="M3565 1313L3617 1313L3617 1365L3565 1365Z"/>
<path class="ca" d="M3526 1365L3565 1365L3565 1391L3526 1391Z"/>
<path class="c9" d="M3422 1404L3448 1404L3448 1417L3422 1417Z"/>
<path class="c6" d="M3448 1404L3461 1404L3461 1417L3448 1417Z"/>
<path class="c9" d="M3422 1417L3435 1417L3435 1443L3422 1443Z"/>
<path class="c9" d="M3435 1443L3448 1443L3448 1456L3435 1456Z"/>
<path class="c9" d="M3422 1456L3435 1456L3435 1469L3422 1469Z"/>
<path class="c9" d="M3409 1469L3422 1469L3422 1495L3409 1495Z"/>
<path class="c5" d="M3422 1482L3435 1482L3435 1495L3422 1495Z"/>
<path class="c9" d="M3448 1495L3461 1495L3461 1521L3448 1521Z"/>
<path class="c9" d="M3461 1508L3474 1508L3474 1534L3461 1534Z"/>
<path class="c8" d="M3474 1521L3487 1521L3487 1534L3474 1534Z"/>
<path class="c3" d="M3474 1508L3487 1508L3487 1521L3474 1521Z"/>
<path class="c9" d="M3474 1534L3500 1534L3500 1547L3474 1547Z"/>
<path class="c7" d="M3539 1495L3552 1495L3552 1508L3539 1508Z"/>
<path class="c9" d="M3552 1508L3565 1508L3565 1521L3552 1521Z"/>
<path class="cb" d="M3630 1456L3838 1456L3838 1508L3812 1508L3812 1521L3656 1521L3630 1482Z"/>
<path class="c9" d="M3591 1495L3630 1495L3630 1508L3591 1508Z"/>
<path class="c5" d="M3630 1495L3643 1495L3643 1508L3630 1508Z"/>
<path class="c9" d="M3643 1508L3656 1508L3656 1521L3643 1521Z"/>
<path class="c3" d="M3656 1508L3669 1508L3669 1521L3656 1521Z"/>
<path class="c9" d="M3656 1521L3695 1521L3695 1534L3656 1534Z"/>
<path class="c8" d="M3695 1521L3708 1521L3708 1534L3695 1534Z"/>
<path class="c4" d="M3708 1521L3721 1521L3721 1534L3708 1534Z"/>
<path class="c9" d="M3695 1534L3721 1534L3721 1547L3695 1547Z"/>
<path class="c8" d="M3721 1534L3734 1534L3734 1547L3721 1547Z"/>
<path class="c9" d="M3708 1547L3721 1547L3721 1560L3708 1560Z"/>
<path class="c3" d="M3721 1547L3734 1547L3734 1560L3721 1560Z"/>
<path class="c6" d="M3721 1560L3734 1560L3734 1573L3721 1573Z"/>
<path class="c7" d="M3760 1547L3773 1547L3773 1560L3760 1560Z"/>
<path class="c5" d="M3500 1560L3513 1560L3513 1573L3500 1573Z"/>
<path class="c3" d="M3474 1560L3487 1560L3487 1573L3474 1573Z"/>
<path class="c4" d="M3643 1443L3656 1443L3656 1456L3643 1456Z"/>
<path class="c5" d="M3721 1469L3734 1469L3734 1482L3721 1482Z"/>
<path class="c5" d="M3747 1482L3773 1482L3773 1495L3747 1495Z"/>
<path class="c5" d="M3773 1495L3812 1495L3812 1508L3773 1508Z"/>
<path class="c4" d="M3825 1521L3838 1521L3838 1534L3825 1534Z"/>
<path class="c3" d="M3812 1534L3825 1534L3825 1547L3812 1547Z"/>
<path class="c4" d="M3890 1430L3905 1430L3905 1443L3890 1443Z"/>
<path class="ca" d="M3851 1508L3890 1508L3890 1521L3851 1521Z"/>
<path class="ca" d="M3786 1404L3812 1404L3812 1417L3786 1417Z"/>
<path class="ca" d="M3851 1417L3877 1417L3877 1430L3851 1430Z"/>
<path class="ca" d="M3539 1404L3552 1404L3552 1417L3539 1417Z"/>
<path class="c8" d="M3292 1586L3305 1586L3305 1599L3292 1599Z"/>
<path class="c7" d="M3292 1599L3305 1599L3305 1612L3292 1612Z"/>
<path class="c9" d="M3292 1612L3305 1612L3305 1625L3292 1625Z"/>
<path class="c7" d="M3279 1625L3292 1625L3292 1638L3279 1638Z"/>
<path class="c4" d="M3266 1638L3279 1638L3279 1651L3266 1651Z"/>
<path class="c4" d="M3318 1625L3331 1625L3331 1638L3318 1638Z"/>
<path class="c3" d="M3305 1638L3318 1638L3318 1651L3305 1651Z"/>
<path class="c4" d="M3292 1651L3305 1651L3305 1664L3292 1664Z"/>
<path class="ca" d="M3253 1651L3279 1651L3279 1690L3253 1690Z"/>
<path class="c8" d="M2928 1612L2954 1612L2954 1625L2928 1625Z"/>
<path class="c7" d="M2954 1612L2980 1612L2980 1625L2954 1625Z"/>
<path class="c9" d="M2967 1846L3019 1846L3019 1859L2967 1859Z"/>
<path class="c9" d="M2941 1859L2993 1859L2993 1872L2941 1872Z"/>
<path class="c9" d="M2928 1872L2967 1872L2967 1885L2928 1885Z"/>
<path class="c7" d="M2967 1872L2980 1872L2980 1885L2967 1885Z"/>
<path class="c5" d="M2980 1872L2993 1872L2993 1885L2980 1885Z"/>
<path class="c9" d="M2928 1885L2941 1885L2941 1898L2928 1898Z"/>
<path class="c7" d="M2941 1885L2954 1885L2954 1898L2941 1898Z"/>
<path class="c5" d="M2954 1885L2967 1885L2967 1898L2954 1898Z"/>
<path class="c6" d="M2980 1885L2993 1885L2993 1898L2980 1898Z"/>
<path class="c5" d="M2928 1898L2941 1898L2941 1911L2928 1911Z"/>
<path class="c8" d="M3045 1846L3058 1846L3058 1872L3045 1872Z"/>
<path class="c7" d="M3032 1859L3045 1859L3045 1872L3032 1872Z"/>
<path class="c8" d="M3032 1872L3045 1872L3045 1885L3032 1885Z"/>
<path class="c9" d="M3045 1872L3071 1872L3071 1885L3045 1885Z"/>
<path class="c9" d="M3058 1859L3071 1859L3071 1872L3058 1872Z"/>
<path class="c9" d="M3071 1846L3084 1846L3084 1859L3071 1859Z"/>
<path class="c9" d="M3084 1833L3097 1833L3097 1846L3084 1846Z"/>
<path class="c9" d="M3097 1846L3110 1846L3110 1859L3097 1859Z"/>
<path class="c9" d="M3110 1833L3123 1833L3123 1846L3110 1846Z"/>
<path class="c7" d="M3032 1950L3045 1950L3045 1963L3032 1963Z"/>
<path class="c8" d="M3045 1950L3058 1950L3058 1963L3045 1963Z"/>
<path class="c5" d="M3019 1963L3032 1963L3032 1976L3019 1976Z"/>
<path class="c5" d="M3045 1963L3058 1963L3058 1976L3045 1976Z"/>
<path class="c3" d="M3032 1976L3045 1976L3045 1989L3032 1989Z"/>
<path class="c4" d="M3045 1989L3058 1989L3058 2002L3045 2002Z"/>
<path class="c5" d="M2993 1976L3006 1976L3006 1989L2993 1989Z"/>
<path class="c3" d="M2980 1976L2993 1976L2993 2002L2980 2002Z"/>
<path class="c3" d="M2993 2002L3006 2002L3006 2015L2993 2015Z"/>
<path class="c3" d="M2980 2015L2993 2015L2993 2028L2980 2028Z"/>
<path class="c4" d="M2967 2028L2980 2028L2980 2054L2967 2054Z"/>
<path class="c4" d="M2954 2067L2967 2067L2967 2080L2954 2080Z"/>
<path class="c7" d="M3045 2067L3058 2067L3058 2080L3045 2080Z"/>
<path class="c4" d="M3058 2080L3071 2080L3071 2093L3058 2093Z"/>
<path class="c5" d="M3019 2093L3058 2093L3058 2106L3019 2106Z"/>
<path class="ca" d="M3058 2080L3084 2080L3084 2093L3058 2093Z"/>
<path class="c3" d="M3513 1963L3526 1963L3526 1976L3513 1976Z"/>
<path class="c8" d="M3513 1976L3526 1976L3526 1989L3513 1989Z"/>
<path class="c7" d="M3487 1989L3500 1989L3500 2002L3487 2002Z"/>
<path class="c8" d="M3500 1989L3513 1989L3513 2002L3500 2002Z"/>
<path class="c6" d="M3448 2002L3461 2002L3461 2015L3448 2015Z"/>
<path class="c7" d="M3461 2002L3487 2002L3487 2015L3461 2015Z"/>
<path class="c5" d="M3435 2015L3448 2015L3448 2028L3435 2028Z"/>
<path class="c6" d="M3448 2015L3461 2015L3461 2028L3448 2028Z"/>
<path class="c7" d="M3461 2015L3487 2015L3487 2028L3461 2028Z"/>
<path class="c8" d="M3487 2015L3513 2015L3513 2028L3487 2028Z"/>
<path class="c6" d="M3370 2028L3422 2028L3422 2041L3370 2041Z"/>
<path class="c7" d="M3422 2028L3487 2028L3487 2041L3422 2041Z"/>
<path class="c8" d="M3487 2028L3526 2028L3526 2041L3487 2041Z"/>
<path class="c9" d="M3526 2028L3539 2028L3539 2041L3526 2041Z"/>
<path class="c6" d="M3357 2041L3370 2041L3370 2054L3357 2054Z"/>
<path class="c7" d="M3370 2041L3487 2041L3487 2054L3370 2054Z"/>
<path class="c8" d="M3487 2041L3526 2041L3526 2054L3487 2054Z"/>
<path class="c9" d="M3526 2041L3552 2041L3552 2054L3526 2054Z"/>
<path class="c7" d="M3357 2054L3448 2054L3448 2067L3357 2067Z"/>
<path class="c7" d="M3461 2054L3487 2054L3487 2067L3461 2067Z"/>
<path class="c8" d="M3487 2054L3526 2054L3526 2067L3487 2067Z"/>
<path class="c9" d="M3526 2054L3539 2054L3539 2067L3526 2067Z"/>
<path class="c7" d="M3344 2067L3435 2067L3435 2080L3344 2080Z"/>
<path class="c7" d="M3448 2067L3500 2067L3500 2080L3448 2080Z"/>
<path class="c8" d="M3500 2067L3513 2067L3513 2080L3500 2080Z"/>
<path class="c7" d="M3357 2080L3396 2080L3396 2093L3357 2093Z"/>
<path class="c7" d="M3448 2080L3487 2080L3487 2093L3448 2093Z"/>
<path class="c8" d="M3487 2080L3500 2080L3500 2093L3487 2093Z"/>
<path class="c6" d="M3500 2080L3513 2080L3513 2093L3500 2093Z"/>
<path class="c7" d="M3305 2093L3318 2093L3318 2106L3305 2106Z"/>
<path class="c7" d="M3331 2093L3370 2093L3370 2106L3331 2106Z"/>
<path class="c7" d="M3383 2093L3487 2093L3487 2106L3383 2106Z"/>
<path class="c8" d="M3487 2093L3500 2093L3500 2106L3487 2106Z"/>
<path class="ca" d="M3552 2080L3578 2080L3578 2093L3552 2093Z"/>
<path class="ca" d="M3578 2054L3604 2054L3604 2067L3578 2067Z"/>
<path class="ca" d="M3643 2002L3695 2002L3695 2028L3643 2028Z"/>
<path class="ca" d="M3747 1885L3786 1885L3786 1950L3747 1950Z"/>
<path class="c4" d="M3838 2093L3851 2093L3851 2106L3838 2106Z"/>
<path class="ca" d="M2928 1781L2954 1781L2954 1794L2928 1794Z"/>
<path class="ca" d="M2993 1794L3006 1794L3006 1807L2993 1807Z"/>
<path class="ca" d="M3019 1820L3032 1820L3032 1833L3019 1833Z"/>
<path class="ca" d="M3240 2002L3253 2002L3253 2015L3240 2015Z"/>
<path class="ca" d="M3201 1612L3214 1612L3214 1625L3201 1625Z"/>
<path class="ca" d="M3331 1573L3344 1573L3344 1586L3331 1586Z"/>
<path class="ca" d="M3409 1586L3422 1586L3422 1599L3409 1599Z"/>
<path class="ca" d="M3890 2080L3905 2080L3905 2106L3890 2106Z"/>
<path class="cb" d="M3032 2405L3071 2366L3188 2405L3227 2353L3279 2353L3357 2340L3396 2340L3591 2340L3591 2431L3552 2444L3487 2470L3422 2483L3396 2522L3357 2535L3318 2535L3279 2548L3227 2535L3188 2509L3149 2509L3097 2509L3032 2509L2993 2470L3019 2418Z"/>
<path class="ca" d="M3032 2509L3227 2509L3279 2548L3357 2535L3357 2574L3279 2574L3149 2574L3058 2548Z"/>
<path class="c5" d="M3032 2405L3097 2405L3097 2431L3032 2431Z"/>
<path class="cc" d="M3097 2405L3188 2405L3188 2431L3097 2431Z"/>
<path class="c4" d="M3136 2431L3188 2431L3188 2457L3136 2457Z"/>
<path class="cc" d="M3071 2470L3188 2470L3188 2509L3071 2509Z"/>
<path class="c4" d="M3019 2483L3045 2483L3045 2496L3019 2496Z"/>
<path class="c4" d="M2993 2457L3019 2457L3019 2470L2993 2470Z"/>
<path class="c4" d="M3084 2444L3123 2444L3123 2457L3084 2457Z"/>
<path class="cc" d="M3253 2418L3305 2418L3305 2444L3253 2444Z"/>
<path class="c4" d="M3279 2444L3305 2444L3305 2470L3279 2470Z"/>
<path class="c5" d="M3292 2496L3344 2496L3344 2509L3292 2509Z"/>
<path class="c6" d="M3318 2496L3331 2496L3331 2509L3318 2509Z"/>
<path class="c4" d="M3383 2470L3422 2470L3422 2496L3383 2496Z"/>
<path class="c6" d="M3396 2496L3409 2496L3409 2509L3396 2509Z"/>
<path class="c4" d="M3305 2509L3357 2509L3357 2535L3305 2535Z"/>
<path class="c6" d="M3370 2509L3383 2509L3383 2522L3370 2522Z"/>
<path class="c4" d="M3279 2535L3292 2535L3292 2548L3279 2548Z"/>
<path class="cc" d="M3305 2366L3383 2366L3383 2379L3305 2379Z"/>
<path class="c4" d="M3357 2392L3383 2392L3383 2418L3357 2418Z"/>
<path class="c5" d="M3279 2379L3305 2379L3305 2405L3279 2405Z"/>
<path class="c4" d="M3292 2405L3318 2405L3318 2418L3292 2418Z"/>
<path class="c5" d="M3409 2379L3422 2379L3422 2392L3409 2392Z"/>
<path class="c4" d="M3396 2379L3409 2379L3409 2392L3396 2392Z"/>
<path class="cc" d="M3409 2353L3591 2353L3591 2366L3409 2366Z"/>
<path class="c5" d="M3461 2418L3500 2418L3500 2431L3461 2431Z"/>
<path class="c6" d="M3500 2405L3526 2405L3526 2431L3500 2431Z"/>
<path class="c6" d="M3526 2392L3539 2392L3539 2405L3526 2405Z"/>
<path class="c5" d="M3539 2379L3578 2379L3578 2418L3539 2418Z"/>
<path class="c6" d="M3435 2431L3448 2431L3448 2444L3435 2444Z"/>
<path class="c7" d="M3461 2431L3474 2431L3474 2444L3461 2444Z"/>
<path class="c6" d="M3422 2444L3435 2444L3435 2457L3422 2457Z"/>
<path class="c6" d="M3409 2457L3422 2457L3422 2470L3409 2470Z"/>
<path class="c4" d="M3487 2444L3513 2444L3513 2457L3487 2457Z"/>
<path class="c4" d="M3539 2431L3552 2431L3552 2444L3539 2444Z"/>
<path class="cc" d="M3448 2418L3461 2418L3461 2444L3448 2444Z"/>
<path class="c3" d="M3578 2340L3604 2340L3604 2366L3578 2366Z"/>
<path class="c5" d="M3591 2327L3604 2327L3604 2340L3591 2340Z"/>
<path class="cc" d="M3201 2392L3214 2392L3214 2418L3201 2418Z"/>
<path class="c3" d="M3188 2366L3227 2366L3227 2392L3188 2392Z"/>
<path class="c7" d="M3305 2106L3318 2106L3318 2119L3305 2119Z"/>
<path class="c7" d="M3331 2106L3357 2106L3357 2119L3331 2119Z"/>
<path class="c7" d="M3383 2106L3487 2106L3487 2106L3383 2106Z"/>
<path class="c8" d="M3487 2106L3500 2106L3500 2106L3487 2106Z"/>
<path class="c7" d="M3318 2106L3331 2106L3331 2119L3318 2119Z"/>
<path class="cc" d="M3370 2106L3500 2106L3500 2132L3487 2132L3487 2197L3383 2197L3383 2184L3370 2184L3370 2158L3344 2158L3344 2132L3370 2132Z"/>
<path class="c6" d="M3370 2106L3500 2106L3500 2184L3370 2184Z"/>
<path class="c7" d="M3370 2106L3396 2106L3396 2119L3370 2119Z"/>
<path class="c7" d="M3409 2106L3448 2106L3448 2119L3409 2119Z"/>
<path class="c7" d="M3461 2106L3474 2106L3474 2119L3461 2119Z"/>
<path class="c7" d="M3487 2106L3500 2106L3500 2132L3487 2132Z"/>
<path class="c7" d="M3383 2119L3396 2119L3396 2132L3383 2132Z"/>
<path class="c7" d="M3474 2119L3487 2119L3487 2132L3474 2132Z"/>
<path class="c7" d="M3344 2132L3383 2132L3383 2145L3344 2145Z"/>
<path class="c7" d="M3396 2132L3409 2132L3409 2145L3396 2145Z"/>
<path class="c5" d="M3422 2132L3435 2132L3435 2145L3422 2145Z"/>
<path class="c7" d="M3448 2132L3487 2132L3487 2184L3448 2184Z"/>
<path class="c7" d="M3331 2145L3370 2145L3370 2158L3331 2158Z"/>
<path class="c7" d="M3383 2145L3396 2145L3396 2158L3383 2158Z"/>
<path class="c7" d="M3435 2145L3448 2145L3448 2197L3435 2197Z"/>
<path class="c3" d="M3305 2119L3318 2119L3318 2145L3305 2145Z"/>
<path class="c7" d="M3305 2145L3318 2145L3318 2158L3305 2158Z"/>
<path class="c3" d="M3292 2158L3305 2158L3305 2171L3292 2171Z"/>
<path class="c6" d="M3331 2158L3344 2158L3344 2171L3331 2171Z"/>
<path class="c4" d="M3344 2158L3357 2158L3357 2171L3344 2171Z"/>
<path class="c3" d="M3370 2158L3383 2158L3383 2171L3370 2171Z"/>
<path class="c5" d="M3331 2171L3370 2171L3370 2184L3331 2184Z"/>
<path class="c7" d="M3370 2171L3409 2171L3409 2184L3370 2184Z"/>
<path class="c6" d="M3331 2184L3344 2184L3344 2197L3331 2197Z"/>
<path class="c3" d="M3344 2184L3357 2184L3357 2197L3344 2197Z"/>
<path class="c5" d="M3357 2184L3370 2184L3370 2197L3357 2197Z"/>
<path class="c3" d="M3370 2184L3383 2184L3383 2197L3370 2197Z"/>
<path class="c7" d="M3383 2184L3422 2184L3422 2197L3383 2197Z"/>
<path class="cw" d="M3422 2184L3435 2184L3435 2197L3422 2197Z"/>
<path class="c7" d="M3305 2197L3331 2197L3331 2210L3305 2210Z"/>
<path class="c5" d="M3383 2197L3409 2197L3409 2210L3383 2210Z"/>
<path class="c8" d="M3409 2197L3448 2197L3448 2210L3409 2210Z"/>
<path class="c7" d="M3448 2197L3461 2197L3461 2210L3448 2210Z"/>
<path class="c8" d="M3461 2197L3487 2197L3487 2210L3461 2210Z"/>
<path class="c6" d="M3396 2210L3422 2210L3422 2223L3396 2223Z"/>
<path class="c8" d="M3422 2210L3474 2210L3474 2223L3422 2223Z"/>
<path class="c6" d="M3396 2223L3409 2223L3409 2236L3396 2236Z"/>
<path class="c7" d="M3409 2223L3448 2223L3448 2236L3409 2236Z"/>
<path class="c8" d="M3448 2223L3474 2223L3474 2236L3448 2236Z"/>
<path class="c7" d="M3396 2236L3448 2236L3448 2249L3396 2249Z"/>
<path class="c8" d="M3448 2236L3461 2236L3461 2249L3448 2249Z"/>
<path class="c6" d="M3331 2249L3344 2249L3344 2262L3331 2262Z"/>
<path class="c8" d="M3344 2249L3357 2249L3357 2262L3344 2262Z"/>
<path class="c6" d="M3357 2249L3370 2249L3370 2262L3357 2262Z"/>
<path class="c5" d="M3383 2249L3396 2249L3396 2262L3383 2262Z"/>
<path class="c8" d="M3396 2249L3461 2249L3461 2262L3396 2262Z"/>
<path class="c8" d="M3331 2262L3344 2262L3344 2275L3331 2275Z"/>
<path class="c7" d="M3344 2262L3357 2262L3357 2275L3344 2275Z"/>
<path class="c8" d="M3383 2262L3396 2262L3396 2275L3383 2275Z"/>
<path class="c9" d="M3396 2262L3409 2262L3409 2275L3396 2275Z"/>
<path class="c7" d="M3409 2262L3422 2262L3422 2275L3409 2275Z"/>
<path class="c8" d="M3435 2262L3474 2262L3474 2275L3435 2275Z"/>
<path class="c7" d="M3331 2275L3344 2275L3344 2288L3331 2288Z"/>
<path class="c8" d="M3344 2275L3357 2275L3357 2288L3344 2288Z"/>
<path class="c9" d="M3370 2275L3383 2275L3383 2288L3370 2288Z"/>
<path class="c8" d="M3383 2275L3409 2275L3409 2288L3383 2288Z"/>
<path class="c8" d="M3448 2275L3474 2275L3474 2288L3448 2288Z"/>
<path class="c8" d="M3526 2275L3539 2275L3539 2288L3526 2288Z"/>
<path class="c9" d="M3539 2275L3552 2275L3552 2288L3539 2288Z"/>
<path class="c9" d="M3331 2288L3344 2288L3344 2301L3331 2301Z"/>
<path class="c9" d="M3370 2288L3383 2288L3383 2301L3370 2301Z"/>
<path class="c7" d="M3383 2288L3409 2288L3409 2301L3383 2301Z"/>
<path class="c8" d="M3422 2288L3448 2288L3448 2301L3422 2301Z"/>
<path class="c7" d="M3448 2288L3461 2288L3461 2301L3448 2301Z"/>
<path class="c8" d="M3461 2288L3552 2288L3552 2301L3461 2301Z"/>
<path class="c9" d="M3318 2301L3357 2301L3357 2314L3318 2314Z"/>
<path class="c7" d="M3396 2301L3409 2301L3409 2314L3396 2314Z"/>
<path class="c6" d="M3409 2301L3435 2301L3435 2314L3409 2314Z"/>
<path class="c7" d="M3435 2301L3448 2301L3448 2314L3435 2314Z"/>
<path class="c7" d="M3461 2301L3487 2301L3487 2314L3461 2314Z"/>
<path class="c8" d="M3487 2301L3500 2301L3500 2314L3487 2314Z"/>
<path class="c9" d="M3500 2301L3513 2301L3513 2314L3500 2314Z"/>
<path class="c8" d="M3513 2301L3539 2301L3539 2314L3513 2314Z"/>
<path class="c7" d="M3539 2301L3552 2301L3552 2314L3539 2314Z"/>
<path class="c9" d="M3318 2314L3331 2314L3331 2327L3318 2327Z"/>
<path class="c6" d="M3331 2314L3357 2314L3357 2327L3331 2327Z"/>
<path class="c7" d="M3409 2314L3435 2314L3435 2327L3409 2327Z"/>
<path class="c6" d="M3435 2314L3448 2314L3448 2327L3435 2327Z"/>
<path class="c7" d="M3448 2314L3487 2314L3487 2327L3448 2327Z"/>
<path class="c8" d="M3487 2314L3500 2314L3500 2327L3487 2327Z"/>
<path class="c7" d="M3500 2314L3513 2314L3513 2327L3500 2327Z"/>
<path class="c6" d="M3513 2314L3526 2314L3526 2327L3513 2327Z"/>
<path class="c7" d="M3526 2314L3565 2314L3565 2327L3526 2327Z"/>
<path class="c5" d="M3383 2327L3409 2327L3409 2340L3383 2340Z"/>
<path class="c7" d="M3409 2327L3435 2327L3435 2340L3409 2340Z"/>
<path class="c8" d="M3435 2327L3448 2327L3448 2340L3435 2340Z"/>
<path class="c7" d="M3448 2327L3487 2327L3487 2340L3448 2340Z"/>
<path class="c8" d="M3487 2327L3500 2327L3500 2340L3487 2340Z"/>
<path class="c6" d="M3500 2327L3513 2327L3513 2340L3500 2340Z"/>
<path class="c7" d="M3513 2327L3565 2327L3565 2340L3513 2340Z"/>
<path class="c6" d="M3565 2327L3578 2327L3578 2340L3565 2340Z"/>
<path class="c5" d="M3383 2340L3461 2340L3461 2353L3383 2353Z"/>
<path class="c7" d="M3461 2340L3474 2340L3474 2353L3461 2353Z"/>
<path class="c6" d="M3474 2340L3487 2340L3487 2353L3474 2353Z"/>
<path class="c5" d="M3487 2340L3552 2340L3552 2353L3487 2353Z"/>
<path class="c5" d="M3292 2340L3305 2340L3305 2366L3292 2366Z"/>
<path class="c3" d="M3305 2340L3331 2340L3331 2353L3305 2353Z"/>
<path class="c3" d="M3344 2340L3357 2340L3357 2353L3344 2353Z"/>
<path class="c8" d="M3084 2249L3123 2249L3123 2288L3084 2288Z"/>
<path class="c4" d="M3123 2249L3136 2249L3136 2262L3123 2262Z"/>
<path class="c8" d="M3123 2275L3188 2275L3188 2301L3123 2301Z"/>
<path class="c5" d="M3136 2262L3149 2262L3149 2275L3136 2275Z"/>
<path class="c3" d="M3110 2275L3123 2275L3123 2288L3110 2288Z"/>
<path class="c6" d="M3188 2288L3201 2288L3201 2301L3188 2301Z"/>
<path class="c8" d="M3162 2301L3175 2301L3175 2314L3162 2314Z"/>
<path class="c6" d="M3175 2301L3188 2301L3188 2314L3175 2314Z"/>
<path class="c8" d="M3045 2288L3058 2288L3058 2301L3045 2301Z"/>
<path class="c4" d="M3097 2301L3123 2301L3123 2314L3097 2314Z"/>
<path class="c7" d="M3084 2314L3097 2314L3097 2327L3084 2327Z"/>
<path class="c4" d="M3097 2314L3110 2314L3110 2327L3097 2327Z"/>
<path class="c6" d="M3110 2314L3123 2314L3123 2327L3110 2327Z"/>
<path class="c5" d="M3084 2327L3136 2327L3136 2353L3084 2353Z"/>
<path class="c7" d="M3110 2340L3136 2340L3136 2353L3110 2353Z"/>
<path class="c4" d="M3136 2327L3149 2327L3149 2340L3136 2340Z"/>
<path class="c8" d="M3162 2340L3188 2340L3188 2353L3162 2353Z"/>
<path class="c9" d="M3175 2340L3188 2340L3188 2366L3175 2366Z"/>
<path class="c8" d="M3136 2353L3175 2353L3175 2366L3136 2366Z"/>
<path class="c7" d="M3110 2353L3136 2353L3136 2366L3110 2366Z"/>
<path class="c9" d="M3175 2366L3201 2366L3201 2379L3175 2379Z"/>
<path class="c8" d="M3149 2366L3175 2366L3175 2392L3149 2392Z"/>
<path class="c6" d="M3084 2366L3110 2366L3110 2392L3084 2392Z"/>
<path class="c7" d="M3110 2366L3149 2366L3149 2392L3110 2392Z"/>
<path class="c7" d="M3123 2392L3136 2392L3136 2405L3123 2405Z"/>
<path class="c6" d="M3136 2392L3188 2392L3188 2405L3136 2405Z"/>
<path class="c5" d="M3071 2366L3084 2366L3084 2405L3071 2405Z"/>
<path class="c6" d="M3097 2392L3123 2392L3123 2405L3097 2405Z"/>
<path class="c8" d="M3214 2314L3227 2314L3227 2327L3214 2327Z"/>
<path class="c9" d="M3227 2314L3240 2314L3240 2327L3227 2327Z"/>
<path class="c9" d="M3214 2327L3253 2327L3253 2340L3214 2340Z"/>
<path class="c9" d="M3227 2340L3253 2340L3253 2366L3227 2366Z"/>
<path class="c7" d="M3253 2340L3266 2340L3266 2353L3253 2353Z"/>
<path class="c8" d="M3240 2353L3253 2353L3253 2366L3240 2366Z"/>
<path class="c7" d="M3253 2353L3279 2353L3279 2366L3253 2366Z"/>
<path class="c8" d="M3253 2301L3266 2301L3266 2314L3253 2314Z"/>
<path class="c9" d="M3266 2327L3305 2327L3305 2340L3266 2340Z"/>
<path class="c9" d="M3292 2314L3305 2314L3305 2327L3292 2327Z"/>
<path class="c8" d="M3305 2327L3318 2327L3318 2340L3305 2340Z"/>
<path class="c7" d="M3240 2366L3253 2366L3253 2379L3240 2379Z"/>
<path class="c6" d="M3240 2379L3279 2379L3279 2392L3240 2392Z"/>
<path class="c5" d="M3266 2366L3279 2366L3279 2379L3266 2379Z"/>
<path class="c3" d="M2980 2366L2993 2366L2993 2379L2980 2379Z"/>
<path class="c4" d="M2980 2379L3019 2379L3019 2392L2980 2392Z"/>
<path class="c4" d="M2980 2392L2993 2392L2993 2405L2980 2405Z"/>
<path class="c4" d="M3032 2262L3045 2262L3045 2275L3032 2275Z"/>
<path class="c4" d="M3019 2275L3045 2275L3045 2288L3019 2288Z"/>
<path class="c5" d="M3019 2106L3058 2106L3058 2106L3019 2106Z"/>
<path class="c8" d="M3032 2106L3045 2106L3045 2119L3032 2119Z"/>
<path class="c4" d="M3058 2132L3071 2132L3071 2145L3058 2145Z"/>
<path class="c9" d="M3071 2132L3084 2132L3084 2145L3071 2145Z"/>
<path class="c4" d="M3071 2171L3084 2171L3084 2197L3071 2197Z"/>
<path class="c4" d="M3058 2210L3071 2210L3071 2223L3058 2223Z"/>
<path class="c3" d="M3071 2236L3084 2236L3084 2249L3071 2249Z"/>
<path class="c5" d="M3136 2236L3149 2236L3149 2249L3136 2249Z"/>
<path class="c3" d="M3123 2210L3136 2210L3136 2223L3123 2223Z"/>
<path class="c8" d="M3825 2236L3851 2236L3851 2249L3825 2249Z"/>
<path class="c9" d="M3851 2236L3864 2236L3864 2249L3851 2249Z"/>
<path class="c8" d="M3838 2249L3877 2249L3877 2275L3838 2275Z"/>
<path class="c8" d="M3851 2275L3877 2275L3877 2288L3851 2288Z"/>
<path class="c8" d="M3864 2275L3905 2275L3905 2314L3864 2314Z"/>
<path class="c7" d="M3851 2275L3864 2275L3864 2288L3851 2288Z"/>
<path class="c8" d="M3877 2327L3905 2327L3905 2366L3877 2366Z"/>
<path class="c7" d="M3851 2340L3877 2340L3877 2379L3851 2379Z"/>
<path class="c7" d="M3825 2379L3877 2379L3877 2392L3825 2392Z"/>
<path class="c5" d="M3812 2366L3825 2366L3825 2379L3812 2379Z"/>
<path class="c5" d="M3799 2366L3812 2366L3812 2405L3799 2405Z"/>
<path class="c8" d="M3877 2366L3905 2366L3905 2379L3877 2379Z"/>
<path class="cb" d="M3695 2353L3708 2327L3734 2327L3734 2340L3799 2340L3799 2444L3786 2457L3708 2457L3695 2431Z"/>
<path class="c4" d="M3708 2327L3734 2327L3734 2353L3708 2353Z"/>
<path class="cc" d="M3747 2353L3786 2353L3786 2431L3747 2431Z"/>
<path class="c4" d="M3786 2431L3799 2431L3799 2444L3786 2444Z"/>
<path class="c3" d="M3799 2327L3812 2327L3812 2340L3799 2340Z"/>
<path class="c4" d="M3786 2340L3799 2340L3799 2353L3786 2353Z"/>
<path class="c5" d="M3812 2418L3825 2418L3825 2431L3812 2431Z"/>
<path class="c5" d="M3838 2392L3905 2392L3905 2405L3838 2405Z"/>
<path class="cb" d="M3812 2405L3905 2405L3905 2418L3812 2418Z"/>
<path class="c4" d="M3851 2431L3864 2431L3864 2444L3851 2444Z"/>
<path class="ca" d="M3825 2418L3905 2418L3905 2457L3825 2457Z"/>
<path class="c6" d="M3890 2158L3905 2158L3905 2171L3890 2171Z"/>
<path class="c3" d="M3890 2171L3905 2171L3905 2184L3890 2184Z"/>
<path class="c3" d="M3864 2184L3877 2184L3877 2210L3864 2210Z"/>
<path class="c4" d="M3786 2106L3799 2106L3799 2119L3786 2119Z"/>
<path class="ca" d="M3838 2106L3851 2106L3851 2106L3838 2106Z"/>
<path class="ca" d="M3526 2132L3539 2132L3539 2145L3526 2145Z"/>
<path class="ca" d="M3500 2158L3526 2158L3526 2197L3500 2197Z"/>
<path class="ca" d="M3552 2106L3565 2106L3565 2119L3552 2119Z"/>
<path class="c4" d="M3617 2522L3630 2522L3630 2535L3617 2535Z"/>
<path class="c4" d="M3630 2535L3643 2535L3643 2548L3630 2548Z"/>
<path class="c3" d="M3630 2548L3656 2548L3656 2561L3630 2561Z"/>
<path class="c3" d="M3682 2509L3734 2509L3734 2535L3682 2535Z"/>
<path class="c3" d="M3825 2509L3877 2509L3877 2548L3825 2548Z"/>
<path class="ca" d="M3604 2483L3695 2535L3708 2613L3656 2652L3617 2600Z"/>
<path class="ca" d="M3721 2561L3760 2561L3760 2574L3721 2574Z"/>
<path class="ca" d="M3760 2613L3773 2613L3773 2639L3760 2639Z"/>
<path class="ca" d="M3695 2626L3708 2626L3708 2639L3695 2639Z"/>
<path class="ca" d="M3656 2639L3682 2639L3682 2652L3656 2652Z"/>
<path class="c4" d="M3890 2639L3905 2639L3905 2652L3890 2652Z"/>
<path class="ca" d="M757 689L978 637L1056 702L1095 754L1121 858L1082 936L978 962L861 949L796 897L757 806Z"/>
<path class="c4" d="M926 702L1004 702L1004 754L926 754Z"/>
<path class="c4" d="M939 689L978 689L978 702L939 702Z"/>
<path class="c4" d="M874 793L926 793L926 819L874 819Z"/>
<path class="c4" d="M991 793L1056 793L1056 819L991 819Z"/>
<path class="c4" d="M965 845L991 845L991 871L965 871Z"/>
<path class="c3" d="M900 741L965 741L965 767L900 767Z"/>
<path class="c3" d="M1004 741L1056 741L1056 754L1004 754Z"/>
<path class="c4" d="M1043 819L1069 819L1069 845L1043 845Z"/>
<path class="c3" d="M822 884L874 884L874 897L822 897Z"/>
<path class="ca" d="M1095 416L1303 403L1303 468L1147 494L1095 468Z"/>
</g>
<g id="borders" shape-rendering="geometricPrecision">
<polyline class="bd" points="1285.1,254.5 1336.7,252.7 1342.4,274.5 1373.9,300.3 1437,320.4 1471.4,340.4 1500,377.7 1502.9,400.6 1485.7,423.5 1491.4,446.5 1502.9,460.8 1534.4,463.7 1580.3,466.5 1649.1,475.1 1729.3,503.8 1752.2,543.9 1780.9,584 1821,585.2 1860,589.8"/>
<polyline class="bd" points="1780.9,584 1769.4,595.5 1769.4,624.2 1729.3,641.4 1694.9,652.8 1692.1,675.7 1649.1,698.7 1600.3,705.6 1594.6,735.9 1600.3,756 1603.2,773.2 1551.6,784.7 1500,796.1 1457,810.4 1471.4,836.2 1491.4,853.4 1505.8,870.6 1517.2,885 1488.6,893.6 1485.7,913.6 1505.8,936.6 1471.4,933.7 1425.5,933.7 1368.2,913.6 1305.1,916.5 1253.6,930.8 1219.2,950.9 1161.9,956.6 1110.3,968.1 1081.6,962.3 1052.9,959.5 1018.6,970.9 984.2,976.7 938.3,970.9 915.4,996.7 881,1019.7 872.4,1025.4"/>
<polyline class="bd" points="872.4,1025.4 823.7,970.9 732,945.1 720.5,922.2 697.6,902.2 668.9,887.8 640.2,879.2 657.4,853.4 651.7,821.9 640.2,804.7 617.3,801.9 594.4,790.4 600.1,773.2 585.8,764.6 605.9,744.5 605.9,727.3 634.5,715.9 663.2,707.3 697.6,698.7 700.4,713 732,704.4 749.2,687.2 754.9,675.7 789.3,667.2 795,658.6 817.9,652.8 846.6,650 903.9,629.9 926.8,621.3 938.3,601.2 941.2,578.3 961.2,572.6 967,549.6 961.2,526.7 949.8,503.8 944,480.9 924,472.3 926.8,466.5 961.2,457.9 1018.6,449.3 1044.3,457.9 1052.9,440.7 1044.3,429.3 1052.9,406.3 1064.4,383.4 1078.7,366.2 1087.3,353.6 1133.2,363.4 1161.9,363.4 1219.2,351.9 1224.9,326.1 1216.3,306 1224.9,288.8 1259.3,280.2 1279.4,263.1 1285.1,254.5"/>
<polyline class="bd" points="872.4,1025.4 863.8,1042.6 869.5,1071.3 881,1105.6 889.6,1129.7"/>
<polyline class="bd" points="1425.5,933.7 1431.3,973.8 1425.5,1002.5 1434.1,1036.9 1438.1,1056.9"/>
<polyline class="bd" points="1603.2,773.2 1672,767.5 1740.8,778.9 1792.4,804.7 1809.6,816.2 1815.3,773.2 1860,770.3"/>
<polyline class="bd" points="1821,585.2 1849.7,635.6 1860,658.6"/>
<polyline class="bd" points="1435.9,1050 1450.3,1067.2 1473.2,1081.5 1507.6,1093 1530.5,1095.9 1553.4,1104.5 1587.8,1107.3 1633.7,1118.8 1662.3,1118.8 1691,1113.1 1719.7,1130.2 1736.9,1141.7 1734,1156 1754.1,1156 1771.3,1164.6 1774.1,1156 1794.2,1150.3 1817.1,1144.6 1834.3,1121.6 1834.3,1107.3 1840,1090.1 1845.8,1072.9 1840,1050"/>
<polyline class="bd" points="1834.3,1121.6 1874.4,1127.4 1897.4,1153.2 1903.1,1181.8 1914.6,1204.8 1920.3,1244.9 1920.3,1290.7 1931.7,1302.2 1926,1325.1 1937.5,1348.1 1948.9,1336.6 1954.7,1319.4 1971.9,1325.1 1989.1,1348.1 2012,1371 2023.5,1393.9 2040.7,1416.8 2052.1,1439.8 2075,1457 2103.7,1451.2 2126.6,1445.5 2126.6,1422.6 2115.2,1405.4 2132.4,1388.2 2155.3,1376.7 2172.5,1359.5 2189.7,1330.9 2200,1325.1"/>
<polyline class="bd" points="900,1201.9 928.7,1210.5 957.3,1222 986,1233.4 994.6,1250.6 1006,1233.4 1031.8,1239.2 1054.8,1247.8 1089.2,1270.7 1112.1,1279.3 1129.3,1290.7 1146.5,1290.7 1157.9,1313.7 1180.9,1325.1 1198.1,1330.9 1221,1342.3 1243.9,1353.8 1266.8,1362.4 1301.2,1365.3 1335.6,1362.4 1381.5,1350.9 1390.1,1371 1392.9,1393.9 1404.4,1382.5 1415.9,1362.4 1438.8,1346.9 1473.2,1348.1 1507.6,1356.7 1530.5,1362.4 1536.2,1382.5 1553.4,1393.9 1559.2,1416.8 1599.3,1414 1645.1,1411.1 1656.6,1393.9 1673.8,1382.5 1713.9,1365.3 1742.6,1345.2 1771.3,1345.2 1799.9,1353.8 1817.1,1365.3 1840,1336.6 1863,1330.9 1874.4,1348.1 1885.9,1336.6 1897.4,1371 1906,1405.4 1908.8,1445.5 1897.4,1462.7 1885.9,1479.9 1874.4,1502.8 1863,1520 1851.5,1531.5 1842.9,1548.7 1845.8,1571.6 1874.4,1565.9 1897.4,1560.1 1908.8,1583.1 1920.3,1600.3 1937.5,1617.5 1931.7,1634.7 1937.5,1657.6 1926,1669 1966.1,1674.8 1977.6,1692 2017.7,1694.8 2034.9,1686.2 2046.4,1697.7 2063.6,1709.2 2063.6,1686.2 2057.8,1657.6 2080.8,1646.1 2115.2,1640.4 2149.6,1628.9 2178.2,1634.7 2200,1628.9"/>
<polyline class="bd" points="2155.3,1393.9 2172.5,1416.8 2200,1422.6"/>
<polyline class="bd" points="1952,592.3 1995.1,594.4 2038.1,596.6 2068.2,605.2 2081.2,616 2115.6,620.3 2167.3,633.2 2210.3,637.5 2234,646.1 2253.4,635.3 2296.4,620.3 2339.5,611.7 2361,603.1 2425.6,600.9 2490.2,596.6 2511.7,588 2528.9,575.1 2541.8,560"/>
<polyline class="bd" points="1952,680.5 1980,684.9 1980,706.4 1958.5,734.4 1995.1,749.4 2051,766.7 2081.2,783.9 2124.2,786 2167.3,762.3 2180.2,758 2193.1,775.3 2210.3,788.2 2253.4,790.3 2279.2,783.9 2305,766.7 2326.6,762.3 2330.9,775.3 2326.6,788.2 2339.5,818.3 2361,835.5 2373.9,844.1 2404.1,839.8 2425.6,826.9 2442.8,818.3 2460,805.4 2481.5,783.9 2503.1,766.7 2520.3,758 2541.8,753.7 2554.7,745.1 2563.3,732.2 2584.9,723.6 2606.4,715 2623.6,702.1 2649.5,697.8 2683.9,693.5 2701.1,689.2 2705.4,671.9 2699,659.9"/>
<polyline class="bd" points="2541.8,753.7 2537.5,775.3 2528.9,801.1 2520.3,826.9 2516,852.8 2520.3,878.6 2520.3,904.4 2524.6,930.3 2520.3,956.1 2507.4,981.9 2505.2,1007.7 2511.7,1020.7 2511.7,1033.6 2533.2,1050.8 2546.1,1076.6 2554.7,1106.8 2563.3,1119.7"/>
<polyline class="bd" points="2701.1,689.2 2709.7,710.7 2718.3,732.2 2701.1,753.7 2692.5,775.3 2683.9,796.8 2683.9,818.3 2692.5,835.5 2692.5,861.4 2683.9,887.2 2679.6,904.4 2692.5,917.3 2683.9,934.6"/>
<polyline class="bd" points="2511.7,1020.7 2546.1,990.5 2576.3,977.6 2606.4,964.7 2632.2,960.4 2658.1,947.5 2683.9,934.6 2709.7,930.3 2726.9,917.3 2748.5,904.4 2770,887.2 2782.9,870 2800.1,852.8 2813,835.5 2830.3,818.3 2847.5,801.1 2864.7,783.9 2881.9,766.7 2899.2,753.7 2928,740.8"/>
<polyline class="bd" points="2735.6,973.3 2757.1,964.7 2782.9,947.5 2813,934.6 2847.5,925.9 2864.7,930.3 2877.6,947.5 2890.5,969 2907.8,981.9 2928,990.5"/>
<polyline class="bd" points="2201.7,1068 2210.3,1106.8 2253.4,1102.5 2296.4,1093.9 2339.5,1106.8 2382.5,1115.4 2425.6,1119.7 2468.6,1098.2 2490.2,1089.5 2498.8,1102.5 2481.5,1119.7 2468.6,1132.6 2472.9,1154.1 2477.2,1184.3 2490.2,1205.8 2503.1,1231.6 2511.7,1260"/>
<polyline class="bd" points="2309.3,1055.1 2305,1025 2313.6,1003.4 2339.5,994.8 2365.3,990.5 2382.5,981.9 2408.4,973.3 2421.3,964.7 2412.7,938.9 2408.4,925.9 2399.7,913 2365.3,900.1 2352.4,887.2 2348.1,861.4 2356.7,852.8 2365.3,835.5"/>
<polyline class="bd" points="2554.7,1106.8 2576.3,1119.7 2597.8,1124 2623.6,1119.7 2649.5,1119.7 2675.3,1128.3 2692.5,1128.3 2709.7,1119.7 2726.9,1115.4 2748.5,1111.1 2770,1115.4 2791.5,1119.7 2804.4,1128.3 2800.1,1162.7 2787.2,1184.3 2795.8,1205.8 2808.7,1231.6 2813,1260"/>
<polyline class="bd" points="2735.6,973.3 2752.8,990.5 2761.4,1016.4 2770,1059.4 2795.8,1050.8 2813,1042.2 2834.6,1029.3 2838.9,1007.7 2856.1,999.1 2877.6,990.5 2899.2,986.2"/>
<polyline class="bd" points="1952,811.9 1977.8,814 1995.1,822.6 2020.9,835.5 2038.1,844.1 2059.6,852.8 2085.5,861.4 2102.7,870 2119.9,887.2 2124.2,904.4 2132.8,921.6 2128.5,938.9 2102.7,960.4 2089.8,973.3 2081.2,986.2 2072.5,1007.7 2063.9,1020.7 2072.5,1033.6 2098.4,1037.9 2124.2,1029.3 2154.3,1037.9 2180.2,1050.8 2197.4,1068 2201.7,1085.2"/>
<polyline class="bd" points="2012.3,1029.3 2020.9,1037.9 2046.7,1050.8 2068.2,1059.4 2070.4,1076.6 2051,1089.5 2029.5,1093.9 2025.2,1106.8 2003.7,1115.4 1986.4,1111.1 1969.2,1106.8 1952,1111.1"/>
<polyline class="bd" points="2188.8,766.7 2210.3,762.3 2244.8,753.7 2262,745.1 2279.2,753.7 2287.8,775.3"/>
<polyline class="bd" points="2928,217.5 2949.5,206.8 2971.1,193.8 2975.4,180.9 2992.6,168 3005.5,142.2 3018.5,124.9 3035.7,112 3052.9,99.1 3057.2,81.8 3052.9,68.9 3018.5,64.6 3027.1,56 3057.2,38.8 3070.2,32.3 3100.3,30.2 3143.4,25.8 3186.5,21.5 3229.5,32.3 3255.4,36.6 3272.6,40.9 3302.8,51.7 3332.9,64.6 3341.5,84 3358.8,99.1 3371.7,129.2 3376,142.2 3388.9,168 3406.2,189.5 3414.8,215.4 3436.3,228.3 3470.8,232.6 3500.9,241.2 3522.5,245.5 3544,258.5 3569.9,267.1 3574.2,284.3 3582.8,310.2 3591.4,327.4 3617.2,327.4 3643.1,327.4 3660.3,320.9 3677.6,314.5 3699.1,310.2 3724.9,301.5 3746.5,297.2 3776.6,292.9 3802.5,289.5 3789.6,297.2 3785.2,318.8 3776.6,331.7 3772.3,344.6 3759.4,348.9 3746.5,357.5 3737.9,387.7 3733.6,413.5 3724.9,422.2 3716.3,435.1 3703.4,452.3 3699.1,465.2 3686.2,463.1 3673.2,460.9 3651.7,456.6 3634.5,452.3 3621.5,456.6 3608.6,469.5 3595.7,473.9 3591.4,478.2 3600,495.4 3604.3,516.9 3608.6,542.8 3600,560 3595.7,577.2 3578.5,585.9 3565.5,590.2 3569.9,603.1 3561.2,594.5 3544,585.9 3531.1,577.2 3522.5,581.5 3509.5,598.8 3488,607.4 3466.5,616 3449.2,628.9 3444.9,641.9 3432,654.8 3401.9,654.8 3388.9,646.2 3376,637.5 3363.1,641.9 3354.5,654.8 3341.5,659.1 3324.3,672 3315.7,684.9 3307.1,700"/>
<polyline class="bd" points="3070.2,51.7 3083.1,56 3091.7,64.6 3108.9,73.2 3126.2,77.5 3143.4,79.7 3152,86.2 3156.3,94.8 3164.9,112 3175.7,129.2 3186.5,129.2 3208,133.5 3229.5,133.5 3255.4,129.2 3272.6,127.1 3294.2,124.9 3307.1,129.2 3315.7,142.2 3332.9,150.8 3328.6,159.4 3311.4,180.9 3298.5,198.2 3289.9,215.4 3281.2,241.2 3268.3,258.5 3255.4,284.3 3251.1,301.5 3229.5,310.2 3208,314.5 3186.5,327.4 3164.9,336 3143.4,344.6 3147.7,357.5 3160.6,366.2 3169.2,374.8 3190.8,366.2 3203.7,370.5 3203.7,387.7 3195.1,396.3 3186.5,404.9 3203.7,402.8 3220.9,404.9 3229.5,426.5 3238.2,439.4 3264,443.7 3285.5,448 3307.1,452.3 3332.9,456.6 3367.4,463.1 3380.3,469.5 3384.6,486.8 3401.9,495.4 3419.1,508.3 3423.4,499.7 3444.9,495.4 3457.9,508.3 3470.8,534.2 3479.4,547.1 3496.6,547.1 3518.2,534.2 3539.7,521.2 3552.6,525.5 3565.5,534.2 3574.2,547.1 3591.4,542.8 3604.3,547.1"/>
<polyline class="bd" points="3195.1,396.3 3169.2,413.5 3134.8,422.2 3108.9,430.8 3113.2,443.7 3126.2,443.7 3130.5,465.2 3126.2,491.1 3139.1,504 3169.2,504 3182.2,499.7 3186.5,516.9 3195.1,529.9 3203.7,542.8 3212.3,551.4 3229.5,555.7 3246.8,560 3264,564.3 3272.6,577.2 3281.2,594.5 3294.2,611.7 3298.5,624.6 3294.2,637.5 3307.1,646.2 3324.3,672"/>
<polyline class="bd" points="3208,551.4 3186.5,560 3160.6,568.6 3130.5,577.2 3108.9,585.9 3091.7,594.5 3074.5,603.1 3052.9,607.4 3027.1,616 3014.2,628.9 3001.2,646.2 2984,624.6 2971.1,616 2962.5,628.9 2966.8,646.2 2958.2,672 2962.5,689.2 2971.1,700"/>
<polyline class="bd" points="2928,381.2 2953.8,376.9 2984,374.8 3007.7,379.1 3012,385.5"/>
<polyline class="bd" points="2541.8,559.7 2572,551.1 2597.8,533.9 2593.5,525.2 2572,508 2567.7,495.1 2589.2,465 2619.3,465 2640.8,477.9 2683.9,477.9 2709.7,465 2731.3,447.7 2770,447.7 2804.4,434.8 2821.7,413.3 2838.9,400.4 2877.6,391.8 2899.2,383.2 2928,376.7"/>
<polyline class="bd" points="2928,221.7 2899.2,228.2 2843.2,215.3 2813,266.9 2795.8,284.1 2782.9,305.7 2804.4,327.2 2847.5,318.6 2877.6,329.4 2928,310"/>
<polyline class="bd" points="3133,695.3 3122.2,687.2 3100.5,681.8 3084.3,681.8 3065.4,687.2 3051.8,695.3 3041,706.1 3024.8,722.4 3008.5,727.8 2997.7,733.2 2986.9,738.6 2976,749.4 2965.2,765.7 2951.7,773.8 2938.2,776.5 2927.3,773.8 2916.5,765.7 2908.4,760.3 2905.7,771.1 2900.3,776.5 2892.2,784.6 2889.4,795.5 2889.4,809 2897.6,822.5 2905.7,827.9 2916.5,830.6 2932.7,827.9 2949,830.6 2959.8,830.6 2967.9,844.2 2965.2,857.7 2962.5,868.5 2970.6,876.6 2986.9,879.4 3003.1,873.9 3013.9,860.4 3030.2,852.3 3051.8,846.9 3065.4,846.9 3078.9,855 3092.4,857.7 3106,857.7 3122.2,857.7 3133,860.4 3154.7,865.8 3146.5,879.4 3138.4,884.8 3127.6,890.2 3111.4,892.9 3095.1,898.3 3078.9,901 3062.7,909.1 3051.8,917.2 3035.6,928.1 3024.8,938.9 3019.4,949.7 3011.2,960.5 2997.7,971.4 2986.9,982.2 2981.5,993 2978.8,1000.1"/>
<polyline class="bd" points="3133,695.3 3133,706.1 3122.2,717 3111.4,733.2 3097.8,744 3084.3,754.9 3084.3,763 3097.8,765.7 3114.1,761.6 3103.2,773.8 3078.9,784.6 3073.5,790 3078.9,798.2 3092.4,792.7 3106,784.6 3119.5,776.5 3133,765.7 3146.5,754.9 3160.1,749.4 3176.3,744 3192.6,738.6 3214.2,730.5 3230.4,725.1 3249.4,722.4 3268.3,711.6 3284.6,700.7 3300,695.3"/>
<polyline class="bd" points="2992.3,722.4 2984.2,708.8 2973.3,695.3 2959.8,687.2 2957.1,673.7 2970.6,662.8 2976,649.3 2984.2,638.5 2978.8,627.7 2981.5,614.1 2992.3,608.7 3003.1,619.5 3013.9,630.4 3022.1,641.2 3032.9,633.1 3051.8,625"/>
<polyline class="bd" points="2700,649.3 2710.8,635.8 2721.7,625 2737.9,619.5 2748.7,622.2 2754.1,635.8 2754.1,646.6 2767.7,641.2 2789.3,633.1 2808.3,625 2827.2,619.5 2843.4,614.1 2851.6,606 2862.4,600.6 2878.6,595.2 2894.9,593.8 2905.7,595.2 2913.8,606 2921.9,625 2924.6,641.2 2927.3,657.4 2938.2,662.8 2951.7,660.1 2959.8,649.3 2970.6,641.2 2984.2,638.5"/>
<polyline class="bd" points="2781.2,744 2778.5,727.8 2794.7,711.6 2797.4,700.7 2813.7,689.9 2827.2,681.8 2840.7,676.4 2851.6,684.5 2862.4,692.6 2875.9,695.3 2886.7,698 2884,711.6 2875.9,719.7 2873.2,727.8 2867.8,735.9 2862.4,744 2851.6,749.4 2843.4,749.4 2829.9,746.7 2813.7,744 2794.7,746.7 2781.2,744"/>
<polyline class="bd" points="2873.2,727.8 2889.4,725.1 2900.3,733.2 2897.6,746.7 2905.7,749.4 2908.4,760.3"/>
<polyline class="bd" points="2851.6,749.4 2854.3,765.7 2851.6,779.2 2846.1,784.6 2848.8,795.5 2862.4,798.2 2884,795.5 2889.4,795.5"/>
<polyline class="bd" points="2889.4,795.5 2894.9,814.4 2889.4,827.9 2875.9,841.5 2857,844.2 2840.7,849.6 2824.5,860.4 2811,871.2 2802.8,879.4 2794.7,890.2 2781.2,901 2773.1,911.8 2770.4,928.1 2767.7,944.3 2759.5,960.5 2754.1,971.4 2746,982.2 2735.2,993"/>
<polyline class="bd" points="2754.1,971.4 2775.8,966 2792,955.1 2808.3,938.9 2813.7,933.5"/>
<polyline class="bd" points="2816.4,1000.1 2840.7,993 2862.4,998.4 2889.4,993 2916.5,995.7 2943.6,993 2970.6,1000.1"/>
<polyline class="bd" points="2973.5,980 2976.2,996.2 2984.3,1007.1 3006,1017.9 3027.6,1028.7 3035.7,1045 3046.5,1061.2 3054.7,1077.4 3060.1,1093.7 3065.5,1109.9 3073.6,1120.7 3089.9,1126.1 3103.4,1131.6 3108.8,1139.7 3098,1139.7 3106.1,1147.8 3114.2,1158.6 3122.3,1169.4 3133.2,1180.3 3133.2,1196.5 3125,1204.6 3111.5,1212.7 3098,1218.2 3087.1,1218.2 3076.3,1220.9 3065.5,1229 3070.9,1234.4 3087.1,1237.1 3106.1,1242.5 3122.3,1250.6 3130.4,1256 3116.9,1264.2 3108.8,1272.3 3103.4,1277.7 3092.6,1280.4 3098,1288.5 3114.2,1293.9 3106.1,1302.1 3098,1312.9 3103.4,1326.4 3098,1339.9 3087.1,1348.1 3076.3,1353.5 3065.5,1364.3 3057.4,1372.4 3049.3,1380.5 3043.8,1391.4 3033,1402.2 3027.6,1413 3022.2,1420.1"/>
<polyline class="bd" points="3076.3,1158.6 3089.9,1155.9 3087.1,1169.4 3076.3,1177.6 3065.5,1185.7"/>
<polyline class="bd" points="2827.3,996.2 2838.2,996.2 2851.7,998.9 2862.5,1007.1 2870.6,1015.2 2886.9,1017.9 2903.1,1017.9 2913.9,1020.6 2924.8,1017.9 2938.3,1012.5 2951.8,1007.1 2962.7,996.2 2973.5,980"/>
<polyline class="bd" points="2830,996.2 2821.9,1020.6 2808.4,1042.2 2789.4,1039.5 2784,1050.4 2775.9,1061.2 2773.2,1074.7 2767.8,1082.8 2754.3,1088.3 2748.8,1096.4 2757,1101.8 2767.8,1112.6 2784,1118 2800.3,1120.7 2803,1131.6 2800.3,1147.8 2789.4,1158.6 2775.9,1169.4 2773.2,1177.6 2784,1185.7 2794.9,1191.1 2808.4,1201.9 2811.1,1218.2 2805.7,1231.7 2808.4,1245.2 2816.5,1253.3 2830,1250.6 2843.6,1250.6 2854.4,1261.5 2849,1272.3 2859.8,1269.6 2870.6,1258.8 2881.5,1261.5 2892.3,1266.9 2903.1,1277.7 2913.9,1280.4 2924.8,1272.3 2938.3,1264.2 2951.8,1250.6 2957.2,1239.8 2968.1,1229 2981.6,1223.6 2987,1210 2995.1,1193.8 3006,1191.1"/>
<polyline class="bd" points="2870.6,1015.2 2886.9,1034.1 2897.7,1045 2911.2,1050.4 2919.4,1058.5 2916.6,1072 2919.4,1082.8 2924.8,1093.7 2935.6,1107.2 2946.4,1101.8 2954.5,1099.1 2965.4,1101.8 2973.5,1109.9 2973.5,1118 2965.4,1123.4 2951.8,1131.6 2941,1131.6 2932.9,1139.7 2930.2,1150.5 2941,1158.6 2951.8,1166.7 2965.4,1177.6 2978.9,1188.4 2992.4,1191.1 3006,1191.1 3019.5,1196.5 3033,1201.9 3046.5,1210 3060.1,1212.7 3073.6,1218.2 3087.1,1218.2"/>
<polyline class="bd" points="2995.1,1193.8 2984.3,1212.7 2978.9,1223.6 2973.5,1237.1 2965.4,1245.2 2957.2,1258.8 2946.4,1266.9 2935.6,1272.3 2924.8,1275 2919.4,1283.1 2916.6,1291.2 2919.4,1304.8 2927.5,1318.3 2932.9,1331.8 2946.4,1339.9 2951.8,1353.5 2957.2,1367 2962.7,1380.5 2973.5,1386 2984.3,1388.7 3000.5,1383.2 3014.1,1386 3022.2,1394.1 3030.3,1402.2 3033,1413 3035.7,1420.1"/>
<polyline class="bd" points="2600,1275 2610.8,1277.7 2627.1,1272.3 2640.6,1266.9 2654.1,1269.6 2667.7,1277.7 2681.2,1285.8 2694.7,1291.2 2708.3,1288.5 2721.8,1285.8 2735.3,1277.7 2748.8,1272.3 2762.4,1269.6 2775.9,1264.2 2789.4,1261.5 2800.3,1264.2 2813.8,1261.5 2824.6,1253.3 2838.2,1250.6"/>
<polyline class="bd" points="2681.2,1285.8 2694.7,1299.4 2702.8,1312.9 2708.3,1326.4 2711,1339.9 2713.7,1353.5 2708.3,1364.3 2697.4,1369.7 2689.3,1380.5 2683.9,1391.4 2689.3,1404.9 2692,1420.1"/>
<polyline class="bd" points="2935.6,1339.9 2922.1,1350.8 2905.8,1353.5 2895,1358.9 2881.5,1364.3 2870.6,1367 2865.2,1375.1 2859.8,1386 2859.8,1399.5 2849,1413 2838.2,1420.1"/>
<polyline class="bd" points="2600,1126.1 2616.2,1128.8 2632.5,1126.1 2648.7,1128.8 2662.2,1126.1 2675.8,1126.1 2686.6,1131.6 2689.3,1142.4 2692,1150.5 2697.4,1155.9 2708.3,1158.6 2721.8,1164 2735.3,1166.7 2746.1,1169.4 2757,1172.2 2767.8,1177.6 2773.2,1180.3"/>
<polyline class="bd" points="3049.5,1380 3036.2,1397.6 3023,1415.3 3009.8,1428.5 3001,1446.1 2996.6,1468.2 2992.2,1485.8 2978.9,1503.5 2965.7,1516.7 2943.7,1529.9 2926,1543.1 2908.4,1556.4 2895.1,1569.6 2877.5,1582.8 2855.5,1600.5 2837.8,1613.7 2811.4,1622.5 2784.9,1631.3 2767.3,1635.7 2749.6,1640.1 2732,1644.6 2723.2,1657.8 2701.1,1662.2 2679.1,1662.2 2661.5,1671 2635,1675.4 2617.4,1679.8 2590.9,1684.2 2573.3,1684.2 2551.2,1688.6 2533.6,1693.1 2520.4,1706.3 2516,1719.5 2511.6,1732.7 2520.4,1746 2516,1759.2 2493.9,1761.4 2480.7,1750.4 2476.3,1728.3 2485.1,1715.1 2489.5,1706.3 2480.7,1697.5 2467.5,1693.1 2449.8,1697.5 2423.4,1693.1 2396.9,1688.6 2370.5,1684.2 2348.4,1675.4 2326.4,1671 2317.5,1662.2 2322,1635.7 2313.1,1626.9 2295.5,1626.9 2273.5,1618.1 2255.8,1613.7 2238.2,1604.9 2216.1,1613.7 2194.1,1618.1 2176.5,1635.7 2158.8,1640.1 2150,1635.7"/>
<polyline class="bd" points="2423.4,1812.1 2432.2,1790.1 2454.2,1781.2 2480.7,1776.8 2511.6,1772.4 2533.6,1772.4 2546.8,1790.1 2538,1807.7 2529.2,1820.9 2520.4,1838.6 2507.1,1847.4 2493.9,1856.2 2476.3,1865 2458.6,1865 2436.6,1860.6 2423.4,1856.2 2423.4,1834.1 2423.4,1812.1"/>
<polyline class="bd" points="3089.2,1507.9 3111.2,1512.3 3120,1525.5 3102.4,1556.4 3089.2,1591.6 3075.9,1626.9 3067.1,1653.4 3058.3,1675.4 3049.5,1662.2 3036.2,1644.6 3027.4,1622.5 3023,1600.5 3031.8,1574 3045.1,1556.4 3058.3,1538.7 3075.9,1516.7 3089.2,1507.9"/>
<polyline class="bd" points="2599.7,1525.5 2595.3,1556.4 2586.5,1569.6 2573.3,1582.8 2568.9,1600.5 2564.5,1618.1 2546.8,1635.7 2533.6,1644.6 2529.2,1662.2 2533.6,1679.8 2538,1688.6"/>
<polyline class="bd" points="2599.7,1525.5 2604.1,1512.3 2613,1503.5 2635,1507.9 2643.8,1494.6 2665.9,1490.2 2696.7,1494.6 2714.4,1503.5 2732,1499 2740.8,1503.5 2723.2,1521.1 2714.4,1534.3 2736.4,1538.7 2758.5,1534.3 2776.1,1525.5 2793.7,1521.1 2802.6,1507.9 2811.4,1490.2 2820.2,1468.2 2829,1455 2837.8,1432.9 2855.5,1415.3 2864.3,1397.6 2868.7,1380"/>
<polyline class="bd" points="2793.7,1521.1 2820.2,1525.5 2837.8,1534.3 2846.6,1552 2855.5,1565.2 2868.7,1582.8 2877.5,1582.8"/>
<polyline class="bd" points="2599.7,1525.5 2586.5,1521.1 2568.9,1512.3 2555.6,1507.9 2546.8,1494.6 2546.8,1477 2538,1459.4 2524.8,1446.1 2502.7,1450.5 2485.1,1459.4 2467.5,1455 2458.6,1437.3 2463.1,1415.3 2458.6,1402 2449.8,1388.8 2436.6,1380"/>
<polyline class="bd" points="2696.7,1380 2701.1,1402 2710,1424.1 2705.6,1446.1 2701.1,1468.2 2701.1,1490.2"/>
<polyline class="bd" points="2458.6,1437.3 2436.6,1468.2 2423.4,1477 2396.9,1485.8 2370.5,1494.6 2348.4,1490.2 2335.2,1490.2 2317.5,1507.9 2291.1,1521.1 2273.5,1516.7 2251.4,1525.5 2229.4,1529.9 2207.3,1521.1 2198.5,1534.3 2211.7,1543.1 2229.4,1547.5 2247,1560.8 2264.6,1565.2 2282.3,1565.2 2291.1,1578.4 2282.3,1600.5 2264.6,1600.5 2247,1609.3 2238.2,1604.9"/>
<polyline class="bd" points="2207.3,1521.1 2202.9,1503.5 2211.7,1468.2 2202.9,1446.1 2185.3,1424.1 2167.6,1415.3 2158.8,1402 2163.2,1380"/>
<polyline class="bd" points="1860,584 1905,588 1952,592"/>
<polyline class="bd" points="1860,658 1910,670 1952,680"/>
<polyline class="bd" points="889.5,1130.1 861,1125.8 843.8,1121.4 850.3,1140.8 861,1166.7 874,1196.8 904.1,1203.2 925.6,1209.7 976,1235.5"/>
<polyline class="bd" points="1837.7,1052.5 1847.6,1047.6 1877.1,1047.6 1901.7,1057.4 1911.5,1072.2 1926.3,1082 1941,1086.9 1955.8,1096.8 1975.5,1106.6 1995.1,1116.4 2014.8,1106.6 2044.3,1086.9 2064,1072.2 2073.8,1047.6 2088.6,1042.6 2108.3,1042.6 2127.9,1032.8 2137.8,1047.6 2152.5,1057.4 2172.2,1067.2 2191.9,1077.1 2196.8,1096.8 2211.6,1111.5 2231.2,1116.4 2250.9,1106.6 2260.7,1101.7 2290.3,1111.5 2319.8,1116.4 2344.4,1126.3 2378.8,1131.2 2408.3,1141 2418.2,1150.9 2447.7,1155.8 2487,1165.6 2501.8,1185.3 2496.9,1209.9 2467.3,1219.7 2428,1224.6 2413.2,1244.3 2408.3,1264 2423.1,1273.8 2437.8,1273.8 2457.5,1293.5 2452.6,1318.1 2452.6,1342.7 2442.7,1391.9 2452.6,1411.6 2462.4,1431.2 2457.5,1450.9"/>
<polyline class="bd" points="2408.3,1141 2403.4,1165.6 2398.5,1185.3 2378.8,1205 2364,1224.6 2354.2,1244.3 2339.4,1239.4 2319.8,1234.5 2290.3,1229.6 2270.6,1239.4 2255.8,1259.1 2250.9,1278.8 2265.7,1288.6 2290.3,1303.3 2305,1308.3 2324.7,1313.2 2349.3,1303.3 2369,1313.2 2398.5,1308.3 2418.2,1318.1 2437.8,1332.9 2452.6,1342.7"/>
<polyline class="bd" points="2250.9,1278.8 2241.1,1308.3 2221.4,1327.9 2201.7,1332.9 2182,1332.9 2162.4,1342.7 2147.6,1362.4 2137.8,1382 2127.9,1401.7 2127.9,1421.4 2123,1441.1 2113.2,1450.9 2093.5,1455.8 2073.8,1450.9 2054.2,1441.1 2044.3,1421.4 2029.6,1396.8 2014.8,1372.2 2005,1357.5 1985.3,1337.8 1965.6,1318.1 1955.8,1313.2 1941,1332.9 1931.2,1342.7"/>
<polyline class="bd" points="1832.8,1121.3 1847.6,1131.2 1872.2,1141 1896.8,1165.6 1901.7,1185.3 1906.6,1205 1916.4,1219.7 1916.4,1244.3 1916.4,1273.8 1916.4,1303.3 1921.3,1323 1926.3,1342.7 1931.2,1342.7"/>
<polyline class="bd" points="2201.7,1332.9 2221.4,1327.9 2241.1,1313.2 2260.7,1318.1 2280.4,1327.9 2300.1,1342.7 2300.1,1362.4 2280.4,1372.2 2265.7,1377.1 2250.9,1372.2 2241.1,1362.4"/>
<polyline class="bd" points="2127.9,1401.7 2152.5,1396.8 2172.2,1396.8 2187,1387 2196.8,1367.3 2201.7,1342.7"/>
<polyline class="bd" points="2167.3,1411.6 2191.9,1431.2 2206.6,1450.9 2201.7,1470.6 2211.6,1490.3 2221.4,1509.9 2231.2,1529.6 2216.5,1549.3 2231.2,1559.1 2265.7,1554.2 2280.4,1569 2290.3,1578.8"/>
<polyline class="bd" points="2221.4,1509.9 2250.9,1519.8 2270.6,1509.9 2300.1,1505 2329.6,1495.2 2359.1,1490.3 2378.8,1480.4 2398.5,1475.5 2418.2,1470.6 2437.8,1465.7 2457.5,1450.9 2477.2,1460.7 2496.9,1455.8 2526.4,1446 2555.9,1441.1 2565.7,1465.7 2585.4,1480.4 2600.1,1505"/>
</g>
<g class="ct" shape-rendering="geometricPrecision">
<circle cx="1995.1" cy="786.1" r="6.5"/><text x="1997.2" y="780.8">张掖</text>
<circle cx="2084.2" cy="808.5" r="6.5"/><text x="2088.9" y="803.2">金昌</text>
<circle cx="2108.7" cy="838.6" r="6.5"/><text x="2113.4" y="833.3">武威</text>
<circle cx="2055.3" cy="867" r="6.5"/><text x="2059.6" y="861.7">门源回族自治县</text>
<circle cx="2063.9" cy="907.1" r="6.5"/><text x="2053.2" y="902.2">西宁</text>
<circle cx="2081.2" cy="912.7" r="6.5"/><text x="2085.5" y="907.8">平安</text>
<circle cx="2003.2" cy="923.9" r="6.5"/><text x="2008" y="918.6">共和</text>
<circle cx="2075.6" cy="964.8" r="6.5"/><text x="2080.3" y="959.9">同仁</text>
<circle cx="2102.3" cy="981.6" r="6.5"/><text x="2106.1" y="975.8">夏河</text>
<circle cx="2138.8" cy="960" r="6.5"/><text x="2143.6" y="955.2">临夏</text>
<circle cx="2167.3" cy="935.5" r="6.5"/><text x="2171.6" y="930.6">兰州</text>
<circle cx="2188.8" cy="911" r="6.5"/><text x="2194" y="905.7">白银</text>
<circle cx="2211.6" cy="960.9" r="6.5"/><text x="2216.8" y="956">定西</text>
<circle cx="1983.4" cy="1019" r="6.5"/><text x="1988.2" y="1014.1">玛沁</text>
<circle cx="2266.7" cy="790.8" r="6.5"/><text x="2229.7" y="785.1">阿拉善左旗</text>
<circle cx="2304.2" cy="780.1" r="6.5"/><text x="2309.3" y="775.2">石嘴山</text>
<circle cx="2327" cy="746.5" r="6.5"/><text x="2332.2" y="741.2">乌海</text>
<circle cx="2298.6" cy="810.2" r="6.5"/><text x="2302.9" y="805.3">银川</text>
<circle cx="2295.1" cy="834.8" r="6.5"/><text x="2299.4" y="830.3">吴忠</text>
<circle cx="2299" cy="938.1" r="6.5"/><text x="2304.2" y="933.2">固原</text>
<circle cx="2319.2" cy="963.9" r="6.5"/><text x="2324.4" y="958.6">平凉</text>
<circle cx="2369.6" cy="952.3" r="6.5"/><text x="2374.8" y="947.8">西峰</text>
<circle cx="2269.3" cy="1013" r="6.5"/><text x="2274" y="1008.1">天水</text>
<circle cx="2343.3" cy="1023.3" r="6.5"/><text x="2348.1" y="1017.6">宝鸡</text>
<circle cx="2444.1" cy="987.2" r="6.5"/><text x="2448.8" y="982.3">铜川</text>
<circle cx="2425.6" cy="1026.3" r="6.5"/><text x="2430.3" y="1021.5">咸阳</text>
<circle cx="2438.5" cy="1030.6" r="6.5"/><text x="2442.8" y="1036.5">西安</text>
<circle cx="2467.3" cy="1018.6" r="6.5"/><text x="2472.1" y="1013.3">渭南</text>
<circle cx="2270.6" cy="1056.9" r="6.5"/><text x="2275.8" y="1052">成县</text>
<circle cx="2338.6" cy="1092.2" r="6.5"/><text x="2342.9" y="1086.5">汉中</text>
<circle cx="2275.3" cy="1125.4" r="6.5"/><text x="2280.1" y="1120.1">广元</text>
<circle cx="2441.9" cy="1112" r="6.5"/><text x="2446.2" y="1106.3">安康</text>
<circle cx="2488.9" cy="1050.4" r="6.5"/><text x="2493.6" y="1045.1">商州</text>
<circle cx="2534.1" cy="1115" r="6.5"/><text x="2538.4" y="1109.3">十堰</text>
<circle cx="2493.6" cy="739.6" r="6.5"/><text x="2497.9" y="734.3">东胜</text>
<circle cx="2480.7" cy="818.8" r="6.5"/><text x="2485" y="814">榆林</text>
<circle cx="2465.6" cy="908.4" r="6.5"/><text x="2469.9" y="903.1">延安</text>
<circle cx="2552.6" cy="860.6" r="6.5"/><text x="2557.3" y="855.7">离石</text>
<circle cx="2572.4" cy="934.6" r="6.5"/><text x="2577.1" y="929.3">临汾</text>
<circle cx="2544.8" cy="990.6" r="6.5"/><text x="2549.6" y="985.7">运城</text>
<circle cx="2556" cy="1003.1" r="6.5"/><text x="2560.8" y="1001.2">三门峡</text>
<circle cx="2665.4" cy="725.4" r="6.5"/><text x="2670.1" y="720.5">大同</text>
<circle cx="2620.2" cy="765.9" r="6.5"/><text x="2624.5" y="760.6">朔州</text>
<circle cx="2636.1" cy="814.1" r="6.5"/><text x="2640.8" y="808.8">忻州</text>
<circle cx="2627.1" cy="841.2" r="6.5"/><text x="2608.6" y="836.8">太原</text>
<circle cx="2637.8" cy="851.5" r="6.5"/><text x="2640.8" y="846.2">榆次</text>
<circle cx="2679.6" cy="841.6" r="6.5"/><text x="2683.9" y="836.8">阳泉</text>
<circle cx="2655" cy="929.9" r="6.5"/><text x="2660.2" y="925">长治</text>
<circle cx="2641.3" cy="965.6" r="6.5"/><text x="2634.4" y="960.3">晋城</text>
<circle cx="2619.7" cy="1008.3" r="6.5"/><text x="2624.5" y="1003.4">洛阳</text>
<circle cx="2661.9" cy="978.5" r="6.5"/><text x="2666.7" y="973.7">焦作</text>
<circle cx="2695.5" cy="975.1" r="6.5"/><text x="2699.8" y="970.2">新乡</text>
<circle cx="2684.3" cy="1004" r="6.5"/><text x="2688.2" y="999.1">郑州</text>
<circle cx="2720.5" cy="1003.1" r="6.5"/><text x="2724.8" y="998.2">开封</text>
<circle cx="2720.9" cy="934.2" r="6.5"/><text x="2716.2" y="937.1">鹤壁</text>
<circle cx="2709.7" cy="942.4" r="6.5"/>
<circle cx="2726.9" cy="908.4" r="6.5"/><text x="2731.3" y="903.1">邯郸</text>
<circle cx="2728.2" cy="883.4" r="6.5"/><text x="2732.5" y="879">邢台</text>
<circle cx="2728.2" cy="832.2" r="6.5"/><text x="2732.5" y="827.3">石家庄</text>
<circle cx="2781.2" cy="789.5" r="6.5"/><text x="2785.5" y="784.2">保定</text>
<circle cx="2826.4" cy="734" r="6.5"/><text x="2831.1" y="728.3">北京</text>
<circle cx="2842.8" cy="756" r="6.5"/><text x="2847.5" y="749.8">廊坊</text>
<circle cx="2869" cy="774.9" r="6.5"/><text x="2873.3" y="770">天津</text>
<circle cx="2852.2" cy="818.8" r="6.5"/><text x="2856.1" y="813.5">沧州</text>
<circle cx="2791.5" cy="849" r="6.5"/><text x="2795.8" y="843.7">衡水</text>
<circle cx="2821.7" cy="863.6" r="6.5"/><text x="2826.4" y="858.3">德州</text>
<circle cx="2805.7" cy="915.3" r="6.5"/><text x="2810" y="910">聊城</text>
<circle cx="2859.5" cy="904.1" r="6.5"/><text x="2863.9" y="898.8">济南</text>
<circle cx="2865.1" cy="930.3" r="6.5"/><text x="2869.9" y="925">泰安</text>
<circle cx="2755.4" cy="954.9" r="6.5"/><text x="2760.1" y="949.6">濮阳</text>
<circle cx="2777.7" cy="978.5" r="6.5"/><text x="2782.1" y="973.2">菏泽</text>
<circle cx="2836.7" cy="970.4" r="6.5"/><text x="2841.5" y="965.1">济宁</text>
<circle cx="2788.1" cy="1020.7" r="6.5"/><text x="2792.4" y="1015.4">商丘</text>
<circle cx="2692.1" cy="1043.1" r="6.5"/><text x="2696.8" y="1037.8">许昌</text>
<circle cx="2665.4" cy="1056.9" r="6.5"/><text x="2649.5" y="1052">平顶山</text>
<circle cx="2704.1" cy="1066.4" r="6.5"/><text x="2708.4" y="1060.6">漯河</text>
<circle cx="2735.1" cy="1063.8" r="6.5"/><text x="2739.9" y="1058.5">周口</text>
<circle cx="2625.8" cy="1095.2" r="6.5"/><text x="2630.1" y="1090.3">南阳</text>
<circle cx="2704.1" cy="1096.9" r="6.5"/><text x="2708.4" y="1092.1">驻马店</text>
<circle cx="2797.1" cy="1101.7" r="6.5"/><text x="2801.4" y="1096.4">阜阳</text>
<circle cx="2867.7" cy="1028.9" r="6.5"/>
<circle cx="2847.9" cy="1045.3" r="6.5"/><text x="2851.8" y="1039.1">淮北</text>
<circle cx="2858.3" cy="1062.9" r="6.5"/><text x="2863" y="1057.6">宿州</text>
<circle cx="2887.5" cy="997.5" r="6.5"/><text x="2891.8" y="992.6">枣庄</text>
<circle cx="2877.2" cy="1100" r="6.5"/><text x="2881.9" y="1094.7">蚌埠</text>
<circle cx="2859.5" cy="1115.9" r="6.5"/><text x="2863.9" y="1109.3">淮南</text>
<circle cx="2706.3" cy="1141.3" r="6.5"/><text x="2710.6" y="1136">信阳</text>
<circle cx="2605.1" cy="1146" r="6.5"/><text x="2609.4" y="1141.1">襄樊</text>
<circle cx="2832.4" cy="1161.1" r="6.5"/><text x="2836.7" y="1156.6">六安</text>
<circle cx="2872.5" cy="1155.1" r="6.5"/><text x="2876.8" y="1150.2">合肥</text>
<circle cx="2924.6" cy="1131.8" r="6.5"/>
<circle cx="2904.8" cy="1169.7" r="6.5"/>
<circle cx="2608.6" cy="1199.4" r="6.5"/><text x="2612.9" y="1194.1">荆门</text>
<circle cx="2698.1" cy="1205" r="6.5"/><text x="2702.4" y="1199.3">孝感</text>
<circle cx="2559.9" cy="1216.2" r="6.5"/><text x="2564.6" y="1211.3">宜昌</text>
<circle cx="2717.5" cy="1223.1" r="6.5"/><text x="2688.2" y="1216.9">武汉</text>
<circle cx="2748.5" cy="1231.3" r="6.5"/><text x="2720.5" y="1227.7">鄂州</text>
<circle cx="2757.9" cy="1241.6" r="6.5"/><text x="2762.7" y="1239.3">黄石</text>
<circle cx="2744.2" cy="1227.4" r="6.5"/><text x="2748.5" y="1224.2">黄州</text>
<circle cx="2606.4" cy="1233" r="6.5"/><text x="2580.6" y="1229.4">沙市</text>
<circle cx="2610.7" cy="1236.4" r="6.5"/><text x="2610.7" y="1229.4">江陵</text>
<circle cx="2465.6" cy="1238.2" r="6.5"/><text x="2469.9" y="1232.9">恩施</text>
<circle cx="2716.6" cy="1258.8" r="6.5"/><text x="2721.3" y="1253.5">咸宁</text>
<circle cx="2806.2" cy="1267.4" r="6.5"/><text x="2810.9" y="1262.6">九江</text>
<circle cx="2865.6" cy="1226.1" r="6.5"/><text x="2854.4" y="1220.8">安庆</text>
<circle cx="2884.1" cy="1218.8" r="6.5"/><text x="2888.4" y="1212.6">贵池</text>
<circle cx="2654.6" cy="1284.7" r="6.5"/><text x="2659.4" y="1280.2">岳阳</text>
<circle cx="2581.4" cy="1303.2" r="6.5"/><text x="2585.7" y="1298.3">常德</text>
<circle cx="2518.6" cy="1298.4" r="6.5"/><text x="2523.3" y="1293.1">大庸</text>
<circle cx="2429.9" cy="1276.9" r="6.5"/><text x="2434.2" y="1272.9">黔江土家族苗族自治县</text>
<circle cx="2615.4" cy="1326" r="6.5"/><text x="2620.2" y="1321.1">益阳</text>
<circle cx="2649.9" cy="1346.2" r="6.5"/><text x="2654.2" y="1341.3">长沙</text>
<circle cx="2646" cy="1363" r="6.5"/><text x="2650.3" y="1358.6">湘潭</text>
<circle cx="2658.1" cy="1365.2" r="6.5"/><text x="2664.5" y="1373.6">株洲</text>
<circle cx="2693.4" cy="1376.8" r="6.5"/><text x="2690.8" y="1371.5">萍乡</text>
<circle cx="2720.5" cy="1367.7" r="6.5"/><text x="2725.2" y="1362.9">宜春</text>
<circle cx="2750.6" cy="1367.7" r="6.5"/><text x="2754.9" y="1377.9">新余</text>
<circle cx="2596.9" cy="1369.9" r="6.5"/><text x="2601.2" y="1364.2">娄底</text>
<circle cx="2570.7" cy="1394" r="6.5"/><text x="2575" y="1389.6">邵阳</text>
<circle cx="2801.4" cy="1321.7" r="6.5"/><text x="2805.7" y="1316.4">南昌</text>
<circle cx="2865.1" cy="1295" r="6.5"/><text x="2869.4" y="1290.1">景德镇</text>
<circle cx="2860.4" cy="1344.5" r="6.5"/><text x="2865.6" y="1338.3">鹰潭</text>
<circle cx="2908.6" cy="1333.3" r="6.5"/><text x="2912.9" y="1328.4">上饶</text>
<circle cx="2822.5" cy="1360.9" r="6.5"/><text x="2827.3" y="1355.6">临川</text>
<circle cx="2479.8" cy="1340.6" r="6.5"/><text x="2484.1" y="1336.2">吉首</text>
<circle cx="2451.4" cy="1370.3" r="6.5"/><text x="2455.7" y="1365.5">铜仁</text>
<circle cx="2491" cy="1380.7" r="6.5"/><text x="2495.3" y="1375.8">怀化</text>
<circle cx="2332.6" cy="1372.9" r="6.5"/><text x="2336.9" y="1367.6">遵义</text>
<circle cx="2246.5" cy="1391.9" r="6.5"/><text x="2251.2" y="1386.5">毕节</text>
<circle cx="2165.5" cy="1391.4" r="6.5"/><text x="2169.8" y="1386.5">昭通</text>
<circle cx="2311.1" cy="1275.2" r="6.5"/><text x="2315.8" y="1269.9">重庆</text>
<circle cx="2255.5" cy="1310.9" r="6.5"/><text x="2259.8" y="1306">泸州</text>
<circle cx="2211.6" cy="1317.8" r="6.5"/><text x="2215.9" y="1312.5">宜宾</text>
<circle cx="2220.2" cy="1285.9" r="6.5"/><text x="2209.5" y="1281.1">自贡</text>
<circle cx="2234.4" cy="1275.2" r="6.5"/><text x="2239.2" y="1270.3">内江</text>
<circle cx="2167.3" cy="1275.2" r="6.5"/><text x="2171.6" y="1269.9">乐山</text>
<circle cx="2288.7" cy="1211.9" r="6.5"/>
<circle cx="2262" cy="1226.1" r="6.5"/><text x="2267.1" y="1220.8">遂宁</text>
<circle cx="2184.5" cy="1218.4" r="6.5"/><text x="2189.2" y="1213.5">成都</text>
<circle cx="2200.4" cy="1193" r="6.5"/><text x="2205.1" y="1188.5">德阳</text>
<circle cx="2219.4" cy="1175.7" r="6.5"/><text x="2223.7" y="1170.9">绵阳</text>
<circle cx="2362.3" cy="1188.2" r="6.5"/><text x="2366.6" y="1183.3">达县</text>
<circle cx="2073.8" cy="1250.2" r="6.5"/><text x="2078.1" y="1244.9">康定</text>
<circle cx="2126.4" cy="1253.7" r="6.5"/><text x="2131.1" y="1248.8">雅安</text>
<circle cx="2087.6" cy="1153.3" r="6.5"/><text x="2091.9" y="1148">马尔康</text>
<circle cx="2089.8" cy="1363" r="6.5"/><text x="2094.1" y="1357.7">西昌</text>
<circle cx="1956.3" cy="1367.3" r="6.5"/><text x="1960.6" y="1362.9">中甸</text>
<circle cx="2960.9" cy="611.2" r="6.5"/><text x="2965.1" y="605">赤峰</text>
<circle cx="2906.9" cy="679.6" r="6.5"/><text x="2912.2" y="674">承德</text>
<circle cx="2922.2" cy="749.2" r="6.5"/><text x="2926.4" y="743">唐山</text>
<circle cx="2995.4" cy="734" r="6.5"/><text x="2999.6" y="727.3">秦皇岛</text>
<circle cx="3039.9" cy="647.2" r="6.5"/><text x="3043" y="641.6">朝阳</text>
<circle cx="3102" cy="625.4" r="6.5"/><text x="3106.2" y="619.6">阜新</text>
<circle cx="3074.8" cy="671.2" r="6.5"/><text x="3079" y="665.6">锦州</text>
<circle cx="3059.6" cy="690.7" r="6.5"/><text x="3064.4" y="685.5">锦西</text>
<circle cx="3122.9" cy="668.1" r="6.5"/><text x="3127.1" y="661.5">盘锦</text>
<circle cx="3131.9" cy="694.5" r="6.5"/><text x="3136.5" y="687.6">营口</text>
<circle cx="3099.3" cy="786.2" r="6.5"/><text x="3103.1" y="779.6">大连</text>
<circle cx="3173.1" cy="670.8" r="6.5"/>
<circle cx="2912.8" cy="867" r="6.5"/><text x="2915.9" y="861.1">滨州</text>
<circle cx="2937.9" cy="862.1" r="6.5"/><text x="2943.1" y="877.9">东营</text>
<circle cx="2913.8" cy="896.7" r="6.5"/><text x="2909.6" y="892.5">淄博</text>
<circle cx="2969.2" cy="898.7" r="6.5"/><text x="2973.4" y="893.1">潍坊</text>
<circle cx="3088" cy="858.6" r="6.5"/><text x="3092.6" y="852.8">烟台</text>
<circle cx="3126.1" cy="860.5" r="6.5"/><text x="3130.9" y="854.9">威海</text>
<circle cx="2928.9" cy="987.6" r="6.5"/><text x="2933.7" y="982.5">临沂</text>
<circle cx="2987" cy="968.4" r="6.5"/><text x="2992.2" y="962.6">日照</text>
<circle cx="2972.4" cy="1012.1" r="6.5"/><text x="2977.6" y="1006.5">连云港</text>
<circle cx="2868.9" cy="1029" r="6.5"/>
<circle cx="2964" cy="1065" r="6.5"/><text x="2969.2" y="1059.8">淮阴</text>
<circle cx="3022.6" cy="1075.9" r="6.5"/><text x="3027.8" y="1070.3">盐城</text>
<circle cx="2927" cy="1131.9" r="6.5"/><text x="2931.6" y="1126.7">滁州</text>
<circle cx="2986.6" cy="1127.7" r="6.5"/><text x="2991.2" y="1130.9">镇江</text>
<circle cx="2986.6" cy="1137.1" r="6.5"/><text x="2959.8" y="1145.6">扬州</text>
<circle cx="2951.9" cy="1145.9" r="6.5"/><text x="2956.7" y="1161.2">南京</text>
<circle cx="2929.9" cy="1182.7" r="6.5"/><text x="2929.5" y="1179">芜湖</text>
<circle cx="3013.1" cy="1159.1" r="6.5"/><text x="3018.4" y="1153.9">常州</text>
<circle cx="3030.9" cy="1170.6" r="6.5"/><text x="2995.4" y="1169.6">无锡</text>
<circle cx="3060.2" cy="1147.6" r="6.5"/><text x="3065.4" y="1141.4">南通</text>
<circle cx="3048.3" cy="1183.8" r="6.5"/><text x="3052.9" y="1178">苏州</text>
<circle cx="3093" cy="1187.7" r="6.5"/><text x="3098.9" y="1182.1">上海</text>
<circle cx="2949.8" cy="1203" r="6.5"/><text x="2954.6" y="1197.8">宣州</text>
<circle cx="3020.9" cy="1207.6" r="6.5"/><text x="3025.1" y="1202">湖州</text>
<circle cx="3055" cy="1212" r="6.5"/><text x="3059.8" y="1207.2">嘉兴</text>
<circle cx="2901.3" cy="1204.7" r="6.5"/>
<circle cx="3023.6" cy="1239.2" r="6.5"/><text x="3018.4" y="1233.4">杭州</text>
<circle cx="3045.1" cy="1252.1" r="6.5"/><text x="3049.7" y="1245.9">绍兴</text>
<circle cx="3096.8" cy="1259.9" r="6.5"/><text x="3098.9" y="1254.3">宁波</text>
<circle cx="3126.1" cy="1252.6" r="6.5"/><text x="3130.2" y="1247">舟山</text>
<circle cx="2927" cy="1267.4" r="6.5"/><text x="2931.6" y="1261.6">黄山</text>
<circle cx="2936.4" cy="1162.9" r="6.5"/><text x="2909.6" y="1163.3">巢湖</text>
<circle cx="2904.4" cy="1168.5" r="6.5"/><text x="2886.6" y="1179">马鞍山</text>
<circle cx="2956.7" cy="1307.2" r="6.5"/><text x="2961.9" y="1301">衢州</text>
<circle cx="2997.5" cy="1299.4" r="6.5"/><text x="3001.6" y="1293.6">金华</text>
<circle cx="3073.8" cy="1312.8" r="6.5"/><text x="3079" y="1307.2">临海</text>
<circle cx="3011.5" cy="1333.7" r="6.5"/><text x="3016.3" y="1328.1">丽水</text>
<circle cx="3050.4" cy="1356.3" r="6.5"/><text x="3053.9" y="1351.1">温州</text>
<circle cx="2920.5" cy="1428.5" r="6.5"/><text x="2924.7" y="1423.3">南平</text>
<circle cx="2890.2" cy="1450.4" r="6.5"/><text x="2895" y="1445.2">三明</text>
<circle cx="2990.6" cy="1427.4" r="6.5"/><text x="2995.4" y="1422.2">宁德</text>
<circle cx="2979.1" cy="1458.2" r="6.5"/><text x="2983.9" y="1452.6">福州</text>
<circle cx="2964" cy="1491.2" r="6.5"/><text x="2969.2" y="1486">莆田</text>
<circle cx="2942.1" cy="1518.4" r="6.5"/><text x="2947.3" y="1513.2">泉州</text>
<circle cx="2860.9" cy="1507.9" r="6.5"/><text x="2865.7" y="1502.7">龙岩</text>
<circle cx="2892.9" cy="1539.3" r="6.5"/><text x="2897.5" y="1534.1">漳州</text>
<circle cx="2915.9" cy="1541.8" r="6.5"/><text x="2920.1" y="1550.8">厦门</text>
<circle cx="2812.4" cy="1549.7" r="6.5"/><text x="2817.2" y="1544.6">梅州</text>
<circle cx="2842.7" cy="1599.9" r="6.5"/><text x="2847.3" y="1595.2">汕头</text>
<circle cx="3106.2" cy="1506.9" r="6.5"/><text x="3099.9" y="1505.9">台北</text>
<circle cx="3094.7" cy="1512.1" r="6.5"/><text x="3110.4" y="1521.6">基隆</text>
<circle cx="3051.2" cy="1559.6" r="6.5"/><text x="3055.6" y="1552.9">台中</text>
<circle cx="3026.7" cy="1616.7" r="6.5"/><text x="3030.9" y="1612.5">台南</text>
<circle cx="3244.2" cy="723.3" r="6.5"/><text x="3248.5" y="718.4">丹东</text>
<circle cx="3031" cy="1637.8" r="6.5"/><text x="3035.3" y="1632.9">高雄</text>
<circle cx="3002.1" cy="248.1" r="6.5"/><text x="3006.4" y="243.2">海拉尔</text>
<circle cx="3230.8" cy="184.8" r="6.5"/><text x="3235.1" y="179.9">加格达奇</text>
<circle cx="3407" cy="194.3" r="6.5"/><text x="3411.3" y="189.4">黑河</text>
<circle cx="3481.1" cy="325.7" r="6.5"/><text x="3485.4" y="320.8">伊春</text>
<circle cx="3551.8" cy="346.3" r="6.5"/><text x="3556.1" y="341.5">鹤岗</text>
<circle cx="3556.9" cy="374.3" r="6.5"/><text x="3561.2" y="369.5">佳木斯</text>
<circle cx="3598.3" cy="382.5" r="6.5"/><text x="3602.6" y="377.7">双鸭山</text>
<circle cx="3583.2" cy="426.9" r="6.5"/><text x="3587.5" y="422">七台河</text>
<circle cx="3587.1" cy="453.2" r="6.5"/><text x="3591.4" y="448.3">鸡西</text>
<circle cx="3516.9" cy="491.1" r="6.5"/><text x="3521.2" y="486.2">牡丹江</text>
<circle cx="3222.2" cy="345.9" r="6.5"/><text x="3226.5" y="341">齐齐哈尔</text>
<circle cx="3278.2" cy="386" r="6.5"/><text x="3282.5" y="381.1">大庆</text>
<circle cx="3380.3" cy="382.5" r="6.5"/><text x="3384.6" y="377.7">绥化</text>
<circle cx="3362.7" cy="429.9" r="6.5"/><text x="3367" y="425">哈尔滨</text>
<circle cx="3124" cy="413.5" r="6.5"/><text x="3128.7" y="408.7">乌兰浩特</text>
<circle cx="3163.6" cy="436.8" r="6.5"/><text x="3167.9" y="431.9">白城</text>
<circle cx="3293.3" cy="526.4" r="6.5"/><text x="3297.6" y="521.5">长春</text>
<circle cx="3358.8" cy="526.4" r="6.5"/><text x="3363.1" y="521.5">吉林</text>
<circle cx="3133.5" cy="541.1" r="6.5"/><text x="3137.8" y="536.2">通辽</text>
<circle cx="3244.2" cy="564.7" r="6.5"/><text x="3248.5" y="559.9">四平</text>
<circle cx="3283.8" cy="578.1" r="6.5"/><text x="3288.1" y="573.2">辽源</text>
<circle cx="3512.1" cy="578.1" r="6.5"/><text x="3516.4" y="573.2">延吉</text>
<circle cx="3217.1" cy="610" r="6.5"/><text x="3221.4" y="605.1">铁岭</text>
<circle cx="3193.8" cy="635.8" r="6.5"/><text x="3192.5" y="630.9">沈阳</text>
<circle cx="3220.9" cy="633.2" r="6.5"/><text x="3225.2" y="628.4">抚顺</text>
<circle cx="3180.9" cy="663.8" r="6.5"/><text x="3185.2" y="658.9">辽阳</text>
<circle cx="3171" cy="672" r="6.5"/><text x="3175.7" y="674">鞍山</text>
<circle cx="3211.9" cy="662.1" r="6.5"/><text x="3216.2" y="674.5">本溪</text>
<circle cx="3324.7" cy="639.7" r="6.5"/><text x="3329.1" y="634.8">通化</text>
<circle cx="3351.5" cy="629.4" r="6.5"/>
<circle cx="2357.6" cy="690.1" r="6.5"/><text x="2361.9" y="684.8">临河</text>
<circle cx="2485.9" cy="694" r="6.5"/><text x="2490.2" y="689.1">包头</text>
<circle cx="2580.1" cy="686.7" r="6.5"/><text x="2584.4" y="681.8">呼和浩特</text>
<circle cx="2655" cy="675.5" r="6.5"/><text x="2659.4" y="670.6">集宁</text>
<circle cx="2748" cy="686.7" r="6.5"/><text x="2752.3" y="681.8">张家口</text>
<circle cx="2810.5" cy="523.9" r="6.5"/><text x="2814.8" y="519.1">锡林浩特</text>
<circle cx="1180.5" cy="437.8" r="6.5"/><text x="1185.7" y="433">克拉玛依</text>
<circle cx="1034.1" cy="473.6" r="6.5"/><text x="1039.7" y="468.3">博乐</text>
<circle cx="995.4" cy="525.7" r="6.5"/><text x="999.7" y="520.8">伊宁</text>
<circle cx="1307.9" cy="520.1" r="6.5"/><text x="1312.7" y="515.6">昌吉</text>
<circle cx="1323.4" cy="532.1" r="6.5"/><text x="1329" y="529.4">乌鲁木齐</text>
<circle cx="1405.2" cy="575.6" r="6.5"/><text x="1410" y="570.7">吐鲁番</text>
<circle cx="1632.1" cy="582.9" r="6.5"/><text x="1636.4" y="578.1">哈密</text>
<circle cx="1246.4" cy="637.6" r="6.5"/><text x="1251.1" y="632.7">库尔勒</text>
<circle cx="939.8" cy="668.6" r="6.5"/><text x="944.1" y="664.2">阿克苏</text>
<circle cx="726.7" cy="744.5" r="6.5"/><text x="730.6" y="753">喀什</text>
<circle cx="717.3" cy="758.3" r="6.5"/>
<circle cx="931.2" cy="1122.3" r="6.5"/><text x="904.1" y="1116.1">噶尔噶尔</text>
<circle cx="1880.1" cy="740" r="6.5"/><text x="1850" y="735.6">嘉峪关</text>
<circle cx="1893" cy="743.1" r="6.5"/><text x="1895.2" y="737.7">酒泉</text>
<circle cx="1832.7" cy="867" r="6.5"/><text x="1837" y="861.7">德令哈</text>
<circle cx="1814.7" cy="1095.2" r="6.5"/><text x="1819" y="1089.9">玉树</text>
<circle cx="1556.3" cy="1175.3" r="6.5"/><text x="1527.9" y="1170.4">那曲那曲</text>
<circle cx="1823.3" cy="1193.4" r="6.5"/><text x="1795.3" y="1188.5">昌都昌都</text>
<circle cx="1390.2" cy="1290.7" r="6.5"/><text x="1395.8" y="1285.4">日喀则</text>
<circle cx="1508.1" cy="1270.4" r="6.5"/><text x="1512" y="1265.1">拉萨</text>
<circle cx="1541.7" cy="1293.3" r="6.5"/><text x="1496.9" y="1288">泽当镇乃东</text>
<circle cx="1675.6" cy="1270.9" r="6.5"/><text x="1640.3" y="1265.6">八一镇</text>
<circle cx="1682.9" cy="1275.2" r="6.5"/><text x="1685.5" y="1269.9">林芝</text>
<circle cx="1909.4" cy="1462.9" r="6.5"/><text x="1913.7" y="1457.6">泸水</text>
<circle cx="1927.5" cy="1508.5" r="6.5"/><text x="1930.9" y="1503.2">保山</text>
<circle cx="1897.3" cy="1543.4" r="6.5"/><text x="1901.6" y="1538.1">潞西</text>
<circle cx="1983.4" cy="1416.4" r="6.5"/><text x="1988.6" y="1411.1">丽江纳西族自治县</text>
<circle cx="2059.6" cy="1433.2" r="6.5"/><text x="2064.8" y="1428.3">攀枝花</text>
<circle cx="2137.1" cy="1457.3" r="6.5"/><text x="2141.9" y="1451.5">东川</text>
<circle cx="1982.6" cy="1483.5" r="6.5"/><text x="1987.3" y="1478.6">大理</text>
<circle cx="2169.4" cy="1488.3" r="6.5"/><text x="2173.7" y="1483.4">曲靖</text>
<circle cx="2051.9" cy="1512.8" r="6.5"/><text x="2056.2" y="1507.9">楚雄</text>
<circle cx="2112.2" cy="1511.9" r="6.5"/><text x="2116.9" y="1507.1">昆明</text>
<circle cx="2102.7" cy="1548.1" r="6.5"/><text x="2107.4" y="1543.2">玉溪</text>
<circle cx="1976.1" cy="1572.6" r="6.5"/><text x="1980.4" y="1566.9">临沧</text>
<circle cx="2136.3" cy="1600.2" r="6.5"/><text x="2140.6" y="1594.9">个旧</text>
<circle cx="2193.1" cy="1599.3" r="6.5"/><text x="2197.4" y="1594.9">文山</text>
<circle cx="2022.2" cy="1629.5" r="6.5"/><text x="2026.5" y="1624.2">思茅</text>
<circle cx="2012.7" cy="1670.4" r="6.5"/><text x="2017" y="1665.1">景洪</text>
<circle cx="2226.2" cy="1432.3" r="6.5"/><text x="2231" y="1427">六盘水</text>
<circle cx="2280.9" cy="1449.5" r="6.5"/><text x="2285.7" y="1444.6">安顺</text>
<circle cx="2321.4" cy="1432.3" r="6.5"/><text x="2326.1" y="1427">贵阳</text>
<circle cx="2363.2" cy="1448.2" r="6.5"/><text x="2367.9" y="1443.3">都匀</text>
<circle cx="2388.1" cy="1431.4" r="6.5"/><text x="2392.9" y="1426.6">凯里</text>
<circle cx="2227.1" cy="1510.2" r="6.5"/><text x="2231.8" y="1505.3">兴义</text>
<circle cx="2316.2" cy="1571.8" r="6.5"/><text x="2320.5" y="1566.9">百色</text>
<circle cx="2391.6" cy="1530" r="6.5"/><text x="2396.3" y="1524.7">河池</text>
<circle cx="2462.2" cy="1550.7" r="6.5"/><text x="2466.5" y="1545.4">柳州</text>
<circle cx="2508.2" cy="1499.5" r="6.5"/><text x="2513" y="1494.6">桂林</text>
<circle cx="2404.9" cy="1628.6" r="6.5"/><text x="2409.6" y="1623.7">南宁</text>
<circle cx="2500.9" cy="1638.1" r="6.5"/><text x="2505.7" y="1633.2">玉林</text>
<circle cx="2561.2" cy="1593.7" r="6.5"/><text x="2565.5" y="1588.4">梧州</text>
<circle cx="2421.3" cy="1673.8" r="6.5"/><text x="2425.6" y="1668.9">钦州</text>
<circle cx="2448" cy="1698.8" r="6.5"/><text x="2452.3" y="1693.5">北海</text>
<circle cx="2514.3" cy="1713" r="6.5"/><text x="2518.6" y="1707.7">湛江</text>
<circle cx="2540.1" cy="1688.5" r="6.5"/><text x="2544.4" y="1683.1">茂名</text>
<circle cx="2595.6" cy="1679" r="6.5"/><text x="2599.9" y="1673.7">阳江</text>
<circle cx="2511.3" cy="1773.7" r="6.5"/><text x="2516" y="1768.4">海口</text>
<circle cx="2468.2" cy="1868.4" r="6.5"/><text x="2472.5" y="1863.1">三亚</text>
<circle cx="2577.6" cy="1451.7" r="6.5"/><text x="2581.9" y="1446.4">永州</text>
<circle cx="2651.6" cy="1472.3" r="6.5"/><text x="2655.9" y="1467">郴州</text>
<circle cx="2629.2" cy="1415.9" r="6.5"/><text x="2633.5" y="1409.8">衡阳</text>
<circle cx="2751.5" cy="1469.3" r="6.5"/><text x="2755.8" y="1463.6">赣州</text>
<circle cx="2681.7" cy="1524.9" r="6.5"/><text x="2686" y="1519.5">韶关</text>
<circle cx="2651.6" cy="1581.3" r="6.5"/><text x="2655.9" y="1576.4">清远</text>
<circle cx="2738.6" cy="1580.4" r="6.5"/><text x="2742.9" y="1575.1">河源</text>
<circle cx="2621" cy="1616.6" r="6.5"/><text x="2625.3" y="1611.2">肇庆</text>
<circle cx="2654.6" cy="1617.8" r="6.5"/>
<circle cx="2663.2" cy="1612.7" r="6.5"/><text x="2660.2" y="1611.2">佛山</text>
<circle cx="2689.1" cy="1616.1" r="6.5"/><text x="2693.4" y="1611.2">东莞</text>
<circle cx="2722.6" cy="1614" r="6.5"/><text x="2726.9" y="1609.1">惠州</text>
<circle cx="2654.2" cy="1639.8" r="6.5"/><text x="2643" y="1635.4">江门</text>
<circle cx="2669.3" cy="1643.7" r="6.5"/><text x="2675.3" y="1637.9">中山</text>
<circle cx="2708.4" cy="1641.5" r="6.5"/>
<circle cx="2710.6" cy="1656.2" r="6.5"/><text x="2714.9" y="1652.1">香港</text>
<circle cx="2678.7" cy="1654.9" r="6.5"/><text x="2683.9" y="1656.5">澳门</text>
<circle cx="2679.6" cy="1660.5" r="6.5"/><text x="2683.9" y="1670.2">珠海</text>
<circle cx="2773.4" cy="1631.2" r="6.5"/><text x="2777.7" y="1625.9">汕尾</text>
<circle cx="2752.9" cy="1403.5" r="6.5"/><text x="2758.3" y="1398.5">吉安</text>
</g>
<g class="lg" shape-rendering="crispEdges">
<rect x="1663" y="2708" width="66" height="32" fill="#fffee6" stroke="#999" stroke-width="1.5"/>
<rect x="1729" y="2708" width="66" height="32" fill="#ffffcc" stroke="#999" stroke-width="1.5"/>
<rect x="1795.1" y="2708" width="66" height="32" fill="#ffff99" stroke="#999" stroke-width="1.5"/>
<rect x="1861.2" y="2708" width="66" height="32" fill="#ffe566" stroke="#999" stroke-width="1.5"/>
<rect x="1927.2" y="2708" width="66" height="32" fill="#ffcc00" stroke="#999" stroke-width="1.5"/>
<rect x="1993.2" y="2708" width="66" height="32" fill="#ff9900" stroke="#999" stroke-width="1.5"/>
<rect x="2059.3" y="2708" width="66" height="32" fill="#ff6600" stroke="#999" stroke-width="1.5"/>
<rect x="2125.3" y="2708" width="66" height="32" fill="#ff0000" stroke="#999" stroke-width="1.5"/>
<rect x="2191.4" y="2708" width="66" height="32" fill="#c0232c" stroke="#999" stroke-width="1.5"/>
<text x="1663" y="2777" text-anchor="middle">0.1</text>
<text x="1729" y="2777" text-anchor="middle">0.2</text>
<text x="1795.1" y="2777" text-anchor="middle">0.3</text>
<text x="1861.2" y="2777" text-anchor="middle">0.4</text>
<text x="1927.2" y="2777" text-anchor="middle">0.5</text>
<text x="1993.2" y="2777" text-anchor="middle">0.6</text>
<text x="2059.3" y="2777" text-anchor="middle">0.7</text>
<text x="2125.3" y="2777" text-anchor="middle">0.8</text>
<text x="2191.4" y="2777" text-anchor="middle">0.9</text>
<text x="2257.4" y="2777" text-anchor="middle">1</text>
</g>
</svg>
<svg width="3905" height="2800" viewBox="0 0 3905 2800" xmlns="http://www.w3.org/2000/svg" style="position:absolute;left:0;top:0">
<text x="111" y="2586" fill="#000"><tspan font-family="'Noto Serif CJK SC',serif" font-weight="600" font-size="56">晚霞光照强度</tspan><tspan font-family="'Liberation Sans',Arial,sans-serif" font-weight="700" font-size="50">_2024-01-13</tspan></text>
<text x="108" y="2656" fill="#000"><tspan font-family="'Noto Serif CJK SC',serif" font-size="42">制作时间：</tspan><tspan x="334" font-family="'Liberation Sans',Arial,sans-serif" font-weight="700" font-size="39.3">2024-01-13 12:00</tspan></text>
<text x="108" y="2736" fill="#000"><tspan font-family="'Noto Serif CJK SC',serif" font-size="42">数据批次：</tspan><tspan x="334" font-family="'Liberation Sans',Arial,sans-serif" font-weight="700" font-size="40.5">2024011300UTC</tspan></text>
</svg>
</body></html>
